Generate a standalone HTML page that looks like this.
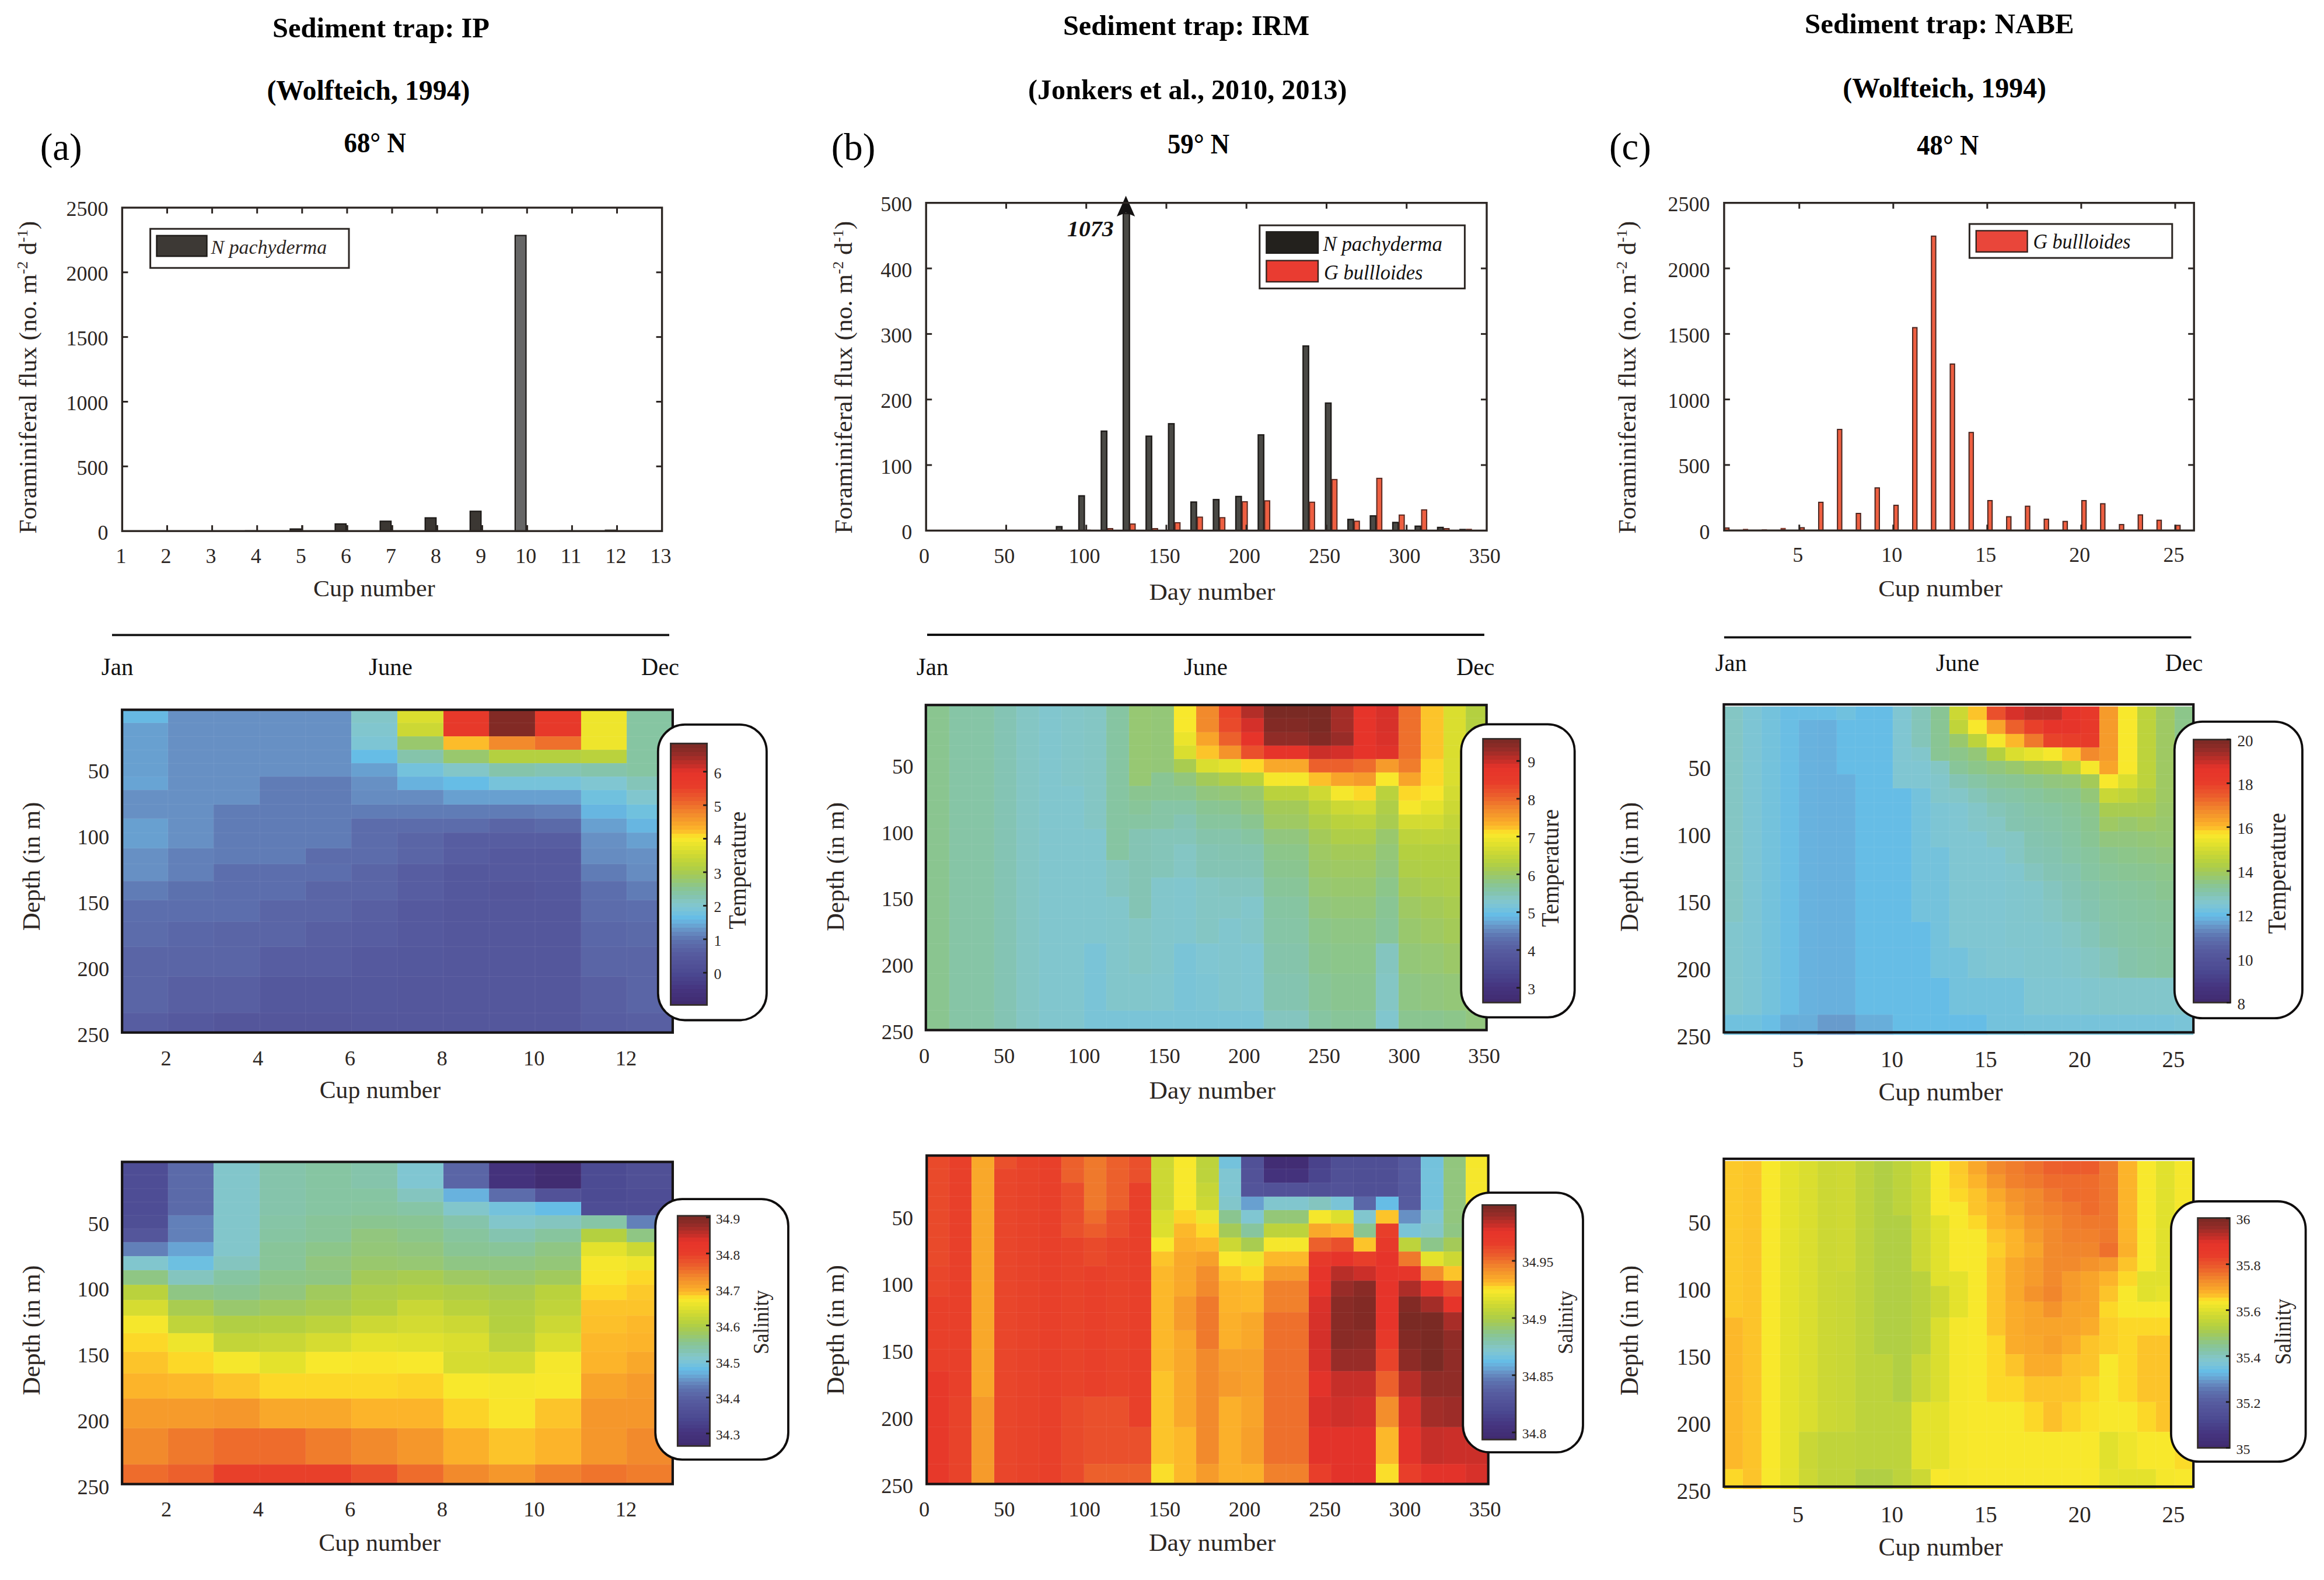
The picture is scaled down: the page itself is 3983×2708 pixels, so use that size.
<!DOCTYPE html>
<html lang="en"><head><meta charset="utf-8"><title>Sediment trap foraminiferal fluxes</title>
<style>html,body{margin:0;padding:0;background:#fff}svg{display:block}text{font-family:"Liberation Serif","Times New Roman",Times,serif}</style>
</head><body>
<svg width="3983" height="2708" viewBox="0 0 3983 2708">
<rect x="0" y="0" width="3983" height="2708" fill="#ffffff"/>
<text x="466.9" y="63.7" font-size="48" fill="#000000" font-weight="bold" textLength="372.1" lengthAdjust="spacingAndGlyphs">Sediment trap: IP</text>
<text x="457.4" y="171.3" font-size="48" fill="#000000" font-weight="bold" textLength="348.1" lengthAdjust="spacingAndGlyphs">(Wolfteich, 1994)</text>
<text x="589.5" y="260.8" font-size="48" fill="#000000" font-weight="bold" textLength="106.3" lengthAdjust="spacingAndGlyphs">68° N</text>
<text x="1821.9" y="59.9" font-size="48" fill="#000000" font-weight="bold" textLength="422.3" lengthAdjust="spacingAndGlyphs">Sediment trap: IRM</text>
<text x="1762" y="169.5" font-size="48" fill="#000000" font-weight="bold" textLength="546.6" lengthAdjust="spacingAndGlyphs">(Jonkers et al., 2010, 2013)</text>
<text x="2000.9" y="262.9" font-size="48" fill="#000000" font-weight="bold" textLength="106.3" lengthAdjust="spacingAndGlyphs">59° N</text>
<text x="3093.1" y="57.4" font-size="48" fill="#000000" font-weight="bold" textLength="461.5" lengthAdjust="spacingAndGlyphs">Sediment trap: NABE</text>
<text x="3158.2" y="167.3" font-size="48" fill="#000000" font-weight="bold" textLength="348.9" lengthAdjust="spacingAndGlyphs">(Wolfteich, 1994)</text>
<text x="3285.2" y="265" font-size="48" fill="#000000" font-weight="bold" textLength="106" lengthAdjust="spacingAndGlyphs">48° N</text>
<text x="68.8" y="273.7" font-size="65" fill="#000000" textLength="71.9" lengthAdjust="spacingAndGlyphs">(a)</text>
<text x="1424.7" y="274.1" font-size="65" fill="#000000" textLength="75.6" lengthAdjust="spacingAndGlyphs">(b)</text>
<text x="2758" y="273.3" font-size="65" fill="#000000" textLength="71.7" lengthAdjust="spacingAndGlyphs">(c)</text>
<rect x="265.5" y="908.93" width="19.5" height="1.27" fill="#3b3733"/>
<rect x="419.7" y="908.71" width="19.5" height="1.49" fill="#3b3733"/>
<rect x="497.4" y="906.65" width="18.6" height="3.55" fill="#3b3733" stroke="#1d1a18" stroke-width="2.2"/>
<rect x="516.6" y="900.2" width="3" height="10" fill="#3b3733"/>
<rect x="574.5" y="898.01" width="18.6" height="12.19" fill="#3b3733" stroke="#1d1a18" stroke-width="2.2"/>
<rect x="593.7" y="900.2" width="3" height="10" fill="#3b3733"/>
<rect x="651.6" y="893.35" width="18.6" height="16.85" fill="#3b3733" stroke="#1d1a18" stroke-width="2.2"/>
<rect x="670.8" y="900.2" width="3" height="10" fill="#3b3733"/>
<rect x="728.7" y="887.58" width="18.6" height="22.62" fill="#3b3733" stroke="#1d1a18" stroke-width="2.2"/>
<rect x="747.9" y="900.2" width="3" height="10" fill="#3b3733"/>
<rect x="805.8" y="876.28" width="18.6" height="33.92" fill="#3b3733" stroke="#1d1a18" stroke-width="2.2"/>
<rect x="825" y="900.2" width="3" height="10" fill="#3b3733"/>
<rect x="882.9" y="403.57" width="18.6" height="506.63" fill="#666666" stroke="#1d1a18" stroke-width="2.2"/>
<rect x="902.1" y="900.2" width="3" height="10" fill="#3b3733"/>
<rect x="959.4" y="908.71" width="19.5" height="1.49" fill="#3b3733"/>
<rect x="1036.5" y="907.6" width="19.5" height="2.6" fill="#3b3733"/>
<rect x="209.4" y="355.9" width="925.2" height="554.3" fill="none" stroke="#2c2623" stroke-width="3.4"/>
<line x1="286.5" y1="355.9" x2="286.5" y2="365.9" stroke="#2c2623" stroke-width="3"/>
<line x1="286.5" y1="910.2" x2="286.5" y2="900.2" stroke="#2c2623" stroke-width="3"/>
<line x1="363.6" y1="355.9" x2="363.6" y2="365.9" stroke="#2c2623" stroke-width="3"/>
<line x1="363.6" y1="910.2" x2="363.6" y2="900.2" stroke="#2c2623" stroke-width="3"/>
<line x1="440.7" y1="355.9" x2="440.7" y2="365.9" stroke="#2c2623" stroke-width="3"/>
<line x1="440.7" y1="910.2" x2="440.7" y2="900.2" stroke="#2c2623" stroke-width="3"/>
<line x1="517.8" y1="355.9" x2="517.8" y2="365.9" stroke="#2c2623" stroke-width="3"/>
<line x1="517.8" y1="910.2" x2="517.8" y2="900.2" stroke="#2c2623" stroke-width="3"/>
<line x1="594.9" y1="355.9" x2="594.9" y2="365.9" stroke="#2c2623" stroke-width="3"/>
<line x1="594.9" y1="910.2" x2="594.9" y2="900.2" stroke="#2c2623" stroke-width="3"/>
<line x1="672" y1="355.9" x2="672" y2="365.9" stroke="#2c2623" stroke-width="3"/>
<line x1="672" y1="910.2" x2="672" y2="900.2" stroke="#2c2623" stroke-width="3"/>
<line x1="749.1" y1="355.9" x2="749.1" y2="365.9" stroke="#2c2623" stroke-width="3"/>
<line x1="749.1" y1="910.2" x2="749.1" y2="900.2" stroke="#2c2623" stroke-width="3"/>
<line x1="826.2" y1="355.9" x2="826.2" y2="365.9" stroke="#2c2623" stroke-width="3"/>
<line x1="826.2" y1="910.2" x2="826.2" y2="900.2" stroke="#2c2623" stroke-width="3"/>
<line x1="903.3" y1="355.9" x2="903.3" y2="365.9" stroke="#2c2623" stroke-width="3"/>
<line x1="903.3" y1="910.2" x2="903.3" y2="900.2" stroke="#2c2623" stroke-width="3"/>
<line x1="980.4" y1="355.9" x2="980.4" y2="365.9" stroke="#2c2623" stroke-width="3"/>
<line x1="980.4" y1="910.2" x2="980.4" y2="900.2" stroke="#2c2623" stroke-width="3"/>
<line x1="1057.5" y1="355.9" x2="1057.5" y2="365.9" stroke="#2c2623" stroke-width="3"/>
<line x1="1057.5" y1="910.2" x2="1057.5" y2="900.2" stroke="#2c2623" stroke-width="3"/>
<line x1="209.4" y1="799.34" x2="219.4" y2="799.34" stroke="#2c2623" stroke-width="3"/>
<line x1="1134.6" y1="799.34" x2="1124.6" y2="799.34" stroke="#2c2623" stroke-width="3"/>
<line x1="209.4" y1="688.48" x2="219.4" y2="688.48" stroke="#2c2623" stroke-width="3"/>
<line x1="1134.6" y1="688.48" x2="1124.6" y2="688.48" stroke="#2c2623" stroke-width="3"/>
<line x1="209.4" y1="577.62" x2="219.4" y2="577.62" stroke="#2c2623" stroke-width="3"/>
<line x1="1134.6" y1="577.62" x2="1124.6" y2="577.62" stroke="#2c2623" stroke-width="3"/>
<line x1="209.4" y1="466.76" x2="219.4" y2="466.76" stroke="#2c2623" stroke-width="3"/>
<line x1="1134.6" y1="466.76" x2="1124.6" y2="466.76" stroke="#2c2623" stroke-width="3"/>
<text x="185.5" y="924.7" font-size="36" text-anchor="end" fill="#2c2623" textLength="18" lengthAdjust="spacingAndGlyphs">0</text>
<text x="185.5" y="813.84" font-size="36" text-anchor="end" fill="#2c2623" textLength="54" lengthAdjust="spacingAndGlyphs">500</text>
<text x="185.5" y="702.98" font-size="36" text-anchor="end" fill="#2c2623" textLength="72" lengthAdjust="spacingAndGlyphs">1000</text>
<text x="185.5" y="592.12" font-size="36" text-anchor="end" fill="#2c2623" textLength="72" lengthAdjust="spacingAndGlyphs">1500</text>
<text x="185.5" y="481.26" font-size="36" text-anchor="end" fill="#2c2623" textLength="72" lengthAdjust="spacingAndGlyphs">2000</text>
<text x="185.5" y="370.4" font-size="36" text-anchor="end" fill="#2c2623" textLength="72" lengthAdjust="spacingAndGlyphs">2500</text>
<text x="207.4" y="965" font-size="36" text-anchor="middle" fill="#2c2623" textLength="18" lengthAdjust="spacingAndGlyphs">1</text>
<text x="284.5" y="965" font-size="36" text-anchor="middle" fill="#2c2623" textLength="18" lengthAdjust="spacingAndGlyphs">2</text>
<text x="361.6" y="965" font-size="36" text-anchor="middle" fill="#2c2623" textLength="18" lengthAdjust="spacingAndGlyphs">3</text>
<text x="438.7" y="965" font-size="36" text-anchor="middle" fill="#2c2623" textLength="18" lengthAdjust="spacingAndGlyphs">4</text>
<text x="515.8" y="965" font-size="36" text-anchor="middle" fill="#2c2623" textLength="18" lengthAdjust="spacingAndGlyphs">5</text>
<text x="592.9" y="965" font-size="36" text-anchor="middle" fill="#2c2623" textLength="18" lengthAdjust="spacingAndGlyphs">6</text>
<text x="670" y="965" font-size="36" text-anchor="middle" fill="#2c2623" textLength="18" lengthAdjust="spacingAndGlyphs">7</text>
<text x="747.1" y="965" font-size="36" text-anchor="middle" fill="#2c2623" textLength="18" lengthAdjust="spacingAndGlyphs">8</text>
<text x="824.2" y="965" font-size="36" text-anchor="middle" fill="#2c2623" textLength="18" lengthAdjust="spacingAndGlyphs">9</text>
<text x="901.3" y="965" font-size="36" text-anchor="middle" fill="#2c2623" textLength="36" lengthAdjust="spacingAndGlyphs">10</text>
<text x="978.4" y="965" font-size="36" text-anchor="middle" fill="#2c2623" textLength="36" lengthAdjust="spacingAndGlyphs">11</text>
<text x="1055.5" y="965" font-size="36" text-anchor="middle" fill="#2c2623" textLength="36" lengthAdjust="spacingAndGlyphs">12</text>
<text x="1132.6" y="965" font-size="36" text-anchor="middle" fill="#2c2623" textLength="36" lengthAdjust="spacingAndGlyphs">13</text>
<text x="537" y="1022" font-size="41" fill="#2c2623" textLength="208.7" lengthAdjust="spacingAndGlyphs">Cup number</text>
<text x="62.3" y="914.8" font-size="43" fill="#2c2623" textLength="536" lengthAdjust="spacingAndGlyphs" transform="rotate(-90 62.3 914.8)">Foraminiferal flux (no. m<tspan font-size="26" dy="-15">-2</tspan><tspan dy="15"> d</tspan><tspan font-size="26" dy="-15">-1</tspan><tspan dy="15">)</tspan></text>
<rect x="257.6" y="392.2" width="340.4" height="67" fill="#fff" stroke="#2c2623" stroke-width="3"/>
<rect x="268.5" y="403.8" width="86" height="35.4" fill="#3d3935" stroke="#1d1a18" stroke-width="2.4"/>
<text x="361.6" y="434.6" font-size="33.5" fill="#2c2623" font-style="italic" textLength="198.5" lengthAdjust="spacingAndGlyphs">N pachyderma</text>
<line x1="192" y1="1088.3" x2="1147" y2="1088.3" stroke="#111" stroke-width="3.8"/>
<text x="173.8" y="1157.3" font-size="42" fill="#111" textLength="54.7" lengthAdjust="spacingAndGlyphs">Jan</text>
<text x="632" y="1157.3" font-size="42" fill="#111" textLength="74.8" lengthAdjust="spacingAndGlyphs">June</text>
<text x="1099" y="1157.3" font-size="42" fill="#111" textLength="65" lengthAdjust="spacingAndGlyphs">Dec</text>
<rect x="1810.6" y="902.66" width="9.4" height="6.74" fill="#4a4945" stroke="#1f1c1a" stroke-width="2.4"/>
<rect x="1849.03" y="849.86" width="9.4" height="59.54" fill="#4a4945" stroke="#1f1c1a" stroke-width="2.4"/>
<rect x="1859.43" y="907.73" width="10" height="1.67" fill="#7a3a30"/>
<rect x="1887.46" y="738.98" width="9.4" height="170.42" fill="#4a4945" stroke="#1f1c1a" stroke-width="2.4"/>
<rect x="1898.46" y="906.03" width="8.6" height="3.37" fill="#ee5f41" stroke="#5a2a22" stroke-width="2"/>
<rect x="1925.09" y="366" width="10.6" height="543.4" fill="#4a4945" stroke="#1f1c1a" stroke-width="2.4"/>
<rect x="1936.89" y="898.17" width="8.6" height="11.23" fill="#ee5f41" stroke="#5a2a22" stroke-width="2"/>
<rect x="1964.32" y="747.63" width="9.4" height="161.77" fill="#4a4945" stroke="#1f1c1a" stroke-width="2.4"/>
<rect x="1975.32" y="906.03" width="8.6" height="3.37" fill="#ee5f41" stroke="#5a2a22" stroke-width="2"/>
<rect x="2002.75" y="726.29" width="9.4" height="183.11" fill="#4a4945" stroke="#1f1c1a" stroke-width="2.4"/>
<rect x="2013.75" y="895.92" width="8.6" height="13.48" fill="#ee5f41" stroke="#5a2a22" stroke-width="2"/>
<rect x="2041.18" y="860.53" width="9.4" height="48.87" fill="#4a4945" stroke="#1f1c1a" stroke-width="2.4"/>
<rect x="2052.18" y="886.37" width="8.6" height="23.03" fill="#ee5f41" stroke="#5a2a22" stroke-width="2"/>
<rect x="2079.61" y="856.26" width="9.4" height="53.14" fill="#4a4945" stroke="#1f1c1a" stroke-width="2.4"/>
<rect x="2090.61" y="887.27" width="8.6" height="22.13" fill="#ee5f41" stroke="#5a2a22" stroke-width="2"/>
<rect x="2118.04" y="850.98" width="9.4" height="58.42" fill="#4a4945" stroke="#1f1c1a" stroke-width="2.4"/>
<rect x="2129.04" y="859.97" width="8.6" height="49.43" fill="#ee5f41" stroke="#5a2a22" stroke-width="2"/>
<rect x="2156.47" y="745.38" width="9.4" height="164.02" fill="#4a4945" stroke="#1f1c1a" stroke-width="2.4"/>
<rect x="2167.47" y="858.4" width="8.6" height="51" fill="#ee5f41" stroke="#5a2a22" stroke-width="2"/>
<rect x="2233.33" y="593.05" width="9.4" height="316.35" fill="#4a4945" stroke="#1f1c1a" stroke-width="2.4"/>
<rect x="2244.33" y="860.76" width="8.6" height="48.64" fill="#ee5f41" stroke="#5a2a22" stroke-width="2"/>
<rect x="2271.76" y="690.9" width="9.4" height="218.5" fill="#4a4945" stroke="#1f1c1a" stroke-width="2.4"/>
<rect x="2282.76" y="821.89" width="8.6" height="87.51" fill="#ee5f41" stroke="#5a2a22" stroke-width="2"/>
<rect x="2310.19" y="890.3" width="9.4" height="19.1" fill="#4a4945" stroke="#1f1c1a" stroke-width="2.4"/>
<rect x="2321.19" y="893.34" width="8.6" height="16.06" fill="#ee5f41" stroke="#5a2a22" stroke-width="2"/>
<rect x="2348.62" y="884.24" width="9.4" height="25.16" fill="#4a4945" stroke="#1f1c1a" stroke-width="2.4"/>
<rect x="2359.62" y="819.87" width="8.6" height="89.53" fill="#ee5f41" stroke="#5a2a22" stroke-width="2"/>
<rect x="2387.05" y="895.47" width="9.4" height="13.93" fill="#4a4945" stroke="#1f1c1a" stroke-width="2.4"/>
<rect x="2398.05" y="882.78" width="8.6" height="26.62" fill="#ee5f41" stroke="#5a2a22" stroke-width="2"/>
<rect x="2425.48" y="901.87" width="9.4" height="7.53" fill="#4a4945" stroke="#1f1c1a" stroke-width="2.4"/>
<rect x="2436.48" y="873.9" width="8.6" height="35.5" fill="#ee5f41" stroke="#5a2a22" stroke-width="2"/>
<rect x="2463.91" y="904.01" width="9.4" height="5.39" fill="#4a4945" stroke="#1f1c1a" stroke-width="2.4"/>
<rect x="2474.91" y="906.03" width="8.6" height="3.37" fill="#ee5f41" stroke="#5a2a22" stroke-width="2"/>
<rect x="2501.14" y="906.38" width="11.5" height="3.02" fill="#1f1c1a"/>
<rect x="2512.74" y="906.27" width="10" height="3.13" fill="#7a3a30"/>
<path d="M1929.6 335.5 L1945.2 371 L1929.6 364.5 L1914 371 Z" fill="#141212"/>
<rect x="1587.2" y="347.7" width="960.8" height="561.7" fill="none" stroke="#2c2623" stroke-width="3.4"/>
<line x1="1724.46" y1="347.7" x2="1724.46" y2="357.7" stroke="#2c2623" stroke-width="3"/>
<line x1="1724.46" y1="909.4" x2="1724.46" y2="899.4" stroke="#2c2623" stroke-width="3"/>
<line x1="1861.71" y1="347.7" x2="1861.71" y2="357.7" stroke="#2c2623" stroke-width="3"/>
<line x1="1861.71" y1="909.4" x2="1861.71" y2="899.4" stroke="#2c2623" stroke-width="3"/>
<line x1="1998.97" y1="347.7" x2="1998.97" y2="357.7" stroke="#2c2623" stroke-width="3"/>
<line x1="1998.97" y1="909.4" x2="1998.97" y2="899.4" stroke="#2c2623" stroke-width="3"/>
<line x1="2136.23" y1="347.7" x2="2136.23" y2="357.7" stroke="#2c2623" stroke-width="3"/>
<line x1="2136.23" y1="909.4" x2="2136.23" y2="899.4" stroke="#2c2623" stroke-width="3"/>
<line x1="2273.49" y1="347.7" x2="2273.49" y2="357.7" stroke="#2c2623" stroke-width="3"/>
<line x1="2273.49" y1="909.4" x2="2273.49" y2="899.4" stroke="#2c2623" stroke-width="3"/>
<line x1="2410.74" y1="347.7" x2="2410.74" y2="357.7" stroke="#2c2623" stroke-width="3"/>
<line x1="2410.74" y1="909.4" x2="2410.74" y2="899.4" stroke="#2c2623" stroke-width="3"/>
<line x1="1587.2" y1="797.06" x2="1597.2" y2="797.06" stroke="#2c2623" stroke-width="3"/>
<line x1="2548" y1="797.06" x2="2538" y2="797.06" stroke="#2c2623" stroke-width="3"/>
<line x1="1587.2" y1="684.72" x2="1597.2" y2="684.72" stroke="#2c2623" stroke-width="3"/>
<line x1="2548" y1="684.72" x2="2538" y2="684.72" stroke="#2c2623" stroke-width="3"/>
<line x1="1587.2" y1="572.38" x2="1597.2" y2="572.38" stroke="#2c2623" stroke-width="3"/>
<line x1="2548" y1="572.38" x2="2538" y2="572.38" stroke="#2c2623" stroke-width="3"/>
<line x1="1587.2" y1="460.04" x2="1597.2" y2="460.04" stroke="#2c2623" stroke-width="3"/>
<line x1="2548" y1="460.04" x2="2538" y2="460.04" stroke="#2c2623" stroke-width="3"/>
<text x="1563.3" y="923.9" font-size="36" text-anchor="end" fill="#2c2623" textLength="18" lengthAdjust="spacingAndGlyphs">0</text>
<text x="1563.3" y="811.56" font-size="36" text-anchor="end" fill="#2c2623" textLength="54" lengthAdjust="spacingAndGlyphs">100</text>
<text x="1563.3" y="699.22" font-size="36" text-anchor="end" fill="#2c2623" textLength="54" lengthAdjust="spacingAndGlyphs">200</text>
<text x="1563.3" y="586.88" font-size="36" text-anchor="end" fill="#2c2623" textLength="54" lengthAdjust="spacingAndGlyphs">300</text>
<text x="1563.3" y="474.54" font-size="36" text-anchor="end" fill="#2c2623" textLength="54" lengthAdjust="spacingAndGlyphs">400</text>
<text x="1563.3" y="362.2" font-size="36" text-anchor="end" fill="#2c2623" textLength="54" lengthAdjust="spacingAndGlyphs">500</text>
<text x="1583.9" y="965" font-size="36" text-anchor="middle" fill="#2c2623" textLength="18" lengthAdjust="spacingAndGlyphs">0</text>
<text x="1721.16" y="965" font-size="36" text-anchor="middle" fill="#2c2623" textLength="36" lengthAdjust="spacingAndGlyphs">50</text>
<text x="1858.41" y="965" font-size="36" text-anchor="middle" fill="#2c2623" textLength="54" lengthAdjust="spacingAndGlyphs">100</text>
<text x="1995.67" y="965" font-size="36" text-anchor="middle" fill="#2c2623" textLength="54" lengthAdjust="spacingAndGlyphs">150</text>
<text x="2132.93" y="965" font-size="36" text-anchor="middle" fill="#2c2623" textLength="54" lengthAdjust="spacingAndGlyphs">200</text>
<text x="2270.19" y="965" font-size="36" text-anchor="middle" fill="#2c2623" textLength="54" lengthAdjust="spacingAndGlyphs">250</text>
<text x="2407.44" y="965" font-size="36" text-anchor="middle" fill="#2c2623" textLength="54" lengthAdjust="spacingAndGlyphs">300</text>
<text x="2544.7" y="965" font-size="36" text-anchor="middle" fill="#2c2623" textLength="54" lengthAdjust="spacingAndGlyphs">350</text>
<text x="1969.5" y="1027.6" font-size="41" fill="#2c2623" textLength="215.9" lengthAdjust="spacingAndGlyphs">Day number</text>
<text x="1460.5" y="914.8" font-size="43" fill="#2c2623" textLength="536" lengthAdjust="spacingAndGlyphs" transform="rotate(-90 1460.5 914.8)">Foraminiferal flux (no. m<tspan font-size="26" dy="-15">-2</tspan><tspan dy="15"> d</tspan><tspan font-size="26" dy="-15">-1</tspan><tspan dy="15">)</tspan></text>
<text x="1829.1" y="404.8" font-size="37.5" fill="#141212" font-weight="bold" font-style="italic" textLength="79.6" lengthAdjust="spacingAndGlyphs">1073</text>
<rect x="2158.8" y="386.2" width="351.6" height="108.2" fill="#fff" stroke="#2c2623" stroke-width="3"/>
<rect x="2170" y="397" width="89.4" height="37.2" fill="#23211d" stroke="#1a1816" stroke-width="1.6"/>
<rect x="2170.4" y="446.6" width="88.6" height="36.4" fill="#e93c31" stroke="#3a2420" stroke-width="2.4"/>
<text x="2267.4" y="430" font-size="35" fill="#141212" font-style="italic" textLength="204.5" lengthAdjust="spacingAndGlyphs">N pachyderma</text>
<text x="2268.9" y="478.7" font-size="35" fill="#141212" font-style="italic" textLength="169.6" lengthAdjust="spacingAndGlyphs">G bullloides</text>
<line x1="1589" y1="1088" x2="2543.9" y2="1088" stroke="#111" stroke-width="3.8"/>
<text x="1570.8" y="1156.7" font-size="42" fill="#111" textLength="54.7" lengthAdjust="spacingAndGlyphs">Jan</text>
<text x="2028.9" y="1156.7" font-size="42" fill="#111" textLength="75" lengthAdjust="spacingAndGlyphs">June</text>
<text x="2495.9" y="1156.7" font-size="42" fill="#111" textLength="65.3" lengthAdjust="spacingAndGlyphs">Dec</text>
<rect x="2955.9" y="904.93" width="7.4" height="4.27" fill="#ee5f41" stroke="#4a2620" stroke-width="2"/>
<rect x="2987.11" y="906.4" width="9" height="2.8" fill="#8a4034"/>
<rect x="3019.32" y="907.3" width="9" height="1.9" fill="#8a4034"/>
<rect x="3051.54" y="904.83" width="9" height="4.37" fill="#8a4034"/>
<rect x="3084.75" y="904.48" width="7.4" height="4.72" fill="#ee5f41" stroke="#4a2620" stroke-width="2"/>
<rect x="3116.96" y="860.91" width="7.4" height="48.29" fill="#ee5f41" stroke="#4a2620" stroke-width="2"/>
<rect x="3149.17" y="736.03" width="7.4" height="173.17" fill="#ee5f41" stroke="#4a2620" stroke-width="2"/>
<rect x="3181.38" y="880" width="7.4" height="29.2" fill="#ee5f41" stroke="#4a2620" stroke-width="2"/>
<rect x="3213.6" y="836.21" width="7.4" height="73" fill="#ee5f41" stroke="#4a2620" stroke-width="2"/>
<rect x="3245.81" y="866.08" width="7.4" height="43.12" fill="#ee5f41" stroke="#4a2620" stroke-width="2"/>
<rect x="3278.02" y="561.52" width="7.4" height="347.68" fill="#ee5f41" stroke="#4a2620" stroke-width="2"/>
<rect x="3310.23" y="404.75" width="7.4" height="504.45" fill="#ee5f41" stroke="#4a2620" stroke-width="2"/>
<rect x="3342.44" y="623.96" width="7.4" height="285.24" fill="#ee5f41" stroke="#4a2620" stroke-width="2"/>
<rect x="3374.66" y="741.2" width="7.4" height="168" fill="#ee5f41" stroke="#4a2620" stroke-width="2"/>
<rect x="3406.87" y="857.99" width="7.4" height="51.21" fill="#ee5f41" stroke="#4a2620" stroke-width="2"/>
<rect x="3439.08" y="885.62" width="7.4" height="23.58" fill="#ee5f41" stroke="#4a2620" stroke-width="2"/>
<rect x="3471.29" y="867.65" width="7.4" height="41.55" fill="#ee5f41" stroke="#4a2620" stroke-width="2"/>
<rect x="3503.5" y="889.88" width="7.4" height="19.32" fill="#ee5f41" stroke="#4a2620" stroke-width="2"/>
<rect x="3535.72" y="893.7" width="7.4" height="15.5" fill="#ee5f41" stroke="#4a2620" stroke-width="2"/>
<rect x="3567.93" y="857.99" width="7.4" height="51.21" fill="#ee5f41" stroke="#4a2620" stroke-width="2"/>
<rect x="3600.14" y="863.38" width="7.4" height="45.82" fill="#ee5f41" stroke="#4a2620" stroke-width="2"/>
<rect x="3632.35" y="899.09" width="7.4" height="10.11" fill="#ee5f41" stroke="#4a2620" stroke-width="2"/>
<rect x="3664.56" y="882.47" width="7.4" height="26.73" fill="#ee5f41" stroke="#4a2620" stroke-width="2"/>
<rect x="3696.78" y="891.68" width="7.4" height="17.52" fill="#ee5f41" stroke="#4a2620" stroke-width="2"/>
<rect x="3728.99" y="900.44" width="7.4" height="8.76" fill="#ee5f41" stroke="#4a2620" stroke-width="2"/>
<rect x="2954.9" y="347.7" width="805.3" height="561.5" fill="none" stroke="#2c2623" stroke-width="3.4"/>
<line x1="3083.75" y1="347.7" x2="3083.75" y2="357.7" stroke="#2c2623" stroke-width="3"/>
<line x1="3083.75" y1="909.2" x2="3083.75" y2="899.2" stroke="#2c2623" stroke-width="3"/>
<line x1="3244.81" y1="347.7" x2="3244.81" y2="357.7" stroke="#2c2623" stroke-width="3"/>
<line x1="3244.81" y1="909.2" x2="3244.81" y2="899.2" stroke="#2c2623" stroke-width="3"/>
<line x1="3405.87" y1="347.7" x2="3405.87" y2="357.7" stroke="#2c2623" stroke-width="3"/>
<line x1="3405.87" y1="909.2" x2="3405.87" y2="899.2" stroke="#2c2623" stroke-width="3"/>
<line x1="3566.93" y1="347.7" x2="3566.93" y2="357.7" stroke="#2c2623" stroke-width="3"/>
<line x1="3566.93" y1="909.2" x2="3566.93" y2="899.2" stroke="#2c2623" stroke-width="3"/>
<line x1="3727.99" y1="347.7" x2="3727.99" y2="357.7" stroke="#2c2623" stroke-width="3"/>
<line x1="3727.99" y1="909.2" x2="3727.99" y2="899.2" stroke="#2c2623" stroke-width="3"/>
<line x1="2954.9" y1="796.9" x2="2964.9" y2="796.9" stroke="#2c2623" stroke-width="3"/>
<line x1="3760.2" y1="796.9" x2="3750.2" y2="796.9" stroke="#2c2623" stroke-width="3"/>
<line x1="2954.9" y1="684.6" x2="2964.9" y2="684.6" stroke="#2c2623" stroke-width="3"/>
<line x1="3760.2" y1="684.6" x2="3750.2" y2="684.6" stroke="#2c2623" stroke-width="3"/>
<line x1="2954.9" y1="572.3" x2="2964.9" y2="572.3" stroke="#2c2623" stroke-width="3"/>
<line x1="3760.2" y1="572.3" x2="3750.2" y2="572.3" stroke="#2c2623" stroke-width="3"/>
<line x1="2954.9" y1="460" x2="2964.9" y2="460" stroke="#2c2623" stroke-width="3"/>
<line x1="3760.2" y1="460" x2="3750.2" y2="460" stroke="#2c2623" stroke-width="3"/>
<text x="2930.5" y="923.7" font-size="36" text-anchor="end" fill="#2c2623" textLength="18" lengthAdjust="spacingAndGlyphs">0</text>
<text x="2930.5" y="811.4" font-size="36" text-anchor="end" fill="#2c2623" textLength="54" lengthAdjust="spacingAndGlyphs">500</text>
<text x="2930.5" y="699.1" font-size="36" text-anchor="end" fill="#2c2623" textLength="72" lengthAdjust="spacingAndGlyphs">1000</text>
<text x="2930.5" y="586.8" font-size="36" text-anchor="end" fill="#2c2623" textLength="72" lengthAdjust="spacingAndGlyphs">1500</text>
<text x="2930.5" y="474.5" font-size="36" text-anchor="end" fill="#2c2623" textLength="72" lengthAdjust="spacingAndGlyphs">2000</text>
<text x="2930.5" y="362.2" font-size="36" text-anchor="end" fill="#2c2623" textLength="72" lengthAdjust="spacingAndGlyphs">2500</text>
<text x="3081.15" y="962.8" font-size="36" text-anchor="middle" fill="#2c2623" textLength="18" lengthAdjust="spacingAndGlyphs">5</text>
<text x="3242.21" y="962.8" font-size="36" text-anchor="middle" fill="#2c2623" textLength="36" lengthAdjust="spacingAndGlyphs">10</text>
<text x="3403.27" y="962.8" font-size="36" text-anchor="middle" fill="#2c2623" textLength="36" lengthAdjust="spacingAndGlyphs">15</text>
<text x="3564.33" y="962.8" font-size="36" text-anchor="middle" fill="#2c2623" textLength="36" lengthAdjust="spacingAndGlyphs">20</text>
<text x="3725.39" y="962.8" font-size="36" text-anchor="middle" fill="#2c2623" textLength="36" lengthAdjust="spacingAndGlyphs">25</text>
<text x="3219.2" y="1022.1" font-size="41" fill="#2c2623" textLength="212.7" lengthAdjust="spacingAndGlyphs">Cup number</text>
<text x="2803" y="914.8" font-size="43" fill="#2c2623" textLength="536" lengthAdjust="spacingAndGlyphs" transform="rotate(-90 2803 914.8)">Foraminiferal flux (no. m<tspan font-size="26" dy="-15">-2</tspan><tspan dy="15"> d</tspan><tspan font-size="26" dy="-15">-1</tspan><tspan dy="15">)</tspan></text>
<rect x="3375.4" y="383.9" width="347.4" height="58.2" fill="#fff" stroke="#2c2623" stroke-width="3"/>
<rect x="3386.8" y="395.4" width="87.8" height="36.4" fill="#e9463a" stroke="#3a2420" stroke-width="2.4"/>
<text x="3484.5" y="426.1" font-size="35" fill="#141212" font-style="italic" textLength="167.1" lengthAdjust="spacingAndGlyphs">G bullloides</text>
<line x1="2954.9" y1="1092.4" x2="3755.5" y2="1092.4" stroke="#111" stroke-width="3.8"/>
<text x="2939.7" y="1150.4" font-size="42" fill="#111" textLength="54" lengthAdjust="spacingAndGlyphs">Jan</text>
<text x="3318" y="1150.4" font-size="42" fill="#111" textLength="74.4" lengthAdjust="spacingAndGlyphs">June</text>
<text x="3710.8" y="1150.4" font-size="42" fill="#111" textLength="64.5" lengthAdjust="spacingAndGlyphs">Dec</text>
<clipPath id="hc1"><rect x="209.2" y="1216.5" width="943.7" height="553.2"/></clipPath>
<g clip-path="url(#hc1)">
<g shape-rendering="crispEdges">
<rect x="209.2" y="1216.5" width="79.24" height="23.06" fill="#67b9e3"/>
<rect x="287.84" y="1216.5" width="315.17" height="23.06" fill="#6790c4"/>
<rect x="602.41" y="1216.5" width="79.24" height="23.06" fill="#83c6c8"/>
<rect x="681.05" y="1216.5" width="79.24" height="23.06" fill="#dade2f"/>
<rect x="759.69" y="1216.5" width="79.24" height="23.06" fill="#e7392a"/>
<rect x="838.33" y="1216.5" width="79.24" height="23.06" fill="#822a25"/>
<rect x="916.97" y="1216.5" width="79.24" height="23.06" fill="#e7392a"/>
<rect x="995.62" y="1216.5" width="79.24" height="23.06" fill="#eee52c"/>
<rect x="1074.26" y="1216.5" width="79.24" height="23.06" fill="#86c5a2"/>
<rect x="209.2" y="1238.96" width="79.24" height="24.11" fill="#68a0d0"/>
<rect x="287.84" y="1238.96" width="315.17" height="24.11" fill="#6790c4"/>
<rect x="602.41" y="1238.96" width="79.24" height="24.11" fill="#81c6ce"/>
<rect x="681.05" y="1238.96" width="79.24" height="24.11" fill="#ccd834"/>
<rect x="759.69" y="1238.96" width="79.24" height="24.11" fill="#e7392a"/>
<rect x="838.33" y="1238.96" width="79.24" height="24.11" fill="#822a25"/>
<rect x="916.97" y="1238.96" width="79.24" height="24.11" fill="#e7392a"/>
<rect x="995.62" y="1238.96" width="79.24" height="24.11" fill="#eee52c"/>
<rect x="1074.26" y="1238.96" width="79.24" height="24.11" fill="#86c5a2"/>
<rect x="209.2" y="1262.47" width="79.24" height="23.45" fill="#68a0d0"/>
<rect x="287.84" y="1262.47" width="315.17" height="23.45" fill="#6790c4"/>
<rect x="602.41" y="1262.47" width="79.24" height="23.45" fill="#7dc5d4"/>
<rect x="681.05" y="1262.47" width="79.24" height="23.45" fill="#99c86d"/>
<rect x="759.69" y="1262.47" width="79.24" height="23.45" fill="#fcbc2a"/>
<rect x="838.33" y="1262.47" width="79.24" height="23.45" fill="#f28a2c"/>
<rect x="916.97" y="1262.47" width="79.24" height="23.45" fill="#ee702c"/>
<rect x="995.62" y="1262.47" width="79.24" height="23.45" fill="#eee52c"/>
<rect x="1074.26" y="1262.47" width="79.24" height="23.45" fill="#86c5a2"/>
<rect x="209.2" y="1285.32" width="79.24" height="23.61" fill="#68a0d0"/>
<rect x="287.84" y="1285.32" width="315.17" height="23.61" fill="#6790c4"/>
<rect x="602.41" y="1285.32" width="79.24" height="23.61" fill="#66bde6"/>
<rect x="681.05" y="1285.32" width="79.24" height="23.61" fill="#85c4ab"/>
<rect x="759.69" y="1285.32" width="79.24" height="23.61" fill="#99c86d"/>
<rect x="838.33" y="1285.32" width="157.88" height="23.61" fill="#b4d040"/>
<rect x="995.62" y="1285.32" width="79.24" height="23.61" fill="#bad23d"/>
<rect x="1074.26" y="1285.32" width="79.24" height="23.61" fill="#86c5a2"/>
<rect x="209.2" y="1308.33" width="79.24" height="23.45" fill="#68a0d0"/>
<rect x="287.84" y="1308.33" width="315.17" height="23.45" fill="#6790c4"/>
<rect x="602.41" y="1308.33" width="79.24" height="23.45" fill="#68a0d0"/>
<rect x="681.05" y="1308.33" width="79.24" height="23.45" fill="#74c2dc"/>
<rect x="759.69" y="1308.33" width="79.24" height="23.45" fill="#83c6c8"/>
<rect x="838.33" y="1308.33" width="79.24" height="23.45" fill="#85c4ab"/>
<rect x="916.97" y="1308.33" width="79.24" height="23.45" fill="#84c4b4"/>
<rect x="995.62" y="1308.33" width="79.24" height="23.45" fill="#85c4ab"/>
<rect x="1074.26" y="1308.33" width="79.24" height="23.45" fill="#86c5a2"/>
<rect x="209.2" y="1331.18" width="79.24" height="23.61" fill="#68a4d4"/>
<rect x="287.84" y="1331.18" width="157.88" height="23.61" fill="#6790c4"/>
<rect x="445.12" y="1331.18" width="157.88" height="23.61" fill="#607cb6"/>
<rect x="602.41" y="1331.18" width="79.24" height="23.61" fill="#6790c4"/>
<rect x="681.05" y="1331.18" width="79.24" height="23.61" fill="#68b2de"/>
<rect x="759.69" y="1331.18" width="79.24" height="23.61" fill="#66bde6"/>
<rect x="838.33" y="1331.18" width="157.88" height="23.61" fill="#77c3da"/>
<rect x="995.62" y="1331.18" width="79.24" height="23.61" fill="#80c6d2"/>
<rect x="1074.26" y="1331.18" width="79.24" height="23.61" fill="#84c5b9"/>
<rect x="209.2" y="1354.19" width="236.53" height="24.94" fill="#6790c4"/>
<rect x="445.12" y="1354.19" width="157.88" height="24.94" fill="#607cb6"/>
<rect x="602.41" y="1354.19" width="157.88" height="24.94" fill="#668cc1"/>
<rect x="759.69" y="1354.19" width="236.53" height="24.94" fill="#68a0d0"/>
<rect x="995.62" y="1354.19" width="79.24" height="24.94" fill="#70c1de"/>
<rect x="1074.26" y="1354.19" width="79.24" height="24.94" fill="#81c6ce"/>
<rect x="209.2" y="1378.53" width="157.88" height="24.83" fill="#6790c4"/>
<rect x="366.48" y="1378.53" width="551.09" height="24.83" fill="#607cb6"/>
<rect x="916.97" y="1378.53" width="79.24" height="24.83" fill="#6280b9"/>
<rect x="995.62" y="1378.53" width="79.24" height="24.83" fill="#67b6e1"/>
<rect x="1074.26" y="1378.53" width="79.24" height="24.83" fill="#70c1de"/>
<rect x="209.2" y="1402.76" width="79.24" height="25.22" fill="#68a0d0"/>
<rect x="287.84" y="1402.76" width="79.24" height="25.22" fill="#6790c4"/>
<rect x="366.48" y="1402.76" width="236.53" height="25.22" fill="#607cb6"/>
<rect x="602.41" y="1402.76" width="236.53" height="25.22" fill="#5c6cab"/>
<rect x="838.33" y="1402.76" width="79.24" height="25.22" fill="#5a65a6"/>
<rect x="916.97" y="1402.76" width="79.24" height="25.22" fill="#5b6aa9"/>
<rect x="995.62" y="1402.76" width="79.24" height="25.22" fill="#68a0d0"/>
<rect x="1074.26" y="1402.76" width="79.24" height="25.22" fill="#67b6e1"/>
<rect x="209.2" y="1427.38" width="79.24" height="26.82" fill="#68a0d0"/>
<rect x="287.84" y="1427.38" width="79.24" height="26.82" fill="#6790c4"/>
<rect x="366.48" y="1427.38" width="236.53" height="26.82" fill="#607cb6"/>
<rect x="602.41" y="1427.38" width="79.24" height="26.82" fill="#5c6cab"/>
<rect x="681.05" y="1427.38" width="79.24" height="26.82" fill="#5a65a6"/>
<rect x="759.69" y="1427.38" width="236.53" height="26.82" fill="#575da1"/>
<rect x="995.62" y="1427.38" width="79.24" height="26.82" fill="#6790c4"/>
<rect x="1074.26" y="1427.38" width="79.24" height="26.82" fill="#68a0d0"/>
<rect x="209.2" y="1453.6" width="79.24" height="27.71" fill="#6790c4"/>
<rect x="287.84" y="1453.6" width="79.24" height="27.71" fill="#6280b9"/>
<rect x="366.48" y="1453.6" width="157.88" height="27.71" fill="#607cb6"/>
<rect x="523.77" y="1453.6" width="157.88" height="27.71" fill="#5c6cab"/>
<rect x="681.05" y="1453.6" width="79.24" height="27.71" fill="#5a65a6"/>
<rect x="759.69" y="1453.6" width="79.24" height="27.71" fill="#575da1"/>
<rect x="838.33" y="1453.6" width="157.88" height="27.71" fill="#55599e"/>
<rect x="995.62" y="1453.6" width="79.24" height="27.71" fill="#668cc1"/>
<rect x="1074.26" y="1453.6" width="79.24" height="27.71" fill="#6790c4"/>
<rect x="209.2" y="1480.71" width="79.24" height="30.25" fill="#6790c4"/>
<rect x="287.84" y="1480.71" width="79.24" height="30.25" fill="#6280b9"/>
<rect x="366.48" y="1480.71" width="236.53" height="30.25" fill="#5c6ead"/>
<rect x="602.41" y="1480.71" width="79.24" height="30.25" fill="#5a65a6"/>
<rect x="681.05" y="1480.71" width="79.24" height="30.25" fill="#575da1"/>
<rect x="759.69" y="1480.71" width="79.24" height="30.25" fill="#54589d"/>
<rect x="838.33" y="1480.71" width="157.88" height="30.25" fill="#55599e"/>
<rect x="995.62" y="1480.71" width="79.24" height="30.25" fill="#607cb6"/>
<rect x="1074.26" y="1480.71" width="79.24" height="30.25" fill="#668cc1"/>
<rect x="209.2" y="1510.36" width="79.24" height="32.91" fill="#607cb6"/>
<rect x="287.84" y="1510.36" width="79.24" height="32.91" fill="#5c71ae"/>
<rect x="366.48" y="1510.36" width="157.88" height="32.91" fill="#5c6ead"/>
<rect x="523.77" y="1510.36" width="157.88" height="32.91" fill="#5a65a6"/>
<rect x="681.05" y="1510.36" width="79.24" height="32.91" fill="#575da1"/>
<rect x="759.69" y="1510.36" width="79.24" height="32.91" fill="#54589d"/>
<rect x="838.33" y="1510.36" width="79.24" height="32.91" fill="#54569b"/>
<rect x="916.97" y="1510.36" width="79.24" height="32.91" fill="#54589d"/>
<rect x="995.62" y="1510.36" width="79.24" height="32.91" fill="#5c6ead"/>
<rect x="1074.26" y="1510.36" width="79.24" height="32.91" fill="#607cb6"/>
<rect x="209.2" y="1542.67" width="236.53" height="37.66" fill="#5c6ead"/>
<rect x="445.12" y="1542.67" width="157.88" height="37.66" fill="#5a65a6"/>
<rect x="602.41" y="1542.67" width="79.24" height="37.66" fill="#585fa2"/>
<rect x="681.05" y="1542.67" width="79.24" height="37.66" fill="#55599e"/>
<rect x="759.69" y="1542.67" width="236.53" height="37.66" fill="#54579c"/>
<rect x="995.62" y="1542.67" width="79.24" height="37.66" fill="#5c6cab"/>
<rect x="1074.26" y="1542.67" width="79.24" height="37.66" fill="#5c6ead"/>
<rect x="209.2" y="1579.73" width="79.24" height="43.47" fill="#5c6cab"/>
<rect x="287.84" y="1579.73" width="79.24" height="43.47" fill="#5a67a8"/>
<rect x="366.48" y="1579.73" width="157.88" height="43.47" fill="#5a65a6"/>
<rect x="523.77" y="1579.73" width="79.24" height="43.47" fill="#585fa2"/>
<rect x="602.41" y="1579.73" width="79.24" height="43.47" fill="#575da1"/>
<rect x="681.05" y="1579.73" width="79.24" height="43.47" fill="#55599e"/>
<rect x="759.69" y="1579.73" width="236.53" height="43.47" fill="#54579c"/>
<rect x="995.62" y="1579.73" width="79.24" height="43.47" fill="#5a67a8"/>
<rect x="1074.26" y="1579.73" width="79.24" height="43.47" fill="#5b6aa9"/>
<rect x="209.2" y="1622.6" width="236.53" height="51.55" fill="#5a65a6"/>
<rect x="445.12" y="1622.6" width="157.88" height="51.55" fill="#575da1"/>
<rect x="602.41" y="1622.6" width="79.24" height="51.55" fill="#55599e"/>
<rect x="681.05" y="1622.6" width="79.24" height="51.55" fill="#54589d"/>
<rect x="759.69" y="1622.6" width="236.53" height="51.55" fill="#54579c"/>
<rect x="995.62" y="1622.6" width="157.88" height="51.55" fill="#5a65a6"/>
<rect x="209.2" y="1673.55" width="79.24" height="63.22" fill="#5a65a6"/>
<rect x="287.84" y="1673.55" width="157.88" height="63.22" fill="#585fa2"/>
<rect x="445.12" y="1673.55" width="236.53" height="63.22" fill="#54589d"/>
<rect x="681.05" y="1673.55" width="315.17" height="63.22" fill="#54579c"/>
<rect x="995.62" y="1673.55" width="79.24" height="63.22" fill="#585fa2"/>
<rect x="1074.26" y="1673.55" width="79.24" height="63.22" fill="#5a65a6"/>
<rect x="209.2" y="1736.18" width="79.24" height="34.12" fill="#575da1"/>
<rect x="287.84" y="1736.18" width="79.24" height="34.12" fill="#55599e"/>
<rect x="366.48" y="1736.18" width="236.53" height="34.12" fill="#54569b"/>
<rect x="602.41" y="1736.18" width="393.81" height="34.12" fill="#54579c"/>
<rect x="995.62" y="1736.18" width="79.24" height="34.12" fill="#575da1"/>
<rect x="1074.26" y="1736.18" width="79.24" height="34.12" fill="#585fa2"/>
</g>
<path d="M287.84 1216.5V1769.7M366.48 1216.5V1769.7M445.12 1216.5V1769.7M523.77 1216.5V1769.7M602.41 1216.5V1769.7M681.05 1216.5V1769.7M759.69 1216.5V1769.7M838.33 1216.5V1769.7M916.97 1216.5V1769.7M995.62 1216.5V1769.7M1074.26 1216.5V1769.7M209.2 1238.96H1152.9M209.2 1262.47H1152.9M209.2 1285.32H1152.9M209.2 1308.33H1152.9M209.2 1331.18H1152.9M209.2 1354.19H1152.9M209.2 1378.53H1152.9M209.2 1402.76H1152.9M209.2 1427.38H1152.9M209.2 1453.6H1152.9M209.2 1480.71H1152.9M209.2 1510.36H1152.9M209.2 1542.67H1152.9M209.2 1579.73H1152.9M209.2 1622.6H1152.9M209.2 1673.55H1152.9M209.2 1736.18H1152.9" stroke="#ffffff" stroke-opacity="0.075" stroke-width="1" fill="none"/>
</g>
<rect x="209.2" y="1216.5" width="943.7" height="553.2" fill="none" stroke="#161314" stroke-width="4.2"/>
<text x="187.2" y="1333.63" font-size="36.5" text-anchor="end" fill="#2c2623">50</text>
<text x="187.2" y="1446.63" font-size="36.5" text-anchor="end" fill="#2c2623">100</text>
<text x="187.2" y="1559.63" font-size="36.5" text-anchor="end" fill="#2c2623">150</text>
<text x="187.2" y="1672.63" font-size="36.5" text-anchor="end" fill="#2c2623">200</text>
<text x="187.2" y="1785.63" font-size="36.5" text-anchor="end" fill="#2c2623">250</text>
<text x="284.5" y="1826" font-size="36.5" text-anchor="middle" fill="#2c2623">2</text>
<text x="442.2" y="1826" font-size="36.5" text-anchor="middle" fill="#2c2623">4</text>
<text x="599.9" y="1826" font-size="36.5" text-anchor="middle" fill="#2c2623">6</text>
<text x="757.6" y="1826" font-size="36.5" text-anchor="middle" fill="#2c2623">8</text>
<text x="915.3" y="1826" font-size="36.5" text-anchor="middle" fill="#2c2623">10</text>
<text x="1073" y="1826" font-size="36.5" text-anchor="middle" fill="#2c2623">12</text>
<text x="547.8" y="1882.3" font-size="42.5" fill="#2c2623" textLength="207.4" lengthAdjust="spacingAndGlyphs">Cup number</text>
<text x="68.5" y="1595.3" font-size="43" fill="#2c2623" textLength="220.7" lengthAdjust="spacingAndGlyphs" transform="rotate(-90 68.5 1595.3)">Depth (in m)</text>
<rect x="1127.8" y="1241.9" width="186.1" height="506.6" fill="#ffffff" stroke="#0f0d0d" stroke-width="3.8" rx="46"/>
<g shape-rendering="crispEdges">
<rect x="1149.5" y="1715.4" width="62.1" height="7.6" fill="#412b70"/>
<rect x="1149.5" y="1708.4" width="62.1" height="7.6" fill="#422e75"/>
<rect x="1149.5" y="1701.4" width="62.1" height="7.6" fill="#433179"/>
<rect x="1149.5" y="1694.39" width="62.1" height="7.6" fill="#45337d"/>
<rect x="1149.5" y="1687.39" width="62.1" height="7.6" fill="#463782"/>
<rect x="1149.5" y="1680.39" width="62.1" height="7.6" fill="#473d87"/>
<rect x="1149.5" y="1673.39" width="62.1" height="7.6" fill="#49428b"/>
<rect x="1149.5" y="1666.39" width="62.1" height="7.6" fill="#4a4790"/>
<rect x="1149.5" y="1659.39" width="62.1" height="7.6" fill="#4d4c93"/>
<rect x="1149.5" y="1652.38" width="62.1" height="7.6" fill="#504f96"/>
<rect x="1149.5" y="1645.38" width="62.1" height="7.6" fill="#525399"/>
<rect x="1149.5" y="1638.38" width="62.1" height="7.6" fill="#54579c"/>
<rect x="1149.5" y="1631.38" width="62.1" height="7.6" fill="#565b9f"/>
<rect x="1149.5" y="1624.38" width="62.1" height="7.6" fill="#5861a3"/>
<rect x="1149.5" y="1617.38" width="62.1" height="7.6" fill="#5b68a8"/>
<rect x="1149.5" y="1610.38" width="62.1" height="7.6" fill="#5c6fad"/>
<rect x="1149.5" y="1603.37" width="62.1" height="7.6" fill="#5f79b4"/>
<rect x="1149.5" y="1596.37" width="62.1" height="7.6" fill="#6486bd"/>
<rect x="1149.5" y="1589.37" width="62.1" height="7.6" fill="#6794c7"/>
<rect x="1149.5" y="1582.37" width="62.1" height="7.6" fill="#68a4d3"/>
<rect x="1149.5" y="1575.37" width="62.1" height="7.6" fill="#68b2de"/>
<rect x="1149.5" y="1568.37" width="62.1" height="7.6" fill="#66bde6"/>
<rect x="1149.5" y="1561.36" width="62.1" height="7.6" fill="#71c1de"/>
<rect x="1149.5" y="1554.36" width="62.1" height="7.6" fill="#7bc4d6"/>
<rect x="1149.5" y="1547.36" width="62.1" height="7.6" fill="#81c6cd"/>
<rect x="1149.5" y="1540.36" width="62.1" height="7.6" fill="#84c6c1"/>
<rect x="1149.5" y="1533.36" width="62.1" height="7.6" fill="#84c4b1"/>
<rect x="1149.5" y="1526.36" width="62.1" height="7.6" fill="#86c5a3"/>
<rect x="1149.5" y="1519.35" width="62.1" height="7.6" fill="#89c595"/>
<rect x="1149.5" y="1512.35" width="62.1" height="7.6" fill="#8fc684"/>
<rect x="1149.5" y="1505.35" width="62.1" height="7.6" fill="#97c872"/>
<rect x="1149.5" y="1498.35" width="62.1" height="7.6" fill="#9fc961"/>
<rect x="1149.5" y="1491.35" width="62.1" height="7.6" fill="#a8cb52"/>
<rect x="1149.5" y="1484.35" width="62.1" height="7.6" fill="#b0cf46"/>
<rect x="1149.5" y="1477.35" width="62.1" height="7.6" fill="#b9d23e"/>
<rect x="1149.5" y="1470.34" width="62.1" height="7.6" fill="#c2d539"/>
<rect x="1149.5" y="1463.34" width="62.1" height="7.6" fill="#ccd834"/>
<rect x="1149.5" y="1456.34" width="62.1" height="7.6" fill="#d6dc31"/>
<rect x="1149.5" y="1449.34" width="62.1" height="7.6" fill="#e1e12d"/>
<rect x="1149.5" y="1442.34" width="62.1" height="7.6" fill="#ebe42c"/>
<rect x="1149.5" y="1435.34" width="62.1" height="7.6" fill="#f6e72c"/>
<rect x="1149.5" y="1428.33" width="62.1" height="7.6" fill="#fbdc29"/>
<rect x="1149.5" y="1421.33" width="62.1" height="7.6" fill="#fcc02a"/>
<rect x="1149.5" y="1414.33" width="62.1" height="7.6" fill="#fbb02a"/>
<rect x="1149.5" y="1407.33" width="62.1" height="7.6" fill="#f8a42a"/>
<rect x="1149.5" y="1400.33" width="62.1" height="7.6" fill="#f5992b"/>
<rect x="1149.5" y="1393.33" width="62.1" height="7.6" fill="#f38e2c"/>
<rect x="1149.5" y="1386.33" width="62.1" height="7.6" fill="#f1822c"/>
<rect x="1149.5" y="1379.32" width="62.1" height="7.6" fill="#ef752c"/>
<rect x="1149.5" y="1372.32" width="62.1" height="7.6" fill="#ed682c"/>
<rect x="1149.5" y="1365.32" width="62.1" height="7.6" fill="#eb5c2c"/>
<rect x="1149.5" y="1358.32" width="62.1" height="7.6" fill="#ea522c"/>
<rect x="1149.5" y="1351.32" width="62.1" height="7.6" fill="#e9482b"/>
<rect x="1149.5" y="1344.32" width="62.1" height="7.6" fill="#e83d2a"/>
<rect x="1149.5" y="1337.31" width="62.1" height="7.6" fill="#e73a2a"/>
<rect x="1149.5" y="1330.31" width="62.1" height="7.6" fill="#e7372a"/>
<rect x="1149.5" y="1323.31" width="62.1" height="7.6" fill="#e6352a"/>
<rect x="1149.5" y="1316.31" width="62.1" height="7.6" fill="#de322a"/>
<rect x="1149.5" y="1309.31" width="62.1" height="7.6" fill="#c92f29"/>
<rect x="1149.5" y="1302.31" width="62.1" height="7.6" fill="#b92e28"/>
<rect x="1149.5" y="1295.3" width="62.1" height="7.6" fill="#a62d28"/>
<rect x="1149.5" y="1288.3" width="62.1" height="7.6" fill="#952c28"/>
<rect x="1149.5" y="1281.3" width="62.1" height="7.6" fill="#892b26"/>
<rect x="1149.5" y="1274.3" width="62.1" height="7.6" fill="#7f2a25"/>
</g>
<rect x="1149.5" y="1274.3" width="62.1" height="448.1" fill="none" stroke="#332c29" stroke-width="2.8"/>
<line x1="1205.1" y1="1667.2" x2="1211.6" y2="1667.2" stroke="#1d1a18" stroke-width="2.8"/>
<text x="1223.6" y="1678.21" font-size="26" fill="#2c2623">0</text>
<line x1="1205.1" y1="1609.77" x2="1211.6" y2="1609.77" stroke="#1d1a18" stroke-width="2.8"/>
<text x="1223.6" y="1620.78" font-size="26" fill="#2c2623">1</text>
<line x1="1205.1" y1="1552.34" x2="1211.6" y2="1552.34" stroke="#1d1a18" stroke-width="2.8"/>
<text x="1223.6" y="1563.35" font-size="26" fill="#2c2623">2</text>
<line x1="1205.1" y1="1494.91" x2="1211.6" y2="1494.91" stroke="#1d1a18" stroke-width="2.8"/>
<text x="1223.6" y="1505.92" font-size="26" fill="#2c2623">3</text>
<line x1="1205.1" y1="1437.48" x2="1211.6" y2="1437.48" stroke="#1d1a18" stroke-width="2.8"/>
<text x="1223.6" y="1448.49" font-size="26" fill="#2c2623">4</text>
<line x1="1205.1" y1="1380.05" x2="1211.6" y2="1380.05" stroke="#1d1a18" stroke-width="2.8"/>
<text x="1223.6" y="1391.06" font-size="26" fill="#2c2623">5</text>
<line x1="1205.1" y1="1322.62" x2="1211.6" y2="1322.62" stroke="#1d1a18" stroke-width="2.8"/>
<text x="1223.6" y="1333.63" font-size="26" fill="#2c2623">6</text>
<text x="1277.8" y="1592.8" font-size="41.5" fill="#2c2623" textLength="202.1" lengthAdjust="spacingAndGlyphs" transform="rotate(-90 1277.8 1592.8)">Temperature</text>
<clipPath id="hc2"><rect x="209.2" y="1991.4" width="943.7" height="552.2"/></clipPath>
<g clip-path="url(#hc2)">
<g shape-rendering="crispEdges">
<rect x="209.2" y="1991.4" width="79.24" height="23.02" fill="#4e4d95"/>
<rect x="287.84" y="1991.4" width="79.24" height="23.02" fill="#5b6aa9"/>
<rect x="366.48" y="1991.4" width="79.24" height="23.02" fill="#82c6cb"/>
<rect x="445.12" y="1991.4" width="79.24" height="23.02" fill="#85c4ab"/>
<rect x="523.77" y="1991.4" width="79.24" height="23.02" fill="#86c5a2"/>
<rect x="602.41" y="1991.4" width="79.24" height="23.02" fill="#85c4ab"/>
<rect x="681.05" y="1991.4" width="79.24" height="23.02" fill="#80c6d2"/>
<rect x="759.69" y="1991.4" width="79.24" height="23.02" fill="#5a65a6"/>
<rect x="838.33" y="1991.4" width="79.24" height="23.02" fill="#44327c"/>
<rect x="916.97" y="1991.4" width="79.24" height="23.02" fill="#412c71"/>
<rect x="995.62" y="1991.4" width="79.24" height="23.02" fill="#4c4b93"/>
<rect x="1074.26" y="1991.4" width="79.24" height="23.02" fill="#505096"/>
<rect x="209.2" y="2013.82" width="79.24" height="24.07" fill="#4e4d95"/>
<rect x="287.84" y="2013.82" width="79.24" height="24.07" fill="#5b6aa9"/>
<rect x="366.48" y="2013.82" width="79.24" height="24.07" fill="#82c6cb"/>
<rect x="445.12" y="2013.82" width="79.24" height="24.07" fill="#85c4ab"/>
<rect x="523.77" y="2013.82" width="79.24" height="24.07" fill="#86c5a2"/>
<rect x="602.41" y="2013.82" width="79.24" height="24.07" fill="#85c4ab"/>
<rect x="681.05" y="2013.82" width="79.24" height="24.07" fill="#80c6d2"/>
<rect x="759.69" y="2013.82" width="79.24" height="24.07" fill="#5a65a6"/>
<rect x="838.33" y="2013.82" width="79.24" height="24.07" fill="#44327c"/>
<rect x="916.97" y="2013.82" width="79.24" height="24.07" fill="#412c71"/>
<rect x="995.62" y="2013.82" width="79.24" height="24.07" fill="#4c4b93"/>
<rect x="1074.26" y="2013.82" width="79.24" height="24.07" fill="#505096"/>
<rect x="209.2" y="2037.29" width="79.24" height="23.41" fill="#4e4d95"/>
<rect x="287.84" y="2037.29" width="79.24" height="23.41" fill="#5b6aa9"/>
<rect x="366.48" y="2037.29" width="79.24" height="23.41" fill="#82c6cb"/>
<rect x="445.12" y="2037.29" width="79.24" height="23.41" fill="#85c4ab"/>
<rect x="523.77" y="2037.29" width="157.88" height="23.41" fill="#86c5a2"/>
<rect x="681.05" y="2037.29" width="79.24" height="23.41" fill="#84c5bf"/>
<rect x="759.69" y="2037.29" width="79.24" height="23.41" fill="#68b2de"/>
<rect x="838.33" y="2037.29" width="79.24" height="23.41" fill="#5c6cab"/>
<rect x="916.97" y="2037.29" width="79.24" height="23.41" fill="#525298"/>
<rect x="995.62" y="2037.29" width="79.24" height="23.41" fill="#4c4b93"/>
<rect x="1074.26" y="2037.29" width="79.24" height="23.41" fill="#4e4d95"/>
<rect x="209.2" y="2060.09" width="79.24" height="23.57" fill="#4e4d95"/>
<rect x="287.84" y="2060.09" width="79.24" height="23.57" fill="#5b6aa9"/>
<rect x="366.48" y="2060.09" width="79.24" height="23.57" fill="#82c6cb"/>
<rect x="445.12" y="2060.09" width="79.24" height="23.57" fill="#85c4ab"/>
<rect x="523.77" y="2060.09" width="79.24" height="23.57" fill="#86c5a2"/>
<rect x="602.41" y="2060.09" width="79.24" height="23.57" fill="#87c59e"/>
<rect x="681.05" y="2060.09" width="79.24" height="23.57" fill="#86c5a6"/>
<rect x="759.69" y="2060.09" width="79.24" height="23.57" fill="#82c6cb"/>
<rect x="838.33" y="2060.09" width="79.24" height="23.57" fill="#74c2dc"/>
<rect x="916.97" y="2060.09" width="79.24" height="23.57" fill="#66bde6"/>
<rect x="995.62" y="2060.09" width="157.88" height="23.57" fill="#4e4d95"/>
<rect x="209.2" y="2083.07" width="79.24" height="23.41" fill="#4f4f95"/>
<rect x="287.84" y="2083.07" width="79.24" height="23.41" fill="#6280b9"/>
<rect x="366.48" y="2083.07" width="79.24" height="23.41" fill="#82c6cb"/>
<rect x="445.12" y="2083.07" width="79.24" height="23.41" fill="#86c5a6"/>
<rect x="523.77" y="2083.07" width="79.24" height="23.41" fill="#88c599"/>
<rect x="602.41" y="2083.07" width="79.24" height="23.41" fill="#8ac590"/>
<rect x="681.05" y="2083.07" width="79.24" height="23.41" fill="#89c594"/>
<rect x="759.69" y="2083.07" width="79.24" height="23.41" fill="#85c4ab"/>
<rect x="838.33" y="2083.07" width="79.24" height="23.41" fill="#82c6cb"/>
<rect x="916.97" y="2083.07" width="79.24" height="23.41" fill="#84c5bf"/>
<rect x="995.62" y="2083.07" width="79.24" height="23.41" fill="#86c5a6"/>
<rect x="1074.26" y="2083.07" width="79.24" height="23.41" fill="#6280b9"/>
<rect x="209.2" y="2105.87" width="79.24" height="23.57" fill="#54569b"/>
<rect x="287.84" y="2105.87" width="79.24" height="23.57" fill="#6280b9"/>
<rect x="366.48" y="2105.87" width="79.24" height="23.57" fill="#82c6cb"/>
<rect x="445.12" y="2105.87" width="79.24" height="23.57" fill="#86c5a2"/>
<rect x="523.77" y="2105.87" width="79.24" height="23.57" fill="#88c599"/>
<rect x="602.41" y="2105.87" width="79.24" height="23.57" fill="#92c67e"/>
<rect x="681.05" y="2105.87" width="79.24" height="23.57" fill="#8cc68a"/>
<rect x="759.69" y="2105.87" width="79.24" height="23.57" fill="#87c59e"/>
<rect x="838.33" y="2105.87" width="79.24" height="23.57" fill="#84c4b0"/>
<rect x="916.97" y="2105.87" width="79.24" height="23.57" fill="#87c59e"/>
<rect x="995.62" y="2105.87" width="79.24" height="23.57" fill="#b4d040"/>
<rect x="1074.26" y="2105.87" width="79.24" height="23.57" fill="#8fc684"/>
<rect x="209.2" y="2128.84" width="79.24" height="24.9" fill="#6280b9"/>
<rect x="287.84" y="2128.84" width="79.24" height="24.9" fill="#68a4d4"/>
<rect x="366.48" y="2128.84" width="79.24" height="24.9" fill="#82c6cb"/>
<rect x="445.12" y="2128.84" width="79.24" height="24.9" fill="#88c599"/>
<rect x="523.77" y="2128.84" width="79.24" height="24.9" fill="#8cc68a"/>
<rect x="602.41" y="2128.84" width="79.24" height="24.9" fill="#94c778"/>
<rect x="681.05" y="2128.84" width="79.24" height="24.9" fill="#92c67e"/>
<rect x="759.69" y="2128.84" width="79.24" height="24.9" fill="#89c594"/>
<rect x="838.33" y="2128.84" width="79.24" height="24.9" fill="#88c599"/>
<rect x="916.97" y="2128.84" width="79.24" height="24.9" fill="#8fc684"/>
<rect x="995.62" y="2128.84" width="79.24" height="24.9" fill="#e4e22c"/>
<rect x="1074.26" y="2128.84" width="79.24" height="24.9" fill="#ccd834"/>
<rect x="209.2" y="2153.14" width="79.24" height="24.79" fill="#81c6ce"/>
<rect x="287.84" y="2153.14" width="79.24" height="24.79" fill="#6dc0e1"/>
<rect x="366.48" y="2153.14" width="79.24" height="24.79" fill="#84c5bf"/>
<rect x="445.12" y="2153.14" width="79.24" height="24.79" fill="#88c599"/>
<rect x="523.77" y="2153.14" width="79.24" height="24.79" fill="#92c67e"/>
<rect x="602.41" y="2153.14" width="79.24" height="24.79" fill="#99c86d"/>
<rect x="681.05" y="2153.14" width="79.24" height="24.79" fill="#97c873"/>
<rect x="759.69" y="2153.14" width="157.88" height="24.79" fill="#8fc684"/>
<rect x="916.97" y="2153.14" width="79.24" height="24.79" fill="#94c778"/>
<rect x="995.62" y="2153.14" width="79.24" height="24.79" fill="#f5e72c"/>
<rect x="1074.26" y="2153.14" width="79.24" height="24.79" fill="#eee52c"/>
<rect x="209.2" y="2177.33" width="79.24" height="25.17" fill="#8fc684"/>
<rect x="287.84" y="2177.33" width="79.24" height="25.17" fill="#84c5bf"/>
<rect x="366.48" y="2177.33" width="79.24" height="25.17" fill="#86c5a2"/>
<rect x="445.12" y="2177.33" width="79.24" height="25.17" fill="#8cc68a"/>
<rect x="523.77" y="2177.33" width="79.24" height="25.17" fill="#8fc684"/>
<rect x="602.41" y="2177.33" width="79.24" height="25.17" fill="#a4ca58"/>
<rect x="681.05" y="2177.33" width="79.24" height="25.17" fill="#a9cc50"/>
<rect x="759.69" y="2177.33" width="79.24" height="25.17" fill="#9fc963"/>
<rect x="838.33" y="2177.33" width="79.24" height="25.17" fill="#99c86d"/>
<rect x="916.97" y="2177.33" width="79.24" height="25.17" fill="#a1ca5d"/>
<rect x="995.62" y="2177.33" width="79.24" height="25.17" fill="#f9e52b"/>
<rect x="1074.26" y="2177.33" width="79.24" height="25.17" fill="#fcd828"/>
<rect x="209.2" y="2201.9" width="79.24" height="26.77" fill="#bad23d"/>
<rect x="287.84" y="2201.9" width="79.24" height="26.77" fill="#8fc684"/>
<rect x="366.48" y="2201.9" width="79.24" height="26.77" fill="#8ac590"/>
<rect x="445.12" y="2201.9" width="79.24" height="26.77" fill="#92c67e"/>
<rect x="523.77" y="2201.9" width="79.24" height="26.77" fill="#a1ca5d"/>
<rect x="602.41" y="2201.9" width="79.24" height="26.77" fill="#afce48"/>
<rect x="681.05" y="2201.9" width="79.24" height="26.77" fill="#b4d040"/>
<rect x="759.69" y="2201.9" width="79.24" height="26.77" fill="#afce48"/>
<rect x="838.33" y="2201.9" width="79.24" height="26.77" fill="#a9cc50"/>
<rect x="916.97" y="2201.9" width="79.24" height="26.77" fill="#bad23d"/>
<rect x="995.62" y="2201.9" width="79.24" height="26.77" fill="#fcd828"/>
<rect x="1074.26" y="2201.9" width="79.24" height="26.77" fill="#fcc92a"/>
<rect x="209.2" y="2228.07" width="79.24" height="27.66" fill="#d6dc31"/>
<rect x="287.84" y="2228.07" width="79.24" height="27.66" fill="#a9cc50"/>
<rect x="366.48" y="2228.07" width="79.24" height="27.66" fill="#99c86d"/>
<rect x="445.12" y="2228.07" width="79.24" height="27.66" fill="#a1ca5d"/>
<rect x="523.77" y="2228.07" width="79.24" height="27.66" fill="#a9cc50"/>
<rect x="602.41" y="2228.07" width="79.24" height="27.66" fill="#b4d040"/>
<rect x="681.05" y="2228.07" width="79.24" height="27.66" fill="#c9d736"/>
<rect x="759.69" y="2228.07" width="79.24" height="27.66" fill="#bad23d"/>
<rect x="838.33" y="2228.07" width="79.24" height="27.66" fill="#b1cf44"/>
<rect x="916.97" y="2228.07" width="79.24" height="27.66" fill="#c0d43a"/>
<rect x="995.62" y="2228.07" width="157.88" height="27.66" fill="#fcc42a"/>
<rect x="209.2" y="2255.13" width="79.24" height="30.2" fill="#f5e72c"/>
<rect x="287.84" y="2255.13" width="79.24" height="30.2" fill="#c0d43a"/>
<rect x="366.48" y="2255.13" width="79.24" height="30.2" fill="#b1cf44"/>
<rect x="445.12" y="2255.13" width="79.24" height="30.2" fill="#b4d040"/>
<rect x="523.77" y="2255.13" width="79.24" height="30.2" fill="#bdd33c"/>
<rect x="602.41" y="2255.13" width="79.24" height="30.2" fill="#ccd834"/>
<rect x="681.05" y="2255.13" width="79.24" height="30.2" fill="#d3db32"/>
<rect x="759.69" y="2255.13" width="79.24" height="30.2" fill="#ccd834"/>
<rect x="838.33" y="2255.13" width="79.24" height="30.2" fill="#b4d040"/>
<rect x="916.97" y="2255.13" width="79.24" height="30.2" fill="#ccd834"/>
<rect x="995.62" y="2255.13" width="79.24" height="30.2" fill="#fcc02a"/>
<rect x="1074.26" y="2255.13" width="79.24" height="30.2" fill="#fcb82a"/>
<rect x="209.2" y="2284.73" width="79.24" height="32.85" fill="#fcd828"/>
<rect x="287.84" y="2284.73" width="79.24" height="32.85" fill="#eee52c"/>
<rect x="366.48" y="2284.73" width="79.24" height="32.85" fill="#c3d538"/>
<rect x="445.12" y="2284.73" width="79.24" height="32.85" fill="#c9d736"/>
<rect x="523.77" y="2284.73" width="79.24" height="32.85" fill="#d6dc31"/>
<rect x="602.41" y="2284.73" width="79.24" height="32.85" fill="#e4e22c"/>
<rect x="681.05" y="2284.73" width="79.24" height="32.85" fill="#e1e12d"/>
<rect x="759.69" y="2284.73" width="79.24" height="32.85" fill="#dade2f"/>
<rect x="838.33" y="2284.73" width="79.24" height="32.85" fill="#bdd33c"/>
<rect x="916.97" y="2284.73" width="79.24" height="32.85" fill="#dade2f"/>
<rect x="995.62" y="2284.73" width="79.24" height="32.85" fill="#fcb82a"/>
<rect x="1074.26" y="2284.73" width="79.24" height="32.85" fill="#fcb42a"/>
<rect x="209.2" y="2316.98" width="79.24" height="37.6" fill="#fcc42a"/>
<rect x="287.84" y="2316.98" width="79.24" height="37.6" fill="#fcd828"/>
<rect x="366.48" y="2316.98" width="79.24" height="37.6" fill="#f5e72c"/>
<rect x="445.12" y="2316.98" width="79.24" height="37.6" fill="#e4e22c"/>
<rect x="523.77" y="2316.98" width="79.24" height="37.6" fill="#f8e82c"/>
<rect x="602.41" y="2316.98" width="79.24" height="37.6" fill="#f9e52b"/>
<rect x="681.05" y="2316.98" width="79.24" height="37.6" fill="#f8e82c"/>
<rect x="759.69" y="2316.98" width="79.24" height="37.6" fill="#d6dc31"/>
<rect x="838.33" y="2316.98" width="79.24" height="37.6" fill="#d3db32"/>
<rect x="916.97" y="2316.98" width="79.24" height="37.6" fill="#f5e72c"/>
<rect x="995.62" y="2316.98" width="79.24" height="37.6" fill="#fcb42a"/>
<rect x="1074.26" y="2316.98" width="79.24" height="37.6" fill="#f9a82a"/>
<rect x="209.2" y="2353.97" width="79.24" height="43.4" fill="#fcb42a"/>
<rect x="287.84" y="2353.97" width="79.24" height="43.4" fill="#fcb82a"/>
<rect x="366.48" y="2353.97" width="79.24" height="43.4" fill="#fcc42a"/>
<rect x="445.12" y="2353.97" width="236.53" height="43.4" fill="#fcd828"/>
<rect x="681.05" y="2353.97" width="79.24" height="43.4" fill="#fcd328"/>
<rect x="759.69" y="2353.97" width="79.24" height="43.4" fill="#f8e82c"/>
<rect x="838.33" y="2353.97" width="79.24" height="43.4" fill="#f5e72c"/>
<rect x="916.97" y="2353.97" width="79.24" height="43.4" fill="#f8e82c"/>
<rect x="995.62" y="2353.97" width="79.24" height="43.4" fill="#f8a42a"/>
<rect x="1074.26" y="2353.97" width="79.24" height="43.4" fill="#f69b2b"/>
<rect x="209.2" y="2396.77" width="157.88" height="51.46" fill="#f69b2b"/>
<rect x="366.48" y="2396.77" width="79.24" height="51.46" fill="#f5972b"/>
<rect x="445.12" y="2396.77" width="157.88" height="51.46" fill="#f9a82a"/>
<rect x="602.41" y="2396.77" width="157.88" height="51.46" fill="#fcb42a"/>
<rect x="759.69" y="2396.77" width="79.24" height="51.46" fill="#fcd328"/>
<rect x="838.33" y="2396.77" width="79.24" height="51.46" fill="#f9e52b"/>
<rect x="916.97" y="2396.77" width="79.24" height="51.46" fill="#fcc42a"/>
<rect x="995.62" y="2396.77" width="157.88" height="51.46" fill="#f5972b"/>
<rect x="209.2" y="2447.63" width="79.24" height="63.11" fill="#f28a2c"/>
<rect x="287.84" y="2447.63" width="79.24" height="63.11" fill="#ef792c"/>
<rect x="366.48" y="2447.63" width="157.88" height="63.11" fill="#ee6c2c"/>
<rect x="523.77" y="2447.63" width="79.24" height="63.11" fill="#f07d2c"/>
<rect x="602.41" y="2447.63" width="79.24" height="63.11" fill="#f28a2c"/>
<rect x="681.05" y="2447.63" width="79.24" height="63.11" fill="#f5972b"/>
<rect x="759.69" y="2447.63" width="79.24" height="63.11" fill="#fbb02a"/>
<rect x="838.33" y="2447.63" width="79.24" height="63.11" fill="#fcc42a"/>
<rect x="916.97" y="2447.63" width="79.24" height="63.11" fill="#fcb42a"/>
<rect x="995.62" y="2447.63" width="79.24" height="63.11" fill="#f5972b"/>
<rect x="1074.26" y="2447.63" width="79.24" height="63.11" fill="#f28a2c"/>
<rect x="209.2" y="2510.14" width="79.24" height="34.06" fill="#ee6c2c"/>
<rect x="287.84" y="2510.14" width="79.24" height="34.06" fill="#ec602c"/>
<rect x="366.48" y="2510.14" width="236.53" height="34.06" fill="#e8402a"/>
<rect x="602.41" y="2510.14" width="79.24" height="34.06" fill="#ea502c"/>
<rect x="681.05" y="2510.14" width="79.24" height="34.06" fill="#ee6c2c"/>
<rect x="759.69" y="2510.14" width="79.24" height="34.06" fill="#f28a2c"/>
<rect x="838.33" y="2510.14" width="79.24" height="34.06" fill="#f5972b"/>
<rect x="916.97" y="2510.14" width="79.24" height="34.06" fill="#f1812c"/>
<rect x="995.62" y="2510.14" width="79.24" height="34.06" fill="#ef742c"/>
<rect x="1074.26" y="2510.14" width="79.24" height="34.06" fill="#f07d2c"/>
</g>
<path d="M287.84 1991.4V2543.6M366.48 1991.4V2543.6M445.12 1991.4V2543.6M523.77 1991.4V2543.6M602.41 1991.4V2543.6M681.05 1991.4V2543.6M759.69 1991.4V2543.6M838.33 1991.4V2543.6M916.97 1991.4V2543.6M995.62 1991.4V2543.6M1074.26 1991.4V2543.6M209.2 2013.82H1152.9M209.2 2037.29H1152.9M209.2 2060.09H1152.9M209.2 2083.07H1152.9M209.2 2105.87H1152.9M209.2 2128.84H1152.9M209.2 2153.14H1152.9M209.2 2177.33H1152.9M209.2 2201.9H1152.9M209.2 2228.07H1152.9M209.2 2255.13H1152.9M209.2 2284.73H1152.9M209.2 2316.98H1152.9M209.2 2353.97H1152.9M209.2 2396.77H1152.9M209.2 2447.63H1152.9M209.2 2510.14H1152.9" stroke="#ffffff" stroke-opacity="0.075" stroke-width="1" fill="none"/>
</g>
<rect x="209.2" y="1991.4" width="943.7" height="552.2" fill="none" stroke="#161314" stroke-width="4.2"/>
<text x="187.2" y="2109.63" font-size="36.5" text-anchor="end" fill="#2c2623">50</text>
<text x="187.2" y="2222.43" font-size="36.5" text-anchor="end" fill="#2c2623">100</text>
<text x="187.2" y="2335.23" font-size="36.5" text-anchor="end" fill="#2c2623">150</text>
<text x="187.2" y="2448.03" font-size="36.5" text-anchor="end" fill="#2c2623">200</text>
<text x="187.2" y="2560.83" font-size="36.5" text-anchor="end" fill="#2c2623">250</text>
<text x="285" y="2599" font-size="36.5" text-anchor="middle" fill="#2c2623">2</text>
<text x="442.6" y="2599" font-size="36.5" text-anchor="middle" fill="#2c2623">4</text>
<text x="600.2" y="2599" font-size="36.5" text-anchor="middle" fill="#2c2623">6</text>
<text x="757.8" y="2599" font-size="36.5" text-anchor="middle" fill="#2c2623">8</text>
<text x="915.4" y="2599" font-size="36.5" text-anchor="middle" fill="#2c2623">10</text>
<text x="1073" y="2599" font-size="36.5" text-anchor="middle" fill="#2c2623">12</text>
<text x="546.3" y="2657.9" font-size="42.5" fill="#2c2623" textLength="209" lengthAdjust="spacingAndGlyphs">Cup number</text>
<text x="68.5" y="2391.3" font-size="43" fill="#2c2623" textLength="222.7" lengthAdjust="spacingAndGlyphs" transform="rotate(-90 68.5 2391.3)">Depth (in m)</text>
<rect x="1123.2" y="2055.2" width="227.8" height="446.4" fill="#ffffff" stroke="#0f0d0d" stroke-width="3.8" rx="46"/>
<g shape-rendering="crispEdges">
<rect x="1161.3" y="2472.14" width="55.3" height="6.76" fill="#412b70"/>
<rect x="1161.3" y="2465.97" width="55.3" height="6.76" fill="#422e75"/>
<rect x="1161.3" y="2459.81" width="55.3" height="6.76" fill="#433179"/>
<rect x="1161.3" y="2453.64" width="55.3" height="6.76" fill="#45337d"/>
<rect x="1161.3" y="2447.48" width="55.3" height="6.76" fill="#463782"/>
<rect x="1161.3" y="2441.32" width="55.3" height="6.76" fill="#473d87"/>
<rect x="1161.3" y="2435.15" width="55.3" height="6.76" fill="#49428b"/>
<rect x="1161.3" y="2428.99" width="55.3" height="6.76" fill="#4a4790"/>
<rect x="1161.3" y="2422.82" width="55.3" height="6.76" fill="#4d4c93"/>
<rect x="1161.3" y="2416.66" width="55.3" height="6.76" fill="#504f96"/>
<rect x="1161.3" y="2410.5" width="55.3" height="6.76" fill="#525399"/>
<rect x="1161.3" y="2404.33" width="55.3" height="6.76" fill="#54579c"/>
<rect x="1161.3" y="2398.17" width="55.3" height="6.76" fill="#565b9f"/>
<rect x="1161.3" y="2392" width="55.3" height="6.76" fill="#5861a3"/>
<rect x="1161.3" y="2385.84" width="55.3" height="6.76" fill="#5b68a8"/>
<rect x="1161.3" y="2379.68" width="55.3" height="6.76" fill="#5c6fad"/>
<rect x="1161.3" y="2373.51" width="55.3" height="6.76" fill="#5f79b4"/>
<rect x="1161.3" y="2367.35" width="55.3" height="6.76" fill="#6486bd"/>
<rect x="1161.3" y="2361.18" width="55.3" height="6.76" fill="#6794c7"/>
<rect x="1161.3" y="2355.02" width="55.3" height="6.76" fill="#68a4d3"/>
<rect x="1161.3" y="2348.85" width="55.3" height="6.76" fill="#68b2de"/>
<rect x="1161.3" y="2342.69" width="55.3" height="6.76" fill="#66bde6"/>
<rect x="1161.3" y="2336.53" width="55.3" height="6.76" fill="#71c1de"/>
<rect x="1161.3" y="2330.36" width="55.3" height="6.76" fill="#7bc4d6"/>
<rect x="1161.3" y="2324.2" width="55.3" height="6.76" fill="#81c6cd"/>
<rect x="1161.3" y="2318.03" width="55.3" height="6.76" fill="#84c6c1"/>
<rect x="1161.3" y="2311.87" width="55.3" height="6.76" fill="#84c4b1"/>
<rect x="1161.3" y="2305.71" width="55.3" height="6.76" fill="#86c5a3"/>
<rect x="1161.3" y="2299.54" width="55.3" height="6.76" fill="#89c595"/>
<rect x="1161.3" y="2293.38" width="55.3" height="6.76" fill="#8fc684"/>
<rect x="1161.3" y="2287.21" width="55.3" height="6.76" fill="#97c872"/>
<rect x="1161.3" y="2281.05" width="55.3" height="6.76" fill="#9fc961"/>
<rect x="1161.3" y="2274.89" width="55.3" height="6.76" fill="#a8cb52"/>
<rect x="1161.3" y="2268.72" width="55.3" height="6.76" fill="#b0cf46"/>
<rect x="1161.3" y="2262.56" width="55.3" height="6.76" fill="#b9d23e"/>
<rect x="1161.3" y="2256.39" width="55.3" height="6.76" fill="#c2d539"/>
<rect x="1161.3" y="2250.23" width="55.3" height="6.76" fill="#ccd834"/>
<rect x="1161.3" y="2244.07" width="55.3" height="6.76" fill="#d6dc31"/>
<rect x="1161.3" y="2237.9" width="55.3" height="6.76" fill="#e1e12d"/>
<rect x="1161.3" y="2231.74" width="55.3" height="6.76" fill="#ebe42c"/>
<rect x="1161.3" y="2225.57" width="55.3" height="6.76" fill="#f6e72c"/>
<rect x="1161.3" y="2219.41" width="55.3" height="6.76" fill="#fbdc29"/>
<rect x="1161.3" y="2213.25" width="55.3" height="6.76" fill="#fcc02a"/>
<rect x="1161.3" y="2207.08" width="55.3" height="6.76" fill="#fbb02a"/>
<rect x="1161.3" y="2200.92" width="55.3" height="6.76" fill="#f8a42a"/>
<rect x="1161.3" y="2194.75" width="55.3" height="6.76" fill="#f5992b"/>
<rect x="1161.3" y="2188.59" width="55.3" height="6.76" fill="#f38e2c"/>
<rect x="1161.3" y="2182.43" width="55.3" height="6.76" fill="#f1822c"/>
<rect x="1161.3" y="2176.26" width="55.3" height="6.76" fill="#ef752c"/>
<rect x="1161.3" y="2170.1" width="55.3" height="6.76" fill="#ed682c"/>
<rect x="1161.3" y="2163.93" width="55.3" height="6.76" fill="#eb5c2c"/>
<rect x="1161.3" y="2157.77" width="55.3" height="6.76" fill="#ea522c"/>
<rect x="1161.3" y="2151.6" width="55.3" height="6.76" fill="#e9482b"/>
<rect x="1161.3" y="2145.44" width="55.3" height="6.76" fill="#e83d2a"/>
<rect x="1161.3" y="2139.28" width="55.3" height="6.76" fill="#e73a2a"/>
<rect x="1161.3" y="2133.11" width="55.3" height="6.76" fill="#e7372a"/>
<rect x="1161.3" y="2126.95" width="55.3" height="6.76" fill="#e6352a"/>
<rect x="1161.3" y="2120.78" width="55.3" height="6.76" fill="#de322a"/>
<rect x="1161.3" y="2114.62" width="55.3" height="6.76" fill="#c92f29"/>
<rect x="1161.3" y="2108.46" width="55.3" height="6.76" fill="#b92e28"/>
<rect x="1161.3" y="2102.29" width="55.3" height="6.76" fill="#a62d28"/>
<rect x="1161.3" y="2096.13" width="55.3" height="6.76" fill="#952c28"/>
<rect x="1161.3" y="2089.96" width="55.3" height="6.76" fill="#892b26"/>
<rect x="1161.3" y="2083.8" width="55.3" height="6.76" fill="#7f2a25"/>
</g>
<rect x="1161.3" y="2083.8" width="55.3" height="394.5" fill="none" stroke="#332c29" stroke-width="2.8"/>
<line x1="1210.1" y1="2456.9" x2="1216.6" y2="2456.9" stroke="#1d1a18" stroke-width="2.8"/>
<text x="1227" y="2467.11" font-size="23.6" fill="#2c2623">34.3</text>
<line x1="1210.1" y1="2395.18" x2="1216.6" y2="2395.18" stroke="#1d1a18" stroke-width="2.8"/>
<text x="1227" y="2405.39" font-size="23.6" fill="#2c2623">34.4</text>
<line x1="1210.1" y1="2333.46" x2="1216.6" y2="2333.46" stroke="#1d1a18" stroke-width="2.8"/>
<text x="1227" y="2343.67" font-size="23.6" fill="#2c2623">34.5</text>
<line x1="1210.1" y1="2271.74" x2="1216.6" y2="2271.74" stroke="#1d1a18" stroke-width="2.8"/>
<text x="1227" y="2281.95" font-size="23.6" fill="#2c2623">34.6</text>
<line x1="1210.1" y1="2210.02" x2="1216.6" y2="2210.02" stroke="#1d1a18" stroke-width="2.8"/>
<text x="1227" y="2220.23" font-size="23.6" fill="#2c2623">34.7</text>
<line x1="1210.1" y1="2148.3" x2="1216.6" y2="2148.3" stroke="#1d1a18" stroke-width="2.8"/>
<text x="1227" y="2158.51" font-size="23.6" fill="#2c2623">34.8</text>
<line x1="1210.1" y1="2086.58" x2="1216.6" y2="2086.58" stroke="#1d1a18" stroke-width="2.8"/>
<text x="1227" y="2096.79" font-size="23.6" fill="#2c2623">34.9</text>
<text x="1316.5" y="2321" font-size="37" fill="#2c2623" textLength="110" lengthAdjust="spacingAndGlyphs" transform="rotate(-90 1316.5 2321)">Salinity</text>
<clipPath id="hc3"><rect x="1586.8" y="1208.3" width="960.9" height="557.2"/></clipPath>
<g clip-path="url(#hc3)">
<g shape-rendering="crispEdges">
<rect x="1588.3" y="1208.3" width="39.1" height="23.22" fill="#8ac590"/>
<rect x="1626.8" y="1208.3" width="77.6" height="23.22" fill="#86c5a6"/>
<rect x="1703.8" y="1208.3" width="39.1" height="23.22" fill="#84c4b4"/>
<rect x="1742.3" y="1208.3" width="39.1" height="23.22" fill="#84c6c4"/>
<rect x="1780.8" y="1208.3" width="39.1" height="23.22" fill="#81c6ce"/>
<rect x="1819.3" y="1208.3" width="39.1" height="23.22" fill="#83c6c8"/>
<rect x="1857.8" y="1208.3" width="39.1" height="23.22" fill="#84c6c4"/>
<rect x="1896.3" y="1208.3" width="39.1" height="23.22" fill="#86c5a2"/>
<rect x="1934.8" y="1208.3" width="39.1" height="23.22" fill="#97c873"/>
<rect x="1973.3" y="1208.3" width="39.1" height="23.22" fill="#94c778"/>
<rect x="2011.8" y="1208.3" width="39.1" height="23.22" fill="#f8e82c"/>
<rect x="2050.3" y="1208.3" width="39.1" height="23.22" fill="#f28a2c"/>
<rect x="2088.8" y="1208.3" width="39.1" height="23.22" fill="#e8432a"/>
<rect x="2127.3" y="1208.3" width="39.1" height="23.22" fill="#b32e28"/>
<rect x="2165.8" y="1208.3" width="116.1" height="23.22" fill="#7a2a24"/>
<rect x="2281.3" y="1208.3" width="39.1" height="23.22" fill="#a32d28"/>
<rect x="2319.8" y="1208.3" width="39.1" height="23.22" fill="#e6342a"/>
<rect x="2358.3" y="1208.3" width="39.1" height="23.22" fill="#d7312a"/>
<rect x="2396.8" y="1208.3" width="39.1" height="23.22" fill="#ee702c"/>
<rect x="2435.3" y="1208.3" width="39.1" height="23.22" fill="#fcc42a"/>
<rect x="2473.8" y="1208.3" width="39.1" height="23.22" fill="#dade2f"/>
<rect x="2512.3" y="1208.3" width="39.1" height="23.22" fill="#b4d040"/>
<rect x="1588.3" y="1230.92" width="39.1" height="24.28" fill="#8ac590"/>
<rect x="1626.8" y="1230.92" width="77.6" height="24.28" fill="#86c5a6"/>
<rect x="1703.8" y="1230.92" width="39.1" height="24.28" fill="#84c4b4"/>
<rect x="1742.3" y="1230.92" width="39.1" height="24.28" fill="#84c6c4"/>
<rect x="1780.8" y="1230.92" width="39.1" height="24.28" fill="#81c6ce"/>
<rect x="1819.3" y="1230.92" width="39.1" height="24.28" fill="#83c6c8"/>
<rect x="1857.8" y="1230.92" width="39.1" height="24.28" fill="#84c6c4"/>
<rect x="1896.3" y="1230.92" width="39.1" height="24.28" fill="#86c5a2"/>
<rect x="1934.8" y="1230.92" width="39.1" height="24.28" fill="#97c873"/>
<rect x="1973.3" y="1230.92" width="39.1" height="24.28" fill="#94c778"/>
<rect x="2011.8" y="1230.92" width="39.1" height="24.28" fill="#f8e82c"/>
<rect x="2050.3" y="1230.92" width="39.1" height="24.28" fill="#f28a2c"/>
<rect x="2088.8" y="1230.92" width="39.1" height="24.28" fill="#e94a2b"/>
<rect x="2127.3" y="1230.92" width="39.1" height="24.28" fill="#d4302a"/>
<rect x="2165.8" y="1230.92" width="77.6" height="24.28" fill="#822a25"/>
<rect x="2242.8" y="1230.92" width="39.1" height="24.28" fill="#7a2a24"/>
<rect x="2281.3" y="1230.92" width="39.1" height="24.28" fill="#a32d28"/>
<rect x="2319.8" y="1230.92" width="39.1" height="24.28" fill="#e6342a"/>
<rect x="2358.3" y="1230.92" width="39.1" height="24.28" fill="#d7312a"/>
<rect x="2396.8" y="1230.92" width="39.1" height="24.28" fill="#ee702c"/>
<rect x="2435.3" y="1230.92" width="39.1" height="24.28" fill="#fcc42a"/>
<rect x="2473.8" y="1230.92" width="39.1" height="24.28" fill="#dade2f"/>
<rect x="2512.3" y="1230.92" width="39.1" height="24.28" fill="#b4d040"/>
<rect x="1588.3" y="1254.6" width="39.1" height="23.61" fill="#8ac590"/>
<rect x="1626.8" y="1254.6" width="77.6" height="23.61" fill="#86c5a6"/>
<rect x="1703.8" y="1254.6" width="39.1" height="23.61" fill="#84c4b4"/>
<rect x="1742.3" y="1254.6" width="39.1" height="23.61" fill="#84c6c4"/>
<rect x="1780.8" y="1254.6" width="39.1" height="23.61" fill="#81c6ce"/>
<rect x="1819.3" y="1254.6" width="39.1" height="23.61" fill="#83c6c8"/>
<rect x="1857.8" y="1254.6" width="39.1" height="23.61" fill="#84c6c4"/>
<rect x="1896.3" y="1254.6" width="39.1" height="23.61" fill="#86c5a2"/>
<rect x="1934.8" y="1254.6" width="39.1" height="23.61" fill="#97c873"/>
<rect x="1973.3" y="1254.6" width="39.1" height="23.61" fill="#94c778"/>
<rect x="2011.8" y="1254.6" width="39.1" height="23.61" fill="#ebe42c"/>
<rect x="2050.3" y="1254.6" width="39.1" height="23.61" fill="#f8a42a"/>
<rect x="2088.8" y="1254.6" width="39.1" height="23.61" fill="#ec602c"/>
<rect x="2127.3" y="1254.6" width="39.1" height="23.61" fill="#e6342a"/>
<rect x="2165.8" y="1254.6" width="77.6" height="23.61" fill="#902c27"/>
<rect x="2242.8" y="1254.6" width="39.1" height="23.61" fill="#822a25"/>
<rect x="2281.3" y="1254.6" width="39.1" height="23.61" fill="#982c28"/>
<rect x="2319.8" y="1254.6" width="39.1" height="23.61" fill="#e6342a"/>
<rect x="2358.3" y="1254.6" width="39.1" height="23.61" fill="#da312a"/>
<rect x="2396.8" y="1254.6" width="39.1" height="23.61" fill="#ee702c"/>
<rect x="2435.3" y="1254.6" width="39.1" height="23.61" fill="#fcc42a"/>
<rect x="2473.8" y="1254.6" width="39.1" height="23.61" fill="#dade2f"/>
<rect x="2512.3" y="1254.6" width="39.1" height="23.61" fill="#b4d040"/>
<rect x="1588.3" y="1277.62" width="39.1" height="23.78" fill="#8ac590"/>
<rect x="1626.8" y="1277.62" width="77.6" height="23.78" fill="#86c5a6"/>
<rect x="1703.8" y="1277.62" width="39.1" height="23.78" fill="#84c4b4"/>
<rect x="1742.3" y="1277.62" width="39.1" height="23.78" fill="#84c6c4"/>
<rect x="1780.8" y="1277.62" width="39.1" height="23.78" fill="#81c6ce"/>
<rect x="1819.3" y="1277.62" width="39.1" height="23.78" fill="#83c6c8"/>
<rect x="1857.8" y="1277.62" width="39.1" height="23.78" fill="#84c6c4"/>
<rect x="1896.3" y="1277.62" width="39.1" height="23.78" fill="#86c5a2"/>
<rect x="1934.8" y="1277.62" width="39.1" height="23.78" fill="#97c873"/>
<rect x="1973.3" y="1277.62" width="39.1" height="23.78" fill="#94c778"/>
<rect x="2011.8" y="1277.62" width="39.1" height="23.78" fill="#dade2f"/>
<rect x="2050.3" y="1277.62" width="39.1" height="23.78" fill="#fcc42a"/>
<rect x="2088.8" y="1277.62" width="39.1" height="23.78" fill="#f4932b"/>
<rect x="2127.3" y="1277.62" width="39.1" height="23.78" fill="#ea502c"/>
<rect x="2165.8" y="1277.62" width="77.6" height="23.78" fill="#e6342a"/>
<rect x="2242.8" y="1277.62" width="39.1" height="23.78" fill="#cb2f29"/>
<rect x="2281.3" y="1277.62" width="39.1" height="23.78" fill="#d4302a"/>
<rect x="2319.8" y="1277.62" width="39.1" height="23.78" fill="#e6342a"/>
<rect x="2358.3" y="1277.62" width="39.1" height="23.78" fill="#e0332a"/>
<rect x="2396.8" y="1277.62" width="39.1" height="23.78" fill="#ee702c"/>
<rect x="2435.3" y="1277.62" width="39.1" height="23.78" fill="#fcc42a"/>
<rect x="2473.8" y="1277.62" width="39.1" height="23.78" fill="#dade2f"/>
<rect x="2512.3" y="1277.62" width="39.1" height="23.78" fill="#b4d040"/>
<rect x="1588.3" y="1300.8" width="39.1" height="23.61" fill="#8ac590"/>
<rect x="1626.8" y="1300.8" width="77.6" height="23.61" fill="#86c5a6"/>
<rect x="1703.8" y="1300.8" width="39.1" height="23.61" fill="#84c4b4"/>
<rect x="1742.3" y="1300.8" width="39.1" height="23.61" fill="#84c6c4"/>
<rect x="1780.8" y="1300.8" width="39.1" height="23.61" fill="#81c6ce"/>
<rect x="1819.3" y="1300.8" width="39.1" height="23.61" fill="#83c6c8"/>
<rect x="1857.8" y="1300.8" width="39.1" height="23.61" fill="#84c6c4"/>
<rect x="1896.3" y="1300.8" width="39.1" height="23.61" fill="#86c5a2"/>
<rect x="1934.8" y="1300.8" width="39.1" height="23.61" fill="#97c873"/>
<rect x="1973.3" y="1300.8" width="39.1" height="23.61" fill="#94c778"/>
<rect x="2011.8" y="1300.8" width="39.1" height="23.61" fill="#a9cc50"/>
<rect x="2050.3" y="1300.8" width="39.1" height="23.61" fill="#dade2f"/>
<rect x="2088.8" y="1300.8" width="39.1" height="23.61" fill="#e4e22c"/>
<rect x="2127.3" y="1300.8" width="39.1" height="23.61" fill="#fcd828"/>
<rect x="2165.8" y="1300.8" width="77.6" height="23.61" fill="#f9a82a"/>
<rect x="2242.8" y="1300.8" width="77.6" height="23.61" fill="#ec602c"/>
<rect x="2319.8" y="1300.8" width="39.1" height="23.61" fill="#ee6c2c"/>
<rect x="2358.3" y="1300.8" width="39.1" height="23.61" fill="#f69b2b"/>
<rect x="2396.8" y="1300.8" width="39.1" height="23.61" fill="#f07d2c"/>
<rect x="2435.3" y="1300.8" width="39.1" height="23.61" fill="#fcd828"/>
<rect x="2473.8" y="1300.8" width="39.1" height="23.61" fill="#dade2f"/>
<rect x="2512.3" y="1300.8" width="39.1" height="23.61" fill="#b4d040"/>
<rect x="1588.3" y="1323.81" width="39.1" height="23.78" fill="#8ac590"/>
<rect x="1626.8" y="1323.81" width="77.6" height="23.78" fill="#86c5a6"/>
<rect x="1703.8" y="1323.81" width="39.1" height="23.78" fill="#84c4b4"/>
<rect x="1742.3" y="1323.81" width="39.1" height="23.78" fill="#84c6c4"/>
<rect x="1780.8" y="1323.81" width="39.1" height="23.78" fill="#81c6ce"/>
<rect x="1819.3" y="1323.81" width="39.1" height="23.78" fill="#83c6c8"/>
<rect x="1857.8" y="1323.81" width="39.1" height="23.78" fill="#84c6c4"/>
<rect x="1896.3" y="1323.81" width="39.1" height="23.78" fill="#86c5a2"/>
<rect x="1934.8" y="1323.81" width="39.1" height="23.78" fill="#97c873"/>
<rect x="1973.3" y="1323.81" width="39.1" height="23.78" fill="#89c594"/>
<rect x="2011.8" y="1323.81" width="39.1" height="23.78" fill="#92c67e"/>
<rect x="2050.3" y="1323.81" width="39.1" height="23.78" fill="#a4ca58"/>
<rect x="2088.8" y="1323.81" width="39.1" height="23.78" fill="#afce48"/>
<rect x="2127.3" y="1323.81" width="39.1" height="23.78" fill="#bad23d"/>
<rect x="2165.8" y="1323.81" width="77.6" height="23.78" fill="#f5e72c"/>
<rect x="2242.8" y="1323.81" width="39.1" height="23.78" fill="#fcc02a"/>
<rect x="2281.3" y="1323.81" width="39.1" height="23.78" fill="#f8a42a"/>
<rect x="2319.8" y="1323.81" width="39.1" height="23.78" fill="#f69b2b"/>
<rect x="2358.3" y="1323.81" width="39.1" height="23.78" fill="#f8e82c"/>
<rect x="2396.8" y="1323.81" width="39.1" height="23.78" fill="#f8a42a"/>
<rect x="2435.3" y="1323.81" width="39.1" height="23.78" fill="#fcd828"/>
<rect x="2473.8" y="1323.81" width="39.1" height="23.78" fill="#dade2f"/>
<rect x="2512.3" y="1323.81" width="39.1" height="23.78" fill="#b4d040"/>
<rect x="1588.3" y="1346.99" width="39.1" height="25.12" fill="#8ac590"/>
<rect x="1626.8" y="1346.99" width="77.6" height="25.12" fill="#86c5a6"/>
<rect x="1703.8" y="1346.99" width="39.1" height="25.12" fill="#84c4b4"/>
<rect x="1742.3" y="1346.99" width="39.1" height="25.12" fill="#84c6c4"/>
<rect x="1780.8" y="1346.99" width="77.6" height="25.12" fill="#81c6ce"/>
<rect x="1857.8" y="1346.99" width="39.1" height="25.12" fill="#84c6c4"/>
<rect x="1896.3" y="1346.99" width="39.1" height="25.12" fill="#86c5a2"/>
<rect x="1934.8" y="1346.99" width="39.1" height="25.12" fill="#8ac590"/>
<rect x="1973.3" y="1346.99" width="77.6" height="25.12" fill="#89c594"/>
<rect x="2050.3" y="1346.99" width="39.1" height="25.12" fill="#92c67e"/>
<rect x="2088.8" y="1346.99" width="39.1" height="25.12" fill="#94c778"/>
<rect x="2127.3" y="1346.99" width="39.1" height="25.12" fill="#99c86d"/>
<rect x="2165.8" y="1346.99" width="77.6" height="25.12" fill="#bad23d"/>
<rect x="2242.8" y="1346.99" width="39.1" height="25.12" fill="#cfd933"/>
<rect x="2281.3" y="1346.99" width="39.1" height="25.12" fill="#f5e72c"/>
<rect x="2319.8" y="1346.99" width="39.1" height="25.12" fill="#fcd828"/>
<rect x="2358.3" y="1346.99" width="39.1" height="25.12" fill="#bad23d"/>
<rect x="2396.8" y="1346.99" width="39.1" height="25.12" fill="#fcd828"/>
<rect x="2435.3" y="1346.99" width="39.1" height="25.12" fill="#f9e52b"/>
<rect x="2473.8" y="1346.99" width="39.1" height="25.12" fill="#d3db32"/>
<rect x="2512.3" y="1346.99" width="39.1" height="25.12" fill="#b4d040"/>
<rect x="1588.3" y="1371.5" width="39.1" height="25.01" fill="#8ac590"/>
<rect x="1626.8" y="1371.5" width="77.6" height="25.01" fill="#86c5a6"/>
<rect x="1703.8" y="1371.5" width="39.1" height="25.01" fill="#84c4b4"/>
<rect x="1742.3" y="1371.5" width="39.1" height="25.01" fill="#84c6c4"/>
<rect x="1780.8" y="1371.5" width="77.6" height="25.01" fill="#81c6ce"/>
<rect x="1857.8" y="1371.5" width="39.1" height="25.01" fill="#84c6c4"/>
<rect x="1896.3" y="1371.5" width="39.1" height="25.01" fill="#86c5a2"/>
<rect x="1934.8" y="1371.5" width="39.1" height="25.01" fill="#88c599"/>
<rect x="1973.3" y="1371.5" width="77.6" height="25.01" fill="#86c5a6"/>
<rect x="2050.3" y="1371.5" width="39.1" height="25.01" fill="#89c594"/>
<rect x="2088.8" y="1371.5" width="39.1" height="25.01" fill="#8ac590"/>
<rect x="2127.3" y="1371.5" width="39.1" height="25.01" fill="#92c67e"/>
<rect x="2165.8" y="1371.5" width="77.6" height="25.01" fill="#a4ca58"/>
<rect x="2242.8" y="1371.5" width="39.1" height="25.01" fill="#bad23d"/>
<rect x="2281.3" y="1371.5" width="39.1" height="25.01" fill="#ccd834"/>
<rect x="2319.8" y="1371.5" width="39.1" height="25.01" fill="#d3db32"/>
<rect x="2358.3" y="1371.5" width="39.1" height="25.01" fill="#afce48"/>
<rect x="2396.8" y="1371.5" width="39.1" height="25.01" fill="#f5e72c"/>
<rect x="2435.3" y="1371.5" width="39.1" height="25.01" fill="#e4e22c"/>
<rect x="2473.8" y="1371.5" width="39.1" height="25.01" fill="#ccd834"/>
<rect x="2512.3" y="1371.5" width="39.1" height="25.01" fill="#b4d040"/>
<rect x="1588.3" y="1395.91" width="39.1" height="25.4" fill="#8ac590"/>
<rect x="1626.8" y="1395.91" width="77.6" height="25.4" fill="#86c5a6"/>
<rect x="1703.8" y="1395.91" width="39.1" height="25.4" fill="#84c4b4"/>
<rect x="1742.3" y="1395.91" width="39.1" height="25.4" fill="#84c6c4"/>
<rect x="1780.8" y="1395.91" width="77.6" height="25.4" fill="#81c6ce"/>
<rect x="1857.8" y="1395.91" width="39.1" height="25.4" fill="#84c6c4"/>
<rect x="1896.3" y="1395.91" width="77.6" height="25.4" fill="#86c5a2"/>
<rect x="1973.3" y="1395.91" width="39.1" height="25.4" fill="#86c5a6"/>
<rect x="2011.8" y="1395.91" width="39.1" height="25.4" fill="#84c4b4"/>
<rect x="2050.3" y="1395.91" width="77.6" height="25.4" fill="#87c59e"/>
<rect x="2127.3" y="1395.91" width="39.1" height="25.4" fill="#8ac590"/>
<rect x="2165.8" y="1395.91" width="77.6" height="25.4" fill="#9fc963"/>
<rect x="2242.8" y="1395.91" width="39.1" height="25.4" fill="#afce48"/>
<rect x="2281.3" y="1395.91" width="39.1" height="25.4" fill="#bad23d"/>
<rect x="2319.8" y="1395.91" width="39.1" height="25.4" fill="#bdd33c"/>
<rect x="2358.3" y="1395.91" width="39.1" height="25.4" fill="#a9cc50"/>
<rect x="2396.8" y="1395.91" width="77.6" height="25.4" fill="#d3db32"/>
<rect x="2473.8" y="1395.91" width="39.1" height="25.4" fill="#c3d538"/>
<rect x="2512.3" y="1395.91" width="39.1" height="25.4" fill="#b4d040"/>
<rect x="1588.3" y="1420.7" width="39.1" height="27.01" fill="#8ac590"/>
<rect x="1626.8" y="1420.7" width="77.6" height="27.01" fill="#86c5a6"/>
<rect x="1703.8" y="1420.7" width="39.1" height="27.01" fill="#84c4b4"/>
<rect x="1742.3" y="1420.7" width="39.1" height="27.01" fill="#84c6c4"/>
<rect x="1780.8" y="1420.7" width="116.1" height="27.01" fill="#81c6ce"/>
<rect x="1896.3" y="1420.7" width="39.1" height="27.01" fill="#86c5a2"/>
<rect x="1934.8" y="1420.7" width="39.1" height="27.01" fill="#84c4b4"/>
<rect x="1973.3" y="1420.7" width="77.6" height="27.01" fill="#84c5b9"/>
<rect x="2050.3" y="1420.7" width="77.6" height="27.01" fill="#85c4ab"/>
<rect x="2127.3" y="1420.7" width="39.1" height="27.01" fill="#86c5a2"/>
<rect x="2165.8" y="1420.7" width="77.6" height="27.01" fill="#92c67e"/>
<rect x="2242.8" y="1420.7" width="39.1" height="27.01" fill="#a4ca58"/>
<rect x="2281.3" y="1420.7" width="77.6" height="27.01" fill="#afce48"/>
<rect x="2358.3" y="1420.7" width="39.1" height="27.01" fill="#99c86d"/>
<rect x="2396.8" y="1420.7" width="39.1" height="27.01" fill="#bdd33c"/>
<rect x="2435.3" y="1420.7" width="39.1" height="27.01" fill="#c0d43a"/>
<rect x="2473.8" y="1420.7" width="39.1" height="27.01" fill="#bdd33c"/>
<rect x="2512.3" y="1420.7" width="39.1" height="27.01" fill="#b1cf44"/>
<rect x="1588.3" y="1447.12" width="39.1" height="27.9" fill="#8ac590"/>
<rect x="1626.8" y="1447.12" width="77.6" height="27.9" fill="#86c5a6"/>
<rect x="1703.8" y="1447.12" width="39.1" height="27.9" fill="#84c4b4"/>
<rect x="1742.3" y="1447.12" width="39.1" height="27.9" fill="#84c6c4"/>
<rect x="1780.8" y="1447.12" width="116.1" height="27.9" fill="#81c6ce"/>
<rect x="1896.3" y="1447.12" width="39.1" height="27.9" fill="#86c5a2"/>
<rect x="1934.8" y="1447.12" width="39.1" height="27.9" fill="#84c4b4"/>
<rect x="1973.3" y="1447.12" width="39.1" height="27.9" fill="#84c5b9"/>
<rect x="2011.8" y="1447.12" width="39.1" height="27.9" fill="#84c6c4"/>
<rect x="2050.3" y="1447.12" width="39.1" height="27.9" fill="#84c4b4"/>
<rect x="2088.8" y="1447.12" width="77.6" height="27.9" fill="#84c4b0"/>
<rect x="2165.8" y="1447.12" width="77.6" height="27.9" fill="#8cc68a"/>
<rect x="2242.8" y="1447.12" width="39.1" height="27.9" fill="#9fc963"/>
<rect x="2281.3" y="1447.12" width="77.6" height="27.9" fill="#a4ca58"/>
<rect x="2358.3" y="1447.12" width="39.1" height="27.9" fill="#94c778"/>
<rect x="2396.8" y="1447.12" width="116.1" height="27.9" fill="#b4d040"/>
<rect x="2512.3" y="1447.12" width="39.1" height="27.9" fill="#afce48"/>
<rect x="1588.3" y="1474.42" width="39.1" height="30.47" fill="#8ac590"/>
<rect x="1626.8" y="1474.42" width="77.6" height="30.47" fill="#86c5a6"/>
<rect x="1703.8" y="1474.42" width="39.1" height="30.47" fill="#84c4b4"/>
<rect x="1742.3" y="1474.42" width="39.1" height="30.47" fill="#84c6c4"/>
<rect x="1780.8" y="1474.42" width="116.1" height="30.47" fill="#81c6ce"/>
<rect x="1896.3" y="1474.42" width="39.1" height="30.47" fill="#84c5bf"/>
<rect x="1934.8" y="1474.42" width="39.1" height="30.47" fill="#84c4b4"/>
<rect x="1973.3" y="1474.42" width="39.1" height="30.47" fill="#84c5b9"/>
<rect x="2011.8" y="1474.42" width="39.1" height="30.47" fill="#84c6c4"/>
<rect x="2050.3" y="1474.42" width="116.1" height="30.47" fill="#84c4b4"/>
<rect x="2165.8" y="1474.42" width="77.6" height="30.47" fill="#8ac590"/>
<rect x="2242.8" y="1474.42" width="39.1" height="30.47" fill="#9cc868"/>
<rect x="2281.3" y="1474.42" width="77.6" height="30.47" fill="#9fc963"/>
<rect x="2358.3" y="1474.42" width="39.1" height="30.47" fill="#92c67e"/>
<rect x="2396.8" y="1474.42" width="39.1" height="30.47" fill="#afce48"/>
<rect x="2435.3" y="1474.42" width="77.6" height="30.47" fill="#b1cf44"/>
<rect x="2512.3" y="1474.42" width="39.1" height="30.47" fill="#accd4c"/>
<rect x="1588.3" y="1504.28" width="39.1" height="33.14" fill="#8ac590"/>
<rect x="1626.8" y="1504.28" width="77.6" height="33.14" fill="#86c5a6"/>
<rect x="1703.8" y="1504.28" width="39.1" height="33.14" fill="#84c4b4"/>
<rect x="1742.3" y="1504.28" width="39.1" height="33.14" fill="#84c6c4"/>
<rect x="1780.8" y="1504.28" width="116.1" height="33.14" fill="#81c6ce"/>
<rect x="1896.3" y="1504.28" width="39.1" height="33.14" fill="#84c5bf"/>
<rect x="1934.8" y="1504.28" width="39.1" height="33.14" fill="#84c4b4"/>
<rect x="1973.3" y="1504.28" width="39.1" height="33.14" fill="#82c6cb"/>
<rect x="2011.8" y="1504.28" width="39.1" height="33.14" fill="#81c6ce"/>
<rect x="2050.3" y="1504.28" width="39.1" height="33.14" fill="#84c6c4"/>
<rect x="2088.8" y="1504.28" width="77.6" height="33.14" fill="#84c5bf"/>
<rect x="2165.8" y="1504.28" width="77.6" height="33.14" fill="#88c599"/>
<rect x="2242.8" y="1504.28" width="39.1" height="33.14" fill="#97c873"/>
<rect x="2281.3" y="1504.28" width="77.6" height="33.14" fill="#99c86d"/>
<rect x="2358.3" y="1504.28" width="39.1" height="33.14" fill="#8cc68a"/>
<rect x="2396.8" y="1504.28" width="39.1" height="33.14" fill="#a7cb54"/>
<rect x="2435.3" y="1504.28" width="39.1" height="33.14" fill="#accd4c"/>
<rect x="2473.8" y="1504.28" width="39.1" height="33.14" fill="#afce48"/>
<rect x="2512.3" y="1504.28" width="39.1" height="33.14" fill="#a9cc50"/>
<rect x="1588.3" y="1536.83" width="39.1" height="37.93" fill="#8ac590"/>
<rect x="1626.8" y="1536.83" width="77.6" height="37.93" fill="#86c5a6"/>
<rect x="1703.8" y="1536.83" width="39.1" height="37.93" fill="#84c4b4"/>
<rect x="1742.3" y="1536.83" width="39.1" height="37.93" fill="#84c6c4"/>
<rect x="1780.8" y="1536.83" width="116.1" height="37.93" fill="#81c6ce"/>
<rect x="1896.3" y="1536.83" width="39.1" height="37.93" fill="#82c6cb"/>
<rect x="1934.8" y="1536.83" width="39.1" height="37.93" fill="#84c4b4"/>
<rect x="1973.3" y="1536.83" width="39.1" height="37.93" fill="#82c6cb"/>
<rect x="2011.8" y="1536.83" width="39.1" height="37.93" fill="#81c6ce"/>
<rect x="2050.3" y="1536.83" width="77.6" height="37.93" fill="#84c6c4"/>
<rect x="2127.3" y="1536.83" width="39.1" height="37.93" fill="#82c6cb"/>
<rect x="2165.8" y="1536.83" width="77.6" height="37.93" fill="#86c5a2"/>
<rect x="2242.8" y="1536.83" width="39.1" height="37.93" fill="#92c67e"/>
<rect x="2281.3" y="1536.83" width="77.6" height="37.93" fill="#94c778"/>
<rect x="2358.3" y="1536.83" width="39.1" height="37.93" fill="#89c594"/>
<rect x="2396.8" y="1536.83" width="39.1" height="37.93" fill="#9fc963"/>
<rect x="2435.3" y="1536.83" width="39.1" height="37.93" fill="#a4ca58"/>
<rect x="2473.8" y="1536.83" width="39.1" height="37.93" fill="#a9cc50"/>
<rect x="2512.3" y="1536.83" width="39.1" height="37.93" fill="#a4ca58"/>
<rect x="1588.3" y="1574.16" width="39.1" height="43.78" fill="#8ac590"/>
<rect x="1626.8" y="1574.16" width="77.6" height="43.78" fill="#86c5a6"/>
<rect x="1703.8" y="1574.16" width="39.1" height="43.78" fill="#84c4b4"/>
<rect x="1742.3" y="1574.16" width="39.1" height="43.78" fill="#84c6c4"/>
<rect x="1780.8" y="1574.16" width="116.1" height="43.78" fill="#81c6ce"/>
<rect x="1896.3" y="1574.16" width="39.1" height="43.78" fill="#82c6cb"/>
<rect x="1934.8" y="1574.16" width="39.1" height="43.78" fill="#84c6c4"/>
<rect x="1973.3" y="1574.16" width="39.1" height="43.78" fill="#82c6cb"/>
<rect x="2011.8" y="1574.16" width="39.1" height="43.78" fill="#81c6ce"/>
<rect x="2050.3" y="1574.16" width="39.1" height="43.78" fill="#84c6c4"/>
<rect x="2088.8" y="1574.16" width="39.1" height="43.78" fill="#81c6ce"/>
<rect x="2127.3" y="1574.16" width="39.1" height="43.78" fill="#83c6c8"/>
<rect x="2165.8" y="1574.16" width="77.6" height="43.78" fill="#86c5a6"/>
<rect x="2242.8" y="1574.16" width="39.1" height="43.78" fill="#8cc68a"/>
<rect x="2281.3" y="1574.16" width="77.6" height="43.78" fill="#8fc684"/>
<rect x="2358.3" y="1574.16" width="39.1" height="43.78" fill="#88c599"/>
<rect x="2396.8" y="1574.16" width="39.1" height="43.78" fill="#99c86d"/>
<rect x="2435.3" y="1574.16" width="39.1" height="43.78" fill="#9fc963"/>
<rect x="2473.8" y="1574.16" width="39.1" height="43.78" fill="#a4ca58"/>
<rect x="2512.3" y="1574.16" width="39.1" height="43.78" fill="#a1ca5d"/>
<rect x="1588.3" y="1617.34" width="39.1" height="51.92" fill="#8ac590"/>
<rect x="1626.8" y="1617.34" width="77.6" height="51.92" fill="#86c5a6"/>
<rect x="1703.8" y="1617.34" width="39.1" height="51.92" fill="#84c4b4"/>
<rect x="1742.3" y="1617.34" width="39.1" height="51.92" fill="#84c6c4"/>
<rect x="1780.8" y="1617.34" width="77.6" height="51.92" fill="#81c6ce"/>
<rect x="1857.8" y="1617.34" width="39.1" height="51.92" fill="#7ac4d7"/>
<rect x="1896.3" y="1617.34" width="39.1" height="51.92" fill="#82c6cb"/>
<rect x="1934.8" y="1617.34" width="39.1" height="51.92" fill="#84c6c4"/>
<rect x="1973.3" y="1617.34" width="39.1" height="51.92" fill="#82c6cb"/>
<rect x="2011.8" y="1617.34" width="39.1" height="51.92" fill="#7ac4d7"/>
<rect x="2050.3" y="1617.34" width="39.1" height="51.92" fill="#80c6d2"/>
<rect x="2088.8" y="1617.34" width="39.1" height="51.92" fill="#81c6ce"/>
<rect x="2127.3" y="1617.34" width="39.1" height="51.92" fill="#80c6d2"/>
<rect x="2165.8" y="1617.34" width="77.6" height="51.92" fill="#85c4ab"/>
<rect x="2242.8" y="1617.34" width="39.1" height="51.92" fill="#8ac590"/>
<rect x="2281.3" y="1617.34" width="77.6" height="51.92" fill="#8cc68a"/>
<rect x="2358.3" y="1617.34" width="39.1" height="51.92" fill="#84c5bf"/>
<rect x="2396.8" y="1617.34" width="39.1" height="51.92" fill="#94c778"/>
<rect x="2435.3" y="1617.34" width="39.1" height="51.92" fill="#97c873"/>
<rect x="2473.8" y="1617.34" width="77.6" height="51.92" fill="#9cc868"/>
<rect x="1588.3" y="1668.66" width="39.1" height="63.68" fill="#8ac590"/>
<rect x="1626.8" y="1668.66" width="77.6" height="63.68" fill="#86c5a6"/>
<rect x="1703.8" y="1668.66" width="39.1" height="63.68" fill="#84c4b4"/>
<rect x="1742.3" y="1668.66" width="39.1" height="63.68" fill="#84c6c4"/>
<rect x="1780.8" y="1668.66" width="77.6" height="63.68" fill="#81c6ce"/>
<rect x="1857.8" y="1668.66" width="39.1" height="63.68" fill="#7ac4d7"/>
<rect x="1896.3" y="1668.66" width="77.6" height="63.68" fill="#82c6cb"/>
<rect x="1973.3" y="1668.66" width="39.1" height="63.68" fill="#81c6ce"/>
<rect x="2011.8" y="1668.66" width="39.1" height="63.68" fill="#7ac4d7"/>
<rect x="2050.3" y="1668.66" width="39.1" height="63.68" fill="#7dc5d4"/>
<rect x="2088.8" y="1668.66" width="39.1" height="63.68" fill="#81c6ce"/>
<rect x="2127.3" y="1668.66" width="39.1" height="63.68" fill="#80c6d2"/>
<rect x="2165.8" y="1668.66" width="77.6" height="63.68" fill="#84c4b0"/>
<rect x="2242.8" y="1668.66" width="39.1" height="63.68" fill="#88c599"/>
<rect x="2281.3" y="1668.66" width="77.6" height="63.68" fill="#8ac590"/>
<rect x="2358.3" y="1668.66" width="39.1" height="63.68" fill="#84c6c4"/>
<rect x="2396.8" y="1668.66" width="39.1" height="63.68" fill="#8fc684"/>
<rect x="2435.3" y="1668.66" width="39.1" height="63.68" fill="#92c67e"/>
<rect x="2473.8" y="1668.66" width="39.1" height="63.68" fill="#94c778"/>
<rect x="2512.3" y="1668.66" width="39.1" height="63.68" fill="#97c873"/>
<rect x="1588.3" y="1731.73" width="39.1" height="34.37" fill="#8ac590"/>
<rect x="1626.8" y="1731.73" width="77.6" height="34.37" fill="#86c5a6"/>
<rect x="1703.8" y="1731.73" width="39.1" height="34.37" fill="#84c4b4"/>
<rect x="1742.3" y="1731.73" width="39.1" height="34.37" fill="#84c6c4"/>
<rect x="1780.8" y="1731.73" width="77.6" height="34.37" fill="#81c6ce"/>
<rect x="1857.8" y="1731.73" width="308.6" height="34.37" fill="#7ac4d7"/>
<rect x="2165.8" y="1731.73" width="77.6" height="34.37" fill="#84c5bf"/>
<rect x="2242.8" y="1731.73" width="39.1" height="34.37" fill="#86c5a2"/>
<rect x="2281.3" y="1731.73" width="77.6" height="34.37" fill="#88c599"/>
<rect x="2358.3" y="1731.73" width="39.1" height="34.37" fill="#81c6ce"/>
<rect x="2396.8" y="1731.73" width="77.6" height="34.37" fill="#8ac590"/>
<rect x="2473.8" y="1731.73" width="39.1" height="34.37" fill="#8cc68a"/>
<rect x="2512.3" y="1731.73" width="39.1" height="34.37" fill="#92c67e"/>
</g>
<path d="M1626.8 1208.3V1765.5M1665.3 1208.3V1765.5M1703.8 1208.3V1765.5M1742.3 1208.3V1765.5M1780.8 1208.3V1765.5M1819.3 1208.3V1765.5M1857.8 1208.3V1765.5M1896.3 1208.3V1765.5M1934.8 1208.3V1765.5M1973.3 1208.3V1765.5M2011.8 1208.3V1765.5M2050.3 1208.3V1765.5M2088.8 1208.3V1765.5M2127.3 1208.3V1765.5M2165.8 1208.3V1765.5M2204.3 1208.3V1765.5M2242.8 1208.3V1765.5M2281.3 1208.3V1765.5M2319.8 1208.3V1765.5M2358.3 1208.3V1765.5M2396.8 1208.3V1765.5M2435.3 1208.3V1765.5M2473.8 1208.3V1765.5M2512.3 1208.3V1765.5M1588.3 1230.92H2550.8M1588.3 1254.6H2550.8M1588.3 1277.62H2550.8M1588.3 1300.8H2550.8M1588.3 1323.81H2550.8M1588.3 1346.99H2550.8M1588.3 1371.5H2550.8M1588.3 1395.91H2550.8M1588.3 1420.7H2550.8M1588.3 1447.12H2550.8M1588.3 1474.42H2550.8M1588.3 1504.28H2550.8M1588.3 1536.83H2550.8M1588.3 1574.16H2550.8M1588.3 1617.34H2550.8M1588.3 1668.66H2550.8M1588.3 1731.73H2550.8" stroke="#ffffff" stroke-opacity="0.075" stroke-width="1" fill="none"/>
</g>
<rect x="1586.8" y="1208.3" width="960.9" height="557.2" fill="none" stroke="#161314" stroke-width="4.2"/>
<text x="1565.5" y="1325.63" font-size="36.5" text-anchor="end" fill="#2c2623">50</text>
<text x="1565.5" y="1439.53" font-size="36.5" text-anchor="end" fill="#2c2623">100</text>
<text x="1565.5" y="1553.43" font-size="36.5" text-anchor="end" fill="#2c2623">150</text>
<text x="1565.5" y="1667.33" font-size="36.5" text-anchor="end" fill="#2c2623">200</text>
<text x="1565.5" y="1781.23" font-size="36.5" text-anchor="end" fill="#2c2623">250</text>
<text x="1584" y="1822" font-size="36.5" text-anchor="middle" fill="#2c2623">0</text>
<text x="1721.1" y="1822" font-size="36.5" text-anchor="middle" fill="#2c2623">50</text>
<text x="1858.2" y="1822" font-size="36.5" text-anchor="middle" fill="#2c2623">100</text>
<text x="1995.3" y="1822" font-size="36.5" text-anchor="middle" fill="#2c2623">150</text>
<text x="2132.4" y="1822" font-size="36.5" text-anchor="middle" fill="#2c2623">200</text>
<text x="2269.5" y="1822" font-size="36.5" text-anchor="middle" fill="#2c2623">250</text>
<text x="2406.6" y="1822" font-size="36.5" text-anchor="middle" fill="#2c2623">300</text>
<text x="2543.7" y="1822" font-size="36.5" text-anchor="middle" fill="#2c2623">350</text>
<text x="1969.5" y="1882.8" font-size="42.5" fill="#2c2623" textLength="216.5" lengthAdjust="spacingAndGlyphs">Day number</text>
<text x="1446" y="1596" font-size="43" fill="#2c2623" textLength="221" lengthAdjust="spacingAndGlyphs" transform="rotate(-90 1446 1596)">Depth (in m)</text>
<rect x="2504.2" y="1241.3" width="194.5" height="502.3" fill="#ffffff" stroke="#0f0d0d" stroke-width="3.8" rx="46"/>
<g shape-rendering="crispEdges">
<rect x="2541.6" y="1711.24" width="63.9" height="7.66" fill="#412b70"/>
<rect x="2541.6" y="1704.17" width="63.9" height="7.66" fill="#422e75"/>
<rect x="2541.6" y="1697.11" width="63.9" height="7.66" fill="#433179"/>
<rect x="2541.6" y="1690.05" width="63.9" height="7.66" fill="#45337d"/>
<rect x="2541.6" y="1682.99" width="63.9" height="7.66" fill="#463782"/>
<rect x="2541.6" y="1675.92" width="63.9" height="7.66" fill="#473d87"/>
<rect x="2541.6" y="1668.86" width="63.9" height="7.66" fill="#49428b"/>
<rect x="2541.6" y="1661.8" width="63.9" height="7.66" fill="#4a4790"/>
<rect x="2541.6" y="1654.74" width="63.9" height="7.66" fill="#4d4c93"/>
<rect x="2541.6" y="1647.67" width="63.9" height="7.66" fill="#504f96"/>
<rect x="2541.6" y="1640.61" width="63.9" height="7.66" fill="#525399"/>
<rect x="2541.6" y="1633.55" width="63.9" height="7.66" fill="#54579c"/>
<rect x="2541.6" y="1626.49" width="63.9" height="7.66" fill="#565b9f"/>
<rect x="2541.6" y="1619.42" width="63.9" height="7.66" fill="#5861a3"/>
<rect x="2541.6" y="1612.36" width="63.9" height="7.66" fill="#5b68a8"/>
<rect x="2541.6" y="1605.3" width="63.9" height="7.66" fill="#5c6fad"/>
<rect x="2541.6" y="1598.24" width="63.9" height="7.66" fill="#5f79b4"/>
<rect x="2541.6" y="1591.17" width="63.9" height="7.66" fill="#6486bd"/>
<rect x="2541.6" y="1584.11" width="63.9" height="7.66" fill="#6794c7"/>
<rect x="2541.6" y="1577.05" width="63.9" height="7.66" fill="#68a4d3"/>
<rect x="2541.6" y="1569.99" width="63.9" height="7.66" fill="#68b2de"/>
<rect x="2541.6" y="1562.92" width="63.9" height="7.66" fill="#66bde6"/>
<rect x="2541.6" y="1555.86" width="63.9" height="7.66" fill="#71c1de"/>
<rect x="2541.6" y="1548.8" width="63.9" height="7.66" fill="#7bc4d6"/>
<rect x="2541.6" y="1541.74" width="63.9" height="7.66" fill="#81c6cd"/>
<rect x="2541.6" y="1534.67" width="63.9" height="7.66" fill="#84c6c1"/>
<rect x="2541.6" y="1527.61" width="63.9" height="7.66" fill="#84c4b1"/>
<rect x="2541.6" y="1520.55" width="63.9" height="7.66" fill="#86c5a3"/>
<rect x="2541.6" y="1513.49" width="63.9" height="7.66" fill="#89c595"/>
<rect x="2541.6" y="1506.42" width="63.9" height="7.66" fill="#8fc684"/>
<rect x="2541.6" y="1499.36" width="63.9" height="7.66" fill="#97c872"/>
<rect x="2541.6" y="1492.3" width="63.9" height="7.66" fill="#9fc961"/>
<rect x="2541.6" y="1485.24" width="63.9" height="7.66" fill="#a8cb52"/>
<rect x="2541.6" y="1478.17" width="63.9" height="7.66" fill="#b0cf46"/>
<rect x="2541.6" y="1471.11" width="63.9" height="7.66" fill="#b9d23e"/>
<rect x="2541.6" y="1464.05" width="63.9" height="7.66" fill="#c2d539"/>
<rect x="2541.6" y="1456.99" width="63.9" height="7.66" fill="#ccd834"/>
<rect x="2541.6" y="1449.92" width="63.9" height="7.66" fill="#d6dc31"/>
<rect x="2541.6" y="1442.86" width="63.9" height="7.66" fill="#e1e12d"/>
<rect x="2541.6" y="1435.8" width="63.9" height="7.66" fill="#ebe42c"/>
<rect x="2541.6" y="1428.74" width="63.9" height="7.66" fill="#f6e72c"/>
<rect x="2541.6" y="1421.67" width="63.9" height="7.66" fill="#fbdc29"/>
<rect x="2541.6" y="1414.61" width="63.9" height="7.66" fill="#fcc02a"/>
<rect x="2541.6" y="1407.55" width="63.9" height="7.66" fill="#fbb02a"/>
<rect x="2541.6" y="1400.49" width="63.9" height="7.66" fill="#f8a42a"/>
<rect x="2541.6" y="1393.42" width="63.9" height="7.66" fill="#f5992b"/>
<rect x="2541.6" y="1386.36" width="63.9" height="7.66" fill="#f38e2c"/>
<rect x="2541.6" y="1379.3" width="63.9" height="7.66" fill="#f1822c"/>
<rect x="2541.6" y="1372.24" width="63.9" height="7.66" fill="#ef752c"/>
<rect x="2541.6" y="1365.17" width="63.9" height="7.66" fill="#ed682c"/>
<rect x="2541.6" y="1358.11" width="63.9" height="7.66" fill="#eb5c2c"/>
<rect x="2541.6" y="1351.05" width="63.9" height="7.66" fill="#ea522c"/>
<rect x="2541.6" y="1343.99" width="63.9" height="7.66" fill="#e9482b"/>
<rect x="2541.6" y="1336.92" width="63.9" height="7.66" fill="#e83d2a"/>
<rect x="2541.6" y="1329.86" width="63.9" height="7.66" fill="#e73a2a"/>
<rect x="2541.6" y="1322.8" width="63.9" height="7.66" fill="#e7372a"/>
<rect x="2541.6" y="1315.74" width="63.9" height="7.66" fill="#e6352a"/>
<rect x="2541.6" y="1308.67" width="63.9" height="7.66" fill="#de322a"/>
<rect x="2541.6" y="1301.61" width="63.9" height="7.66" fill="#c92f29"/>
<rect x="2541.6" y="1294.55" width="63.9" height="7.66" fill="#b92e28"/>
<rect x="2541.6" y="1287.49" width="63.9" height="7.66" fill="#a62d28"/>
<rect x="2541.6" y="1280.42" width="63.9" height="7.66" fill="#952c28"/>
<rect x="2541.6" y="1273.36" width="63.9" height="7.66" fill="#892b26"/>
<rect x="2541.6" y="1266.3" width="63.9" height="7.66" fill="#7f2a25"/>
</g>
<rect x="2541.6" y="1266.3" width="63.9" height="452" fill="none" stroke="#332c29" stroke-width="2.8"/>
<line x1="2599" y1="1693" x2="2605.5" y2="1693" stroke="#1d1a18" stroke-width="2.8"/>
<text x="2618.3" y="1704.01" font-size="26" fill="#2c2623">3</text>
<line x1="2599" y1="1628.2" x2="2605.5" y2="1628.2" stroke="#1d1a18" stroke-width="2.8"/>
<text x="2618.3" y="1639.21" font-size="26" fill="#2c2623">4</text>
<line x1="2599" y1="1563.4" x2="2605.5" y2="1563.4" stroke="#1d1a18" stroke-width="2.8"/>
<text x="2618.3" y="1574.41" font-size="26" fill="#2c2623">5</text>
<line x1="2599" y1="1498.6" x2="2605.5" y2="1498.6" stroke="#1d1a18" stroke-width="2.8"/>
<text x="2618.3" y="1509.61" font-size="26" fill="#2c2623">6</text>
<line x1="2599" y1="1433.8" x2="2605.5" y2="1433.8" stroke="#1d1a18" stroke-width="2.8"/>
<text x="2618.3" y="1444.81" font-size="26" fill="#2c2623">7</text>
<line x1="2599" y1="1369" x2="2605.5" y2="1369" stroke="#1d1a18" stroke-width="2.8"/>
<text x="2618.3" y="1380.01" font-size="26" fill="#2c2623">8</text>
<line x1="2599" y1="1304.2" x2="2605.5" y2="1304.2" stroke="#1d1a18" stroke-width="2.8"/>
<text x="2618.3" y="1315.21" font-size="26" fill="#2c2623">9</text>
<text x="2671" y="1588.7" font-size="41.5" fill="#2c2623" textLength="201.7" lengthAdjust="spacingAndGlyphs" transform="rotate(-90 2671 1588.7)">Temperature</text>
<clipPath id="hc4"><rect x="1588.2" y="1980.5" width="962.5" height="563"/></clipPath>
<g clip-path="url(#hc4)">
<g shape-rendering="crispEdges">
<rect x="1588.2" y="1980.5" width="39.1" height="23.46" fill="#e94a2b"/>
<rect x="1626.7" y="1980.5" width="39.1" height="23.46" fill="#e8402a"/>
<rect x="1665.2" y="1980.5" width="39.1" height="23.46" fill="#f9a82a"/>
<rect x="1703.7" y="1980.5" width="39.1" height="23.46" fill="#ea502c"/>
<rect x="1742.2" y="1980.5" width="39.1" height="23.46" fill="#e8432a"/>
<rect x="1780.7" y="1980.5" width="39.1" height="23.46" fill="#e8402a"/>
<rect x="1819.2" y="1980.5" width="39.1" height="23.46" fill="#ec602c"/>
<rect x="1857.7" y="1980.5" width="39.1" height="23.46" fill="#ef792c"/>
<rect x="1896.2" y="1980.5" width="39.1" height="23.46" fill="#ec602c"/>
<rect x="1934.7" y="1980.5" width="39.1" height="23.46" fill="#ea502c"/>
<rect x="1973.2" y="1980.5" width="39.1" height="23.46" fill="#ccd834"/>
<rect x="2011.7" y="1980.5" width="39.1" height="23.46" fill="#f8e82c"/>
<rect x="2050.2" y="1980.5" width="39.1" height="23.46" fill="#bdd33c"/>
<rect x="2088.7" y="1980.5" width="39.1" height="23.46" fill="#74c2dc"/>
<rect x="2127.2" y="1980.5" width="39.1" height="23.46" fill="#515197"/>
<rect x="2165.7" y="1980.5" width="77.6" height="23.46" fill="#422d74"/>
<rect x="2242.7" y="1980.5" width="39.1" height="23.46" fill="#49428b"/>
<rect x="2281.2" y="1980.5" width="116.1" height="23.46" fill="#4f4f95"/>
<rect x="2396.7" y="1980.5" width="39.1" height="23.46" fill="#55599e"/>
<rect x="2435.2" y="1980.5" width="39.1" height="23.46" fill="#74c2dc"/>
<rect x="2473.7" y="1980.5" width="39.1" height="23.46" fill="#92c67e"/>
<rect x="2512.2" y="1980.5" width="39.1" height="23.46" fill="#f5e72c"/>
<rect x="1588.2" y="2003.36" width="39.1" height="24.53" fill="#e94a2b"/>
<rect x="1626.7" y="2003.36" width="39.1" height="24.53" fill="#e8402a"/>
<rect x="1665.2" y="2003.36" width="39.1" height="24.53" fill="#f9a82a"/>
<rect x="1703.7" y="2003.36" width="39.1" height="24.53" fill="#e9462b"/>
<rect x="1742.2" y="2003.36" width="39.1" height="24.53" fill="#e8432a"/>
<rect x="1780.7" y="2003.36" width="39.1" height="24.53" fill="#e8402a"/>
<rect x="1819.2" y="2003.36" width="39.1" height="24.53" fill="#ec602c"/>
<rect x="1857.7" y="2003.36" width="39.1" height="24.53" fill="#ef792c"/>
<rect x="1896.2" y="2003.36" width="39.1" height="24.53" fill="#ec602c"/>
<rect x="1934.7" y="2003.36" width="39.1" height="24.53" fill="#ea502c"/>
<rect x="1973.2" y="2003.36" width="39.1" height="24.53" fill="#ccd834"/>
<rect x="2011.7" y="2003.36" width="39.1" height="24.53" fill="#f8e82c"/>
<rect x="2050.2" y="2003.36" width="39.1" height="24.53" fill="#bdd33c"/>
<rect x="2088.7" y="2003.36" width="39.1" height="24.53" fill="#80c6d2"/>
<rect x="2127.2" y="2003.36" width="39.1" height="24.53" fill="#525298"/>
<rect x="2165.7" y="2003.36" width="77.6" height="24.53" fill="#44327c"/>
<rect x="2242.7" y="2003.36" width="39.1" height="24.53" fill="#4a458e"/>
<rect x="2281.2" y="2003.36" width="39.1" height="24.53" fill="#505096"/>
<rect x="2319.7" y="2003.36" width="77.6" height="24.53" fill="#4f4f95"/>
<rect x="2396.7" y="2003.36" width="39.1" height="24.53" fill="#55599e"/>
<rect x="2435.2" y="2003.36" width="39.1" height="24.53" fill="#74c2dc"/>
<rect x="2473.7" y="2003.36" width="39.1" height="24.53" fill="#92c67e"/>
<rect x="2512.2" y="2003.36" width="39.1" height="24.53" fill="#f5e72c"/>
<rect x="1588.2" y="2027.29" width="39.1" height="23.85" fill="#e94a2b"/>
<rect x="1626.7" y="2027.29" width="39.1" height="23.85" fill="#e8402a"/>
<rect x="1665.2" y="2027.29" width="39.1" height="23.85" fill="#f9a82a"/>
<rect x="1703.7" y="2027.29" width="39.1" height="23.85" fill="#e9462b"/>
<rect x="1742.2" y="2027.29" width="39.1" height="23.85" fill="#e8432a"/>
<rect x="1780.7" y="2027.29" width="39.1" height="23.85" fill="#e8402a"/>
<rect x="1819.2" y="2027.29" width="39.1" height="23.85" fill="#ea4d2c"/>
<rect x="1857.7" y="2027.29" width="39.1" height="23.85" fill="#ef792c"/>
<rect x="1896.2" y="2027.29" width="39.1" height="23.85" fill="#ec602c"/>
<rect x="1934.7" y="2027.29" width="39.1" height="23.85" fill="#e8402a"/>
<rect x="1973.2" y="2027.29" width="39.1" height="23.85" fill="#ccd834"/>
<rect x="2011.7" y="2027.29" width="39.1" height="23.85" fill="#f8e82c"/>
<rect x="2050.2" y="2027.29" width="39.1" height="23.85" fill="#c6d637"/>
<rect x="2088.7" y="2027.29" width="39.1" height="23.85" fill="#80c6d2"/>
<rect x="2127.2" y="2027.29" width="39.1" height="23.85" fill="#53549a"/>
<rect x="2165.7" y="2027.29" width="77.6" height="23.85" fill="#525298"/>
<rect x="2242.7" y="2027.29" width="39.1" height="23.85" fill="#505096"/>
<rect x="2281.2" y="2027.29" width="39.1" height="23.85" fill="#525298"/>
<rect x="2319.7" y="2027.29" width="77.6" height="23.85" fill="#505096"/>
<rect x="2396.7" y="2027.29" width="39.1" height="23.85" fill="#55599e"/>
<rect x="2435.2" y="2027.29" width="39.1" height="23.85" fill="#74c2dc"/>
<rect x="2473.7" y="2027.29" width="39.1" height="23.85" fill="#92c67e"/>
<rect x="2512.2" y="2027.29" width="39.1" height="23.85" fill="#f5e72c"/>
<rect x="1588.2" y="2050.54" width="39.1" height="24.02" fill="#e94a2b"/>
<rect x="1626.7" y="2050.54" width="39.1" height="24.02" fill="#e8402a"/>
<rect x="1665.2" y="2050.54" width="39.1" height="24.02" fill="#f9a82a"/>
<rect x="1703.7" y="2050.54" width="39.1" height="24.02" fill="#e9462b"/>
<rect x="1742.2" y="2050.54" width="39.1" height="24.02" fill="#e8432a"/>
<rect x="1780.7" y="2050.54" width="39.1" height="24.02" fill="#e8402a"/>
<rect x="1819.2" y="2050.54" width="39.1" height="24.02" fill="#ea4d2c"/>
<rect x="1857.7" y="2050.54" width="39.1" height="24.02" fill="#ef792c"/>
<rect x="1896.2" y="2050.54" width="39.1" height="24.02" fill="#ec602c"/>
<rect x="1934.7" y="2050.54" width="39.1" height="24.02" fill="#e8402a"/>
<rect x="1973.2" y="2050.54" width="39.1" height="24.02" fill="#ccd834"/>
<rect x="2011.7" y="2050.54" width="39.1" height="24.02" fill="#f8e82c"/>
<rect x="2050.2" y="2050.54" width="39.1" height="24.02" fill="#ccd834"/>
<rect x="2088.7" y="2050.54" width="39.1" height="24.02" fill="#82c6cb"/>
<rect x="2127.2" y="2050.54" width="39.1" height="24.02" fill="#68a0d0"/>
<rect x="2165.7" y="2050.54" width="77.6" height="24.02" fill="#81c6ce"/>
<rect x="2242.7" y="2050.54" width="39.1" height="24.02" fill="#84c5bf"/>
<rect x="2281.2" y="2050.54" width="39.1" height="24.02" fill="#7ac4d7"/>
<rect x="2319.7" y="2050.54" width="39.1" height="24.02" fill="#5a67a8"/>
<rect x="2358.2" y="2050.54" width="39.1" height="24.02" fill="#66bde6"/>
<rect x="2396.7" y="2050.54" width="39.1" height="24.02" fill="#565b9f"/>
<rect x="2435.2" y="2050.54" width="39.1" height="24.02" fill="#74c2dc"/>
<rect x="2473.7" y="2050.54" width="39.1" height="24.02" fill="#92c67e"/>
<rect x="2512.2" y="2050.54" width="39.1" height="24.02" fill="#f5e72c"/>
<rect x="1588.2" y="2073.96" width="39.1" height="23.85" fill="#e94a2b"/>
<rect x="1626.7" y="2073.96" width="39.1" height="23.85" fill="#e8402a"/>
<rect x="1665.2" y="2073.96" width="39.1" height="23.85" fill="#f9a82a"/>
<rect x="1703.7" y="2073.96" width="39.1" height="23.85" fill="#e9462b"/>
<rect x="1742.2" y="2073.96" width="39.1" height="23.85" fill="#e8432a"/>
<rect x="1780.7" y="2073.96" width="39.1" height="23.85" fill="#e8402a"/>
<rect x="1819.2" y="2073.96" width="39.1" height="23.85" fill="#ea4d2c"/>
<rect x="1857.7" y="2073.96" width="39.1" height="23.85" fill="#ee6c2c"/>
<rect x="1896.2" y="2073.96" width="39.1" height="23.85" fill="#ea4d2c"/>
<rect x="1934.7" y="2073.96" width="39.1" height="23.85" fill="#e8402a"/>
<rect x="1973.2" y="2073.96" width="39.1" height="23.85" fill="#dade2f"/>
<rect x="2011.7" y="2073.96" width="39.1" height="23.85" fill="#fcd328"/>
<rect x="2050.2" y="2073.96" width="39.1" height="23.85" fill="#eee52c"/>
<rect x="2088.7" y="2073.96" width="39.1" height="23.85" fill="#8ac590"/>
<rect x="2127.2" y="2073.96" width="39.1" height="23.85" fill="#80c6d2"/>
<rect x="2165.7" y="2073.96" width="77.6" height="23.85" fill="#94c778"/>
<rect x="2242.7" y="2073.96" width="39.1" height="23.85" fill="#f5e72c"/>
<rect x="2281.2" y="2073.96" width="39.1" height="23.85" fill="#dddf2e"/>
<rect x="2319.7" y="2073.96" width="39.1" height="23.85" fill="#81c6ce"/>
<rect x="2358.2" y="2073.96" width="39.1" height="23.85" fill="#fcc42a"/>
<rect x="2396.7" y="2073.96" width="39.1" height="23.85" fill="#6790c4"/>
<rect x="2435.2" y="2073.96" width="39.1" height="23.85" fill="#80c6d2"/>
<rect x="2473.7" y="2073.96" width="39.1" height="23.85" fill="#92c67e"/>
<rect x="2512.2" y="2073.96" width="39.1" height="23.85" fill="#a4ca58"/>
<rect x="1588.2" y="2097.21" width="39.1" height="24.02" fill="#e94a2b"/>
<rect x="1626.7" y="2097.21" width="39.1" height="24.02" fill="#e8402a"/>
<rect x="1665.2" y="2097.21" width="39.1" height="24.02" fill="#f9a82a"/>
<rect x="1703.7" y="2097.21" width="39.1" height="24.02" fill="#e9462b"/>
<rect x="1742.2" y="2097.21" width="39.1" height="24.02" fill="#e8432a"/>
<rect x="1780.7" y="2097.21" width="39.1" height="24.02" fill="#e8402a"/>
<rect x="1819.2" y="2097.21" width="39.1" height="24.02" fill="#ea502c"/>
<rect x="1857.7" y="2097.21" width="39.1" height="24.02" fill="#ec5c2c"/>
<rect x="1896.2" y="2097.21" width="39.1" height="24.02" fill="#ea4d2c"/>
<rect x="1934.7" y="2097.21" width="39.1" height="24.02" fill="#e8402a"/>
<rect x="1973.2" y="2097.21" width="39.1" height="24.02" fill="#dddf2e"/>
<rect x="2011.7" y="2097.21" width="39.1" height="24.02" fill="#fcb82a"/>
<rect x="2050.2" y="2097.21" width="39.1" height="24.02" fill="#fcd828"/>
<rect x="2088.7" y="2097.21" width="39.1" height="24.02" fill="#a4ca58"/>
<rect x="2127.2" y="2097.21" width="39.1" height="24.02" fill="#87c59e"/>
<rect x="2165.7" y="2097.21" width="77.6" height="24.02" fill="#bdd33c"/>
<rect x="2242.7" y="2097.21" width="39.1" height="24.02" fill="#f9a82a"/>
<rect x="2281.2" y="2097.21" width="39.1" height="24.02" fill="#fcb42a"/>
<rect x="2319.7" y="2097.21" width="39.1" height="24.02" fill="#8ac590"/>
<rect x="2358.2" y="2097.21" width="39.1" height="24.02" fill="#e83e2a"/>
<rect x="2396.7" y="2097.21" width="39.1" height="24.02" fill="#7ac4d7"/>
<rect x="2435.2" y="2097.21" width="39.1" height="24.02" fill="#83c6c8"/>
<rect x="2473.7" y="2097.21" width="77.6" height="24.02" fill="#8fc684"/>
<rect x="1588.2" y="2120.63" width="39.1" height="25.37" fill="#e94a2b"/>
<rect x="1626.7" y="2120.63" width="39.1" height="25.37" fill="#e8402a"/>
<rect x="1665.2" y="2120.63" width="39.1" height="25.37" fill="#f9a82a"/>
<rect x="1703.7" y="2120.63" width="39.1" height="25.37" fill="#e9462b"/>
<rect x="1742.2" y="2120.63" width="39.1" height="25.37" fill="#e8432a"/>
<rect x="1780.7" y="2120.63" width="39.1" height="25.37" fill="#e8402a"/>
<rect x="1819.2" y="2120.63" width="39.1" height="25.37" fill="#e8432a"/>
<rect x="1857.7" y="2120.63" width="39.1" height="25.37" fill="#e94a2b"/>
<rect x="1896.2" y="2120.63" width="39.1" height="25.37" fill="#e8432a"/>
<rect x="1934.7" y="2120.63" width="39.1" height="25.37" fill="#e8402a"/>
<rect x="1973.2" y="2120.63" width="39.1" height="25.37" fill="#f8e82c"/>
<rect x="2011.7" y="2120.63" width="39.1" height="25.37" fill="#fbb02a"/>
<rect x="2050.2" y="2120.63" width="39.1" height="25.37" fill="#fcb82a"/>
<rect x="2088.7" y="2120.63" width="39.1" height="25.37" fill="#ccd834"/>
<rect x="2127.2" y="2120.63" width="39.1" height="25.37" fill="#a9cc50"/>
<rect x="2165.7" y="2120.63" width="77.6" height="25.37" fill="#f5e72c"/>
<rect x="2242.7" y="2120.63" width="39.1" height="25.37" fill="#ec602c"/>
<rect x="2281.2" y="2120.63" width="39.1" height="25.37" fill="#ea502c"/>
<rect x="2319.7" y="2120.63" width="39.1" height="25.37" fill="#fcc42a"/>
<rect x="2358.2" y="2120.63" width="39.1" height="25.37" fill="#e7392a"/>
<rect x="2396.7" y="2120.63" width="39.1" height="25.37" fill="#bdd33c"/>
<rect x="2435.2" y="2120.63" width="39.1" height="25.37" fill="#8cc68a"/>
<rect x="2473.7" y="2120.63" width="77.6" height="25.37" fill="#a4ca58"/>
<rect x="1588.2" y="2145.4" width="39.1" height="25.26" fill="#e94a2b"/>
<rect x="1626.7" y="2145.4" width="39.1" height="25.26" fill="#e8402a"/>
<rect x="1665.2" y="2145.4" width="39.1" height="25.26" fill="#f9a82a"/>
<rect x="1703.7" y="2145.4" width="39.1" height="25.26" fill="#e9462b"/>
<rect x="1742.2" y="2145.4" width="39.1" height="25.26" fill="#e8432a"/>
<rect x="1780.7" y="2145.4" width="39.1" height="25.26" fill="#e8402a"/>
<rect x="1819.2" y="2145.4" width="39.1" height="25.26" fill="#e8432a"/>
<rect x="1857.7" y="2145.4" width="39.1" height="25.26" fill="#e94a2b"/>
<rect x="1896.2" y="2145.4" width="39.1" height="25.26" fill="#e8432a"/>
<rect x="1934.7" y="2145.4" width="39.1" height="25.26" fill="#e8402a"/>
<rect x="1973.2" y="2145.4" width="39.1" height="25.26" fill="#fcc42a"/>
<rect x="2011.7" y="2145.4" width="39.1" height="25.26" fill="#f9a82a"/>
<rect x="2050.2" y="2145.4" width="39.1" height="25.26" fill="#f7a02a"/>
<rect x="2088.7" y="2145.4" width="39.1" height="25.26" fill="#f8e82c"/>
<rect x="2127.2" y="2145.4" width="39.1" height="25.26" fill="#eee52c"/>
<rect x="2165.7" y="2145.4" width="77.6" height="25.26" fill="#fcb82a"/>
<rect x="2242.7" y="2145.4" width="39.1" height="25.26" fill="#e7392a"/>
<rect x="2281.2" y="2145.4" width="39.1" height="25.26" fill="#e6342a"/>
<rect x="2319.7" y="2145.4" width="39.1" height="25.26" fill="#e83e2a"/>
<rect x="2358.2" y="2145.4" width="39.1" height="25.26" fill="#e6342a"/>
<rect x="2396.7" y="2145.4" width="39.1" height="25.26" fill="#ef792c"/>
<rect x="2435.2" y="2145.4" width="39.1" height="25.26" fill="#e4e22c"/>
<rect x="2473.7" y="2145.4" width="77.6" height="25.26" fill="#ccd834"/>
<rect x="1588.2" y="2170.06" width="39.1" height="25.65" fill="#e9462b"/>
<rect x="1626.7" y="2170.06" width="39.1" height="25.65" fill="#e8402a"/>
<rect x="1665.2" y="2170.06" width="39.1" height="25.65" fill="#f9a82a"/>
<rect x="1703.7" y="2170.06" width="39.1" height="25.65" fill="#e9462b"/>
<rect x="1742.2" y="2170.06" width="39.1" height="25.65" fill="#e8432a"/>
<rect x="1780.7" y="2170.06" width="39.1" height="25.65" fill="#e8402a"/>
<rect x="1819.2" y="2170.06" width="39.1" height="25.65" fill="#e8432a"/>
<rect x="1857.7" y="2170.06" width="39.1" height="25.65" fill="#e8402a"/>
<rect x="1896.2" y="2170.06" width="39.1" height="25.65" fill="#e8432a"/>
<rect x="1934.7" y="2170.06" width="39.1" height="25.65" fill="#e8402a"/>
<rect x="1973.2" y="2170.06" width="39.1" height="25.65" fill="#fcb82a"/>
<rect x="2011.7" y="2170.06" width="39.1" height="25.65" fill="#f9a82a"/>
<rect x="2050.2" y="2170.06" width="39.1" height="25.65" fill="#f38e2c"/>
<rect x="2088.7" y="2170.06" width="39.1" height="25.65" fill="#fcc42a"/>
<rect x="2127.2" y="2170.06" width="39.1" height="25.65" fill="#fcd828"/>
<rect x="2165.7" y="2170.06" width="77.6" height="25.65" fill="#f69b2b"/>
<rect x="2242.7" y="2170.06" width="39.1" height="25.65" fill="#e6342a"/>
<rect x="2281.2" y="2170.06" width="39.1" height="25.65" fill="#b82e28"/>
<rect x="2319.7" y="2170.06" width="39.1" height="25.65" fill="#cb2f29"/>
<rect x="2358.2" y="2170.06" width="39.1" height="25.65" fill="#e6342a"/>
<rect x="2396.7" y="2170.06" width="39.1" height="25.65" fill="#e6362a"/>
<rect x="2435.2" y="2170.06" width="39.1" height="25.65" fill="#f38e2c"/>
<rect x="2473.7" y="2170.06" width="77.6" height="25.65" fill="#fcc42a"/>
<rect x="1588.2" y="2195.12" width="39.1" height="27.29" fill="#e9462b"/>
<rect x="1626.7" y="2195.12" width="39.1" height="27.29" fill="#e8402a"/>
<rect x="1665.2" y="2195.12" width="39.1" height="27.29" fill="#f9a82a"/>
<rect x="1703.7" y="2195.12" width="39.1" height="27.29" fill="#e9462b"/>
<rect x="1742.2" y="2195.12" width="39.1" height="27.29" fill="#e8432a"/>
<rect x="1780.7" y="2195.12" width="39.1" height="27.29" fill="#e8402a"/>
<rect x="1819.2" y="2195.12" width="39.1" height="27.29" fill="#e8432a"/>
<rect x="1857.7" y="2195.12" width="39.1" height="27.29" fill="#e8402a"/>
<rect x="1896.2" y="2195.12" width="39.1" height="27.29" fill="#e8432a"/>
<rect x="1934.7" y="2195.12" width="39.1" height="27.29" fill="#e8402a"/>
<rect x="1973.2" y="2195.12" width="39.1" height="27.29" fill="#fcb82a"/>
<rect x="2011.7" y="2195.12" width="39.1" height="27.29" fill="#f9a82a"/>
<rect x="2050.2" y="2195.12" width="39.1" height="27.29" fill="#f28a2c"/>
<rect x="2088.7" y="2195.12" width="39.1" height="27.29" fill="#fcb42a"/>
<rect x="2127.2" y="2195.12" width="39.1" height="27.29" fill="#fcb82a"/>
<rect x="2165.7" y="2195.12" width="77.6" height="27.29" fill="#f1812c"/>
<rect x="2242.7" y="2195.12" width="39.1" height="27.29" fill="#e6342a"/>
<rect x="2281.2" y="2195.12" width="39.1" height="27.29" fill="#982c28"/>
<rect x="2319.7" y="2195.12" width="39.1" height="27.29" fill="#892b26"/>
<rect x="2358.2" y="2195.12" width="39.1" height="27.29" fill="#e6342a"/>
<rect x="2396.7" y="2195.12" width="39.1" height="27.29" fill="#ad2d28"/>
<rect x="2435.2" y="2195.12" width="39.1" height="27.29" fill="#e6342a"/>
<rect x="2473.7" y="2195.12" width="77.6" height="27.29" fill="#ea502c"/>
<rect x="1588.2" y="2221.8" width="77.6" height="28.19" fill="#e8402a"/>
<rect x="1665.2" y="2221.8" width="39.1" height="28.19" fill="#f9a82a"/>
<rect x="1703.7" y="2221.8" width="39.1" height="28.19" fill="#e9462b"/>
<rect x="1742.2" y="2221.8" width="39.1" height="28.19" fill="#e8432a"/>
<rect x="1780.7" y="2221.8" width="39.1" height="28.19" fill="#e8402a"/>
<rect x="1819.2" y="2221.8" width="39.1" height="28.19" fill="#e8432a"/>
<rect x="1857.7" y="2221.8" width="39.1" height="28.19" fill="#e8402a"/>
<rect x="1896.2" y="2221.8" width="39.1" height="28.19" fill="#e8432a"/>
<rect x="1934.7" y="2221.8" width="39.1" height="28.19" fill="#e8402a"/>
<rect x="1973.2" y="2221.8" width="39.1" height="28.19" fill="#fcb82a"/>
<rect x="2011.7" y="2221.8" width="39.1" height="28.19" fill="#f69b2b"/>
<rect x="2050.2" y="2221.8" width="39.1" height="28.19" fill="#ef792c"/>
<rect x="2088.7" y="2221.8" width="39.1" height="28.19" fill="#fcb42a"/>
<rect x="2127.2" y="2221.8" width="39.1" height="28.19" fill="#fcb82a"/>
<rect x="2165.7" y="2221.8" width="77.6" height="28.19" fill="#f1812c"/>
<rect x="2242.7" y="2221.8" width="39.1" height="28.19" fill="#da312a"/>
<rect x="2281.2" y="2221.8" width="39.1" height="28.19" fill="#892b26"/>
<rect x="2319.7" y="2221.8" width="39.1" height="28.19" fill="#822a25"/>
<rect x="2358.2" y="2221.8" width="39.1" height="28.19" fill="#e6342a"/>
<rect x="2396.7" y="2221.8" width="39.1" height="28.19" fill="#822a25"/>
<rect x="2435.2" y="2221.8" width="39.1" height="28.19" fill="#a32d28"/>
<rect x="2473.7" y="2221.8" width="77.6" height="28.19" fill="#e6342a"/>
<rect x="1588.2" y="2249.39" width="77.6" height="30.78" fill="#e8402a"/>
<rect x="1665.2" y="2249.39" width="39.1" height="30.78" fill="#f9a82a"/>
<rect x="1703.7" y="2249.39" width="39.1" height="30.78" fill="#e9462b"/>
<rect x="1742.2" y="2249.39" width="39.1" height="30.78" fill="#e8432a"/>
<rect x="1780.7" y="2249.39" width="39.1" height="30.78" fill="#e8402a"/>
<rect x="1819.2" y="2249.39" width="39.1" height="30.78" fill="#e8432a"/>
<rect x="1857.7" y="2249.39" width="39.1" height="30.78" fill="#e8402a"/>
<rect x="1896.2" y="2249.39" width="39.1" height="30.78" fill="#e8432a"/>
<rect x="1934.7" y="2249.39" width="39.1" height="30.78" fill="#e8402a"/>
<rect x="1973.2" y="2249.39" width="39.1" height="30.78" fill="#fcb82a"/>
<rect x="2011.7" y="2249.39" width="39.1" height="30.78" fill="#f69b2b"/>
<rect x="2050.2" y="2249.39" width="39.1" height="30.78" fill="#ef792c"/>
<rect x="2088.7" y="2249.39" width="39.1" height="30.78" fill="#fbb02a"/>
<rect x="2127.2" y="2249.39" width="39.1" height="30.78" fill="#f9a82a"/>
<rect x="2165.7" y="2249.39" width="77.6" height="30.78" fill="#ee702c"/>
<rect x="2242.7" y="2249.39" width="39.1" height="30.78" fill="#d7312a"/>
<rect x="2281.2" y="2249.39" width="39.1" height="30.78" fill="#892b26"/>
<rect x="2319.7" y="2249.39" width="39.1" height="30.78" fill="#822a25"/>
<rect x="2358.2" y="2249.39" width="39.1" height="30.78" fill="#e6342a"/>
<rect x="2396.7" y="2249.39" width="77.6" height="30.78" fill="#7a2a24"/>
<rect x="2473.7" y="2249.39" width="77.6" height="30.78" fill="#a82d28"/>
<rect x="1588.2" y="2279.57" width="77.6" height="33.48" fill="#e8402a"/>
<rect x="1665.2" y="2279.57" width="39.1" height="33.48" fill="#f9a82a"/>
<rect x="1703.7" y="2279.57" width="39.1" height="33.48" fill="#e9462b"/>
<rect x="1742.2" y="2279.57" width="39.1" height="33.48" fill="#e8432a"/>
<rect x="1780.7" y="2279.57" width="39.1" height="33.48" fill="#e8402a"/>
<rect x="1819.2" y="2279.57" width="39.1" height="33.48" fill="#e8432a"/>
<rect x="1857.7" y="2279.57" width="39.1" height="33.48" fill="#e8402a"/>
<rect x="1896.2" y="2279.57" width="39.1" height="33.48" fill="#e8432a"/>
<rect x="1934.7" y="2279.57" width="39.1" height="33.48" fill="#e8402a"/>
<rect x="1973.2" y="2279.57" width="39.1" height="33.48" fill="#fcb82a"/>
<rect x="2011.7" y="2279.57" width="39.1" height="33.48" fill="#f9a82a"/>
<rect x="2050.2" y="2279.57" width="39.1" height="33.48" fill="#ef792c"/>
<rect x="2088.7" y="2279.57" width="39.1" height="33.48" fill="#fbb02a"/>
<rect x="2127.2" y="2279.57" width="39.1" height="33.48" fill="#f9a82a"/>
<rect x="2165.7" y="2279.57" width="77.6" height="33.48" fill="#ee702c"/>
<rect x="2242.7" y="2279.57" width="39.1" height="33.48" fill="#d4302a"/>
<rect x="2281.2" y="2279.57" width="39.1" height="33.48" fill="#892b26"/>
<rect x="2319.7" y="2279.57" width="39.1" height="33.48" fill="#8d2b26"/>
<rect x="2358.2" y="2279.57" width="39.1" height="33.48" fill="#e7392a"/>
<rect x="2396.7" y="2279.57" width="39.1" height="33.48" fill="#822a25"/>
<rect x="2435.2" y="2279.57" width="39.1" height="33.48" fill="#7a2a24"/>
<rect x="2473.7" y="2279.57" width="77.6" height="33.48" fill="#902c27"/>
<rect x="1588.2" y="2312.44" width="77.6" height="38.32" fill="#e8402a"/>
<rect x="1665.2" y="2312.44" width="39.1" height="38.32" fill="#f9a82a"/>
<rect x="1703.7" y="2312.44" width="39.1" height="38.32" fill="#e9462b"/>
<rect x="1742.2" y="2312.44" width="39.1" height="38.32" fill="#e8432a"/>
<rect x="1780.7" y="2312.44" width="39.1" height="38.32" fill="#e8402a"/>
<rect x="1819.2" y="2312.44" width="39.1" height="38.32" fill="#e8432a"/>
<rect x="1857.7" y="2312.44" width="39.1" height="38.32" fill="#e8402a"/>
<rect x="1896.2" y="2312.44" width="39.1" height="38.32" fill="#e8432a"/>
<rect x="1934.7" y="2312.44" width="39.1" height="38.32" fill="#e8402a"/>
<rect x="1973.2" y="2312.44" width="39.1" height="38.32" fill="#fcb82a"/>
<rect x="2011.7" y="2312.44" width="39.1" height="38.32" fill="#f9a82a"/>
<rect x="2050.2" y="2312.44" width="39.1" height="38.32" fill="#f28a2c"/>
<rect x="2088.7" y="2312.44" width="77.6" height="38.32" fill="#f7a02a"/>
<rect x="2165.7" y="2312.44" width="77.6" height="38.32" fill="#ee702c"/>
<rect x="2242.7" y="2312.44" width="39.1" height="38.32" fill="#d7312a"/>
<rect x="2281.2" y="2312.44" width="77.6" height="38.32" fill="#982c28"/>
<rect x="2358.2" y="2312.44" width="39.1" height="38.32" fill="#e8432a"/>
<rect x="2396.7" y="2312.44" width="39.1" height="38.32" fill="#8d2b26"/>
<rect x="2435.2" y="2312.44" width="39.1" height="38.32" fill="#7a2a24"/>
<rect x="2473.7" y="2312.44" width="77.6" height="38.32" fill="#902c27"/>
<rect x="1588.2" y="2350.17" width="39.1" height="44.23" fill="#e7392a"/>
<rect x="1626.7" y="2350.17" width="39.1" height="44.23" fill="#e8402a"/>
<rect x="1665.2" y="2350.17" width="39.1" height="44.23" fill="#f9a82a"/>
<rect x="1703.7" y="2350.17" width="39.1" height="44.23" fill="#e9462b"/>
<rect x="1742.2" y="2350.17" width="39.1" height="44.23" fill="#e8432a"/>
<rect x="1780.7" y="2350.17" width="39.1" height="44.23" fill="#e8402a"/>
<rect x="1819.2" y="2350.17" width="39.1" height="44.23" fill="#e8432a"/>
<rect x="1857.7" y="2350.17" width="39.1" height="44.23" fill="#e8402a"/>
<rect x="1896.2" y="2350.17" width="39.1" height="44.23" fill="#e8432a"/>
<rect x="1934.7" y="2350.17" width="39.1" height="44.23" fill="#e8402a"/>
<rect x="1973.2" y="2350.17" width="39.1" height="44.23" fill="#fcc42a"/>
<rect x="2011.7" y="2350.17" width="39.1" height="44.23" fill="#f9a82a"/>
<rect x="2050.2" y="2350.17" width="39.1" height="44.23" fill="#f28a2c"/>
<rect x="2088.7" y="2350.17" width="39.1" height="44.23" fill="#f69b2b"/>
<rect x="2127.2" y="2350.17" width="39.1" height="44.23" fill="#f7a02a"/>
<rect x="2165.7" y="2350.17" width="77.6" height="44.23" fill="#ee702c"/>
<rect x="2242.7" y="2350.17" width="39.1" height="44.23" fill="#e3332a"/>
<rect x="2281.2" y="2350.17" width="77.6" height="44.23" fill="#c62f29"/>
<rect x="2358.2" y="2350.17" width="39.1" height="44.23" fill="#ec602c"/>
<rect x="2396.7" y="2350.17" width="39.1" height="44.23" fill="#b82e28"/>
<rect x="2435.2" y="2350.17" width="116.1" height="44.23" fill="#902c27"/>
<rect x="1588.2" y="2393.8" width="39.1" height="52.45" fill="#e7392a"/>
<rect x="1626.7" y="2393.8" width="39.1" height="52.45" fill="#e8432a"/>
<rect x="1665.2" y="2393.8" width="39.1" height="52.45" fill="#f69b2b"/>
<rect x="1703.7" y="2393.8" width="39.1" height="52.45" fill="#e9462b"/>
<rect x="1742.2" y="2393.8" width="39.1" height="52.45" fill="#e8432a"/>
<rect x="1780.7" y="2393.8" width="39.1" height="52.45" fill="#e8402a"/>
<rect x="1819.2" y="2393.8" width="39.1" height="52.45" fill="#e94a2b"/>
<rect x="1857.7" y="2393.8" width="77.6" height="52.45" fill="#ea502c"/>
<rect x="1934.7" y="2393.8" width="39.1" height="52.45" fill="#e8402a"/>
<rect x="1973.2" y="2393.8" width="39.1" height="52.45" fill="#fcc42a"/>
<rect x="2011.7" y="2393.8" width="39.1" height="52.45" fill="#f9a82a"/>
<rect x="2050.2" y="2393.8" width="39.1" height="52.45" fill="#f28a2c"/>
<rect x="2088.7" y="2393.8" width="39.1" height="52.45" fill="#fbb02a"/>
<rect x="2127.2" y="2393.8" width="39.1" height="52.45" fill="#f8a42a"/>
<rect x="2165.7" y="2393.8" width="77.6" height="52.45" fill="#ee702c"/>
<rect x="2242.7" y="2393.8" width="39.1" height="52.45" fill="#da312a"/>
<rect x="2281.2" y="2393.8" width="39.1" height="52.45" fill="#cf302a"/>
<rect x="2319.7" y="2393.8" width="39.1" height="52.45" fill="#d4302a"/>
<rect x="2358.2" y="2393.8" width="39.1" height="52.45" fill="#f38e2c"/>
<rect x="2396.7" y="2393.8" width="39.1" height="52.45" fill="#d7312a"/>
<rect x="2435.2" y="2393.8" width="39.1" height="52.45" fill="#a32d28"/>
<rect x="2473.7" y="2393.8" width="77.6" height="52.45" fill="#9d2c28"/>
<rect x="1588.2" y="2445.65" width="39.1" height="64.33" fill="#e7392a"/>
<rect x="1626.7" y="2445.65" width="39.1" height="64.33" fill="#e8432a"/>
<rect x="1665.2" y="2445.65" width="39.1" height="64.33" fill="#f69b2b"/>
<rect x="1703.7" y="2445.65" width="39.1" height="64.33" fill="#e9462b"/>
<rect x="1742.2" y="2445.65" width="39.1" height="64.33" fill="#e8432a"/>
<rect x="1780.7" y="2445.65" width="39.1" height="64.33" fill="#e8402a"/>
<rect x="1819.2" y="2445.65" width="39.1" height="64.33" fill="#e94a2b"/>
<rect x="1857.7" y="2445.65" width="116.1" height="64.33" fill="#ea502c"/>
<rect x="1973.2" y="2445.65" width="39.1" height="64.33" fill="#fcc42a"/>
<rect x="2011.7" y="2445.65" width="39.1" height="64.33" fill="#fcb82a"/>
<rect x="2050.2" y="2445.65" width="39.1" height="64.33" fill="#f28a2c"/>
<rect x="2088.7" y="2445.65" width="39.1" height="64.33" fill="#fbb02a"/>
<rect x="2127.2" y="2445.65" width="39.1" height="64.33" fill="#f7a02a"/>
<rect x="2165.7" y="2445.65" width="77.6" height="64.33" fill="#ee702c"/>
<rect x="2242.7" y="2445.65" width="116.1" height="64.33" fill="#e3332a"/>
<rect x="2358.2" y="2445.65" width="39.1" height="64.33" fill="#fcb82a"/>
<rect x="2396.7" y="2445.65" width="39.1" height="64.33" fill="#e3332a"/>
<rect x="2435.2" y="2445.65" width="39.1" height="64.33" fill="#c62f29"/>
<rect x="2473.7" y="2445.65" width="77.6" height="64.33" fill="#cb2f29"/>
<rect x="1588.2" y="2509.38" width="39.1" height="34.72" fill="#e7392a"/>
<rect x="1626.7" y="2509.38" width="39.1" height="34.72" fill="#e8432a"/>
<rect x="1665.2" y="2509.38" width="39.1" height="34.72" fill="#f69b2b"/>
<rect x="1703.7" y="2509.38" width="39.1" height="34.72" fill="#e9462b"/>
<rect x="1742.2" y="2509.38" width="39.1" height="34.72" fill="#e8432a"/>
<rect x="1780.7" y="2509.38" width="39.1" height="34.72" fill="#e8402a"/>
<rect x="1819.2" y="2509.38" width="39.1" height="34.72" fill="#e94a2b"/>
<rect x="1857.7" y="2509.38" width="116.1" height="34.72" fill="#ec602c"/>
<rect x="1973.2" y="2509.38" width="39.1" height="34.72" fill="#fade2a"/>
<rect x="2011.7" y="2509.38" width="39.1" height="34.72" fill="#fcb82a"/>
<rect x="2050.2" y="2509.38" width="39.1" height="34.72" fill="#f69b2b"/>
<rect x="2088.7" y="2509.38" width="77.6" height="34.72" fill="#fbb02a"/>
<rect x="2165.7" y="2509.38" width="77.6" height="34.72" fill="#f1812c"/>
<rect x="2242.7" y="2509.38" width="39.1" height="34.72" fill="#e83e2a"/>
<rect x="2281.2" y="2509.38" width="77.6" height="34.72" fill="#e3332a"/>
<rect x="2358.2" y="2509.38" width="39.1" height="34.72" fill="#fade2a"/>
<rect x="2396.7" y="2509.38" width="39.1" height="34.72" fill="#e83e2a"/>
<rect x="2435.2" y="2509.38" width="77.6" height="34.72" fill="#e3332a"/>
<rect x="2512.2" y="2509.38" width="39.1" height="34.72" fill="#d7312a"/>
</g>
<path d="M1626.7 1980.5V2543.5M1665.2 1980.5V2543.5M1703.7 1980.5V2543.5M1742.2 1980.5V2543.5M1780.7 1980.5V2543.5M1819.2 1980.5V2543.5M1857.7 1980.5V2543.5M1896.2 1980.5V2543.5M1934.7 1980.5V2543.5M1973.2 1980.5V2543.5M2011.7 1980.5V2543.5M2050.2 1980.5V2543.5M2088.7 1980.5V2543.5M2127.2 1980.5V2543.5M2165.7 1980.5V2543.5M2204.2 1980.5V2543.5M2242.7 1980.5V2543.5M2281.2 1980.5V2543.5M2319.7 1980.5V2543.5M2358.2 1980.5V2543.5M2396.7 1980.5V2543.5M2435.2 1980.5V2543.5M2473.7 1980.5V2543.5M2512.2 1980.5V2543.5M1588.2 2003.36H2550.7M1588.2 2027.29H2550.7M1588.2 2050.54H2550.7M1588.2 2073.96H2550.7M1588.2 2097.21H2550.7M1588.2 2120.63H2550.7M1588.2 2145.4H2550.7M1588.2 2170.06H2550.7M1588.2 2195.12H2550.7M1588.2 2221.8H2550.7M1588.2 2249.39H2550.7M1588.2 2279.57H2550.7M1588.2 2312.44H2550.7M1588.2 2350.17H2550.7M1588.2 2393.8H2550.7M1588.2 2445.65H2550.7M1588.2 2509.38H2550.7" stroke="#ffffff" stroke-opacity="0.075" stroke-width="1" fill="none"/>
</g>
<rect x="1588.2" y="1980.5" width="962.5" height="563" fill="none" stroke="#161314" stroke-width="4.2"/>
<text x="1565" y="2099.53" font-size="36.5" text-anchor="end" fill="#2c2623">50</text>
<text x="1565" y="2214.43" font-size="36.5" text-anchor="end" fill="#2c2623">100</text>
<text x="1565" y="2329.33" font-size="36.5" text-anchor="end" fill="#2c2623">150</text>
<text x="1565" y="2444.23" font-size="36.5" text-anchor="end" fill="#2c2623">200</text>
<text x="1565" y="2559.13" font-size="36.5" text-anchor="end" fill="#2c2623">250</text>
<text x="1584" y="2599" font-size="36.5" text-anchor="middle" fill="#2c2623">0</text>
<text x="1721.3" y="2599" font-size="36.5" text-anchor="middle" fill="#2c2623">50</text>
<text x="1858.6" y="2599" font-size="36.5" text-anchor="middle" fill="#2c2623">100</text>
<text x="1995.9" y="2599" font-size="36.5" text-anchor="middle" fill="#2c2623">150</text>
<text x="2133.2" y="2599" font-size="36.5" text-anchor="middle" fill="#2c2623">200</text>
<text x="2270.5" y="2599" font-size="36.5" text-anchor="middle" fill="#2c2623">250</text>
<text x="2407.8" y="2599" font-size="36.5" text-anchor="middle" fill="#2c2623">300</text>
<text x="2545.1" y="2599" font-size="36.5" text-anchor="middle" fill="#2c2623">350</text>
<text x="1969" y="2657.9" font-size="42.5" fill="#2c2623" textLength="217.4" lengthAdjust="spacingAndGlyphs">Day number</text>
<text x="1446" y="2391" font-size="43" fill="#2c2623" textLength="223" lengthAdjust="spacingAndGlyphs" transform="rotate(-90 1446 2391)">Depth (in m)</text>
<rect x="2507.3" y="2044.2" width="205.7" height="445" fill="#ffffff" stroke="#0f0d0d" stroke-width="3.8" rx="46"/>
<g shape-rendering="crispEdges">
<rect x="2540.5" y="2461.02" width="57.3" height="6.88" fill="#412b70"/>
<rect x="2540.5" y="2454.74" width="57.3" height="6.88" fill="#422e75"/>
<rect x="2540.5" y="2448.46" width="57.3" height="6.88" fill="#433179"/>
<rect x="2540.5" y="2442.18" width="57.3" height="6.88" fill="#45337d"/>
<rect x="2540.5" y="2435.89" width="57.3" height="6.88" fill="#463782"/>
<rect x="2540.5" y="2429.61" width="57.3" height="6.88" fill="#473d87"/>
<rect x="2540.5" y="2423.33" width="57.3" height="6.88" fill="#49428b"/>
<rect x="2540.5" y="2417.05" width="57.3" height="6.88" fill="#4a4790"/>
<rect x="2540.5" y="2410.77" width="57.3" height="6.88" fill="#4d4c93"/>
<rect x="2540.5" y="2404.49" width="57.3" height="6.88" fill="#504f96"/>
<rect x="2540.5" y="2398.21" width="57.3" height="6.88" fill="#525399"/>
<rect x="2540.5" y="2391.93" width="57.3" height="6.88" fill="#54579c"/>
<rect x="2540.5" y="2385.64" width="57.3" height="6.88" fill="#565b9f"/>
<rect x="2540.5" y="2379.36" width="57.3" height="6.88" fill="#5861a3"/>
<rect x="2540.5" y="2373.08" width="57.3" height="6.88" fill="#5b68a8"/>
<rect x="2540.5" y="2366.8" width="57.3" height="6.88" fill="#5c6fad"/>
<rect x="2540.5" y="2360.52" width="57.3" height="6.88" fill="#5f79b4"/>
<rect x="2540.5" y="2354.24" width="57.3" height="6.88" fill="#6486bd"/>
<rect x="2540.5" y="2347.96" width="57.3" height="6.88" fill="#6794c7"/>
<rect x="2540.5" y="2341.68" width="57.3" height="6.88" fill="#68a4d3"/>
<rect x="2540.5" y="2335.39" width="57.3" height="6.88" fill="#68b2de"/>
<rect x="2540.5" y="2329.11" width="57.3" height="6.88" fill="#66bde6"/>
<rect x="2540.5" y="2322.83" width="57.3" height="6.88" fill="#71c1de"/>
<rect x="2540.5" y="2316.55" width="57.3" height="6.88" fill="#7bc4d6"/>
<rect x="2540.5" y="2310.27" width="57.3" height="6.88" fill="#81c6cd"/>
<rect x="2540.5" y="2303.99" width="57.3" height="6.88" fill="#84c6c1"/>
<rect x="2540.5" y="2297.71" width="57.3" height="6.88" fill="#84c4b1"/>
<rect x="2540.5" y="2291.43" width="57.3" height="6.88" fill="#86c5a3"/>
<rect x="2540.5" y="2285.14" width="57.3" height="6.88" fill="#89c595"/>
<rect x="2540.5" y="2278.86" width="57.3" height="6.88" fill="#8fc684"/>
<rect x="2540.5" y="2272.58" width="57.3" height="6.88" fill="#97c872"/>
<rect x="2540.5" y="2266.3" width="57.3" height="6.88" fill="#9fc961"/>
<rect x="2540.5" y="2260.02" width="57.3" height="6.88" fill="#a8cb52"/>
<rect x="2540.5" y="2253.74" width="57.3" height="6.88" fill="#b0cf46"/>
<rect x="2540.5" y="2247.46" width="57.3" height="6.88" fill="#b9d23e"/>
<rect x="2540.5" y="2241.18" width="57.3" height="6.88" fill="#c2d539"/>
<rect x="2540.5" y="2234.89" width="57.3" height="6.88" fill="#ccd834"/>
<rect x="2540.5" y="2228.61" width="57.3" height="6.88" fill="#d6dc31"/>
<rect x="2540.5" y="2222.33" width="57.3" height="6.88" fill="#e1e12d"/>
<rect x="2540.5" y="2216.05" width="57.3" height="6.88" fill="#ebe42c"/>
<rect x="2540.5" y="2209.77" width="57.3" height="6.88" fill="#f6e72c"/>
<rect x="2540.5" y="2203.49" width="57.3" height="6.88" fill="#fbdc29"/>
<rect x="2540.5" y="2197.21" width="57.3" height="6.88" fill="#fcc02a"/>
<rect x="2540.5" y="2190.93" width="57.3" height="6.88" fill="#fbb02a"/>
<rect x="2540.5" y="2184.64" width="57.3" height="6.88" fill="#f8a42a"/>
<rect x="2540.5" y="2178.36" width="57.3" height="6.88" fill="#f5992b"/>
<rect x="2540.5" y="2172.08" width="57.3" height="6.88" fill="#f38e2c"/>
<rect x="2540.5" y="2165.8" width="57.3" height="6.88" fill="#f1822c"/>
<rect x="2540.5" y="2159.52" width="57.3" height="6.88" fill="#ef752c"/>
<rect x="2540.5" y="2153.24" width="57.3" height="6.88" fill="#ed682c"/>
<rect x="2540.5" y="2146.96" width="57.3" height="6.88" fill="#eb5c2c"/>
<rect x="2540.5" y="2140.68" width="57.3" height="6.88" fill="#ea522c"/>
<rect x="2540.5" y="2134.39" width="57.3" height="6.88" fill="#e9482b"/>
<rect x="2540.5" y="2128.11" width="57.3" height="6.88" fill="#e83d2a"/>
<rect x="2540.5" y="2121.83" width="57.3" height="6.88" fill="#e73a2a"/>
<rect x="2540.5" y="2115.55" width="57.3" height="6.88" fill="#e7372a"/>
<rect x="2540.5" y="2109.27" width="57.3" height="6.88" fill="#e6352a"/>
<rect x="2540.5" y="2102.99" width="57.3" height="6.88" fill="#de322a"/>
<rect x="2540.5" y="2096.71" width="57.3" height="6.88" fill="#c92f29"/>
<rect x="2540.5" y="2090.43" width="57.3" height="6.88" fill="#b92e28"/>
<rect x="2540.5" y="2084.14" width="57.3" height="6.88" fill="#a62d28"/>
<rect x="2540.5" y="2077.86" width="57.3" height="6.88" fill="#952c28"/>
<rect x="2540.5" y="2071.58" width="57.3" height="6.88" fill="#892b26"/>
<rect x="2540.5" y="2065.3" width="57.3" height="6.88" fill="#7f2a25"/>
</g>
<rect x="2540.5" y="2065.3" width="57.3" height="402" fill="none" stroke="#332c29" stroke-width="2.8"/>
<line x1="2591.3" y1="2455" x2="2597.8" y2="2455" stroke="#1d1a18" stroke-width="2.8"/>
<text x="2608.8" y="2465.27" font-size="23.8" fill="#2c2623">34.8</text>
<line x1="2591.3" y1="2357" x2="2597.8" y2="2357" stroke="#1d1a18" stroke-width="2.8"/>
<text x="2608.8" y="2367.27" font-size="23.8" fill="#2c2623">34.85</text>
<line x1="2591.3" y1="2259" x2="2597.8" y2="2259" stroke="#1d1a18" stroke-width="2.8"/>
<text x="2608.8" y="2269.27" font-size="23.8" fill="#2c2623">34.9</text>
<line x1="2591.3" y1="2161" x2="2597.8" y2="2161" stroke="#1d1a18" stroke-width="2.8"/>
<text x="2608.8" y="2171.27" font-size="23.8" fill="#2c2623">34.95</text>
<text x="2695.3" y="2320.9" font-size="36.5" fill="#2c2623" textLength="108.9" lengthAdjust="spacingAndGlyphs" transform="rotate(-90 2695.3 2320.9)">Salinity</text>
<clipPath id="hc5"><rect x="2954.4" y="1207.3" width="804.8" height="566.2"/></clipPath>
<g clip-path="url(#hc5)">
<g shape-rendering="crispEdges">
<rect x="2954.4" y="1210.8" width="32.79" height="23.45" fill="#84c6c4"/>
<rect x="2986.59" y="1210.8" width="32.79" height="23.45" fill="#7dc5d4"/>
<rect x="3018.78" y="1210.8" width="32.79" height="23.45" fill="#74c2dc"/>
<rect x="3050.98" y="1210.8" width="97.18" height="23.45" fill="#6abee4"/>
<rect x="3147.55" y="1210.8" width="32.79" height="23.45" fill="#70c1de"/>
<rect x="3179.74" y="1210.8" width="64.98" height="23.45" fill="#66bde6"/>
<rect x="3244.13" y="1210.8" width="32.79" height="23.45" fill="#80c6d2"/>
<rect x="3276.32" y="1210.8" width="32.79" height="23.45" fill="#84c5b9"/>
<rect x="3308.51" y="1210.8" width="32.79" height="23.45" fill="#89c594"/>
<rect x="3340.7" y="1210.8" width="32.79" height="23.45" fill="#ccd834"/>
<rect x="3372.9" y="1210.8" width="32.79" height="23.45" fill="#fcc42a"/>
<rect x="3405.09" y="1210.8" width="32.79" height="23.45" fill="#ea502c"/>
<rect x="3437.28" y="1210.8" width="32.79" height="23.45" fill="#d7312a"/>
<rect x="3469.47" y="1210.8" width="64.98" height="23.45" fill="#c12f29"/>
<rect x="3533.86" y="1210.8" width="32.79" height="23.45" fill="#e6342a"/>
<rect x="3566.05" y="1210.8" width="32.79" height="23.45" fill="#e7392a"/>
<rect x="3598.24" y="1210.8" width="32.79" height="23.45" fill="#f69b2b"/>
<rect x="3630.43" y="1210.8" width="32.79" height="23.45" fill="#f8e82c"/>
<rect x="3662.62" y="1210.8" width="32.79" height="23.45" fill="#bdd33c"/>
<rect x="3694.82" y="1210.8" width="32.79" height="23.45" fill="#9fc963"/>
<rect x="3727.01" y="1210.8" width="32.79" height="23.45" fill="#8cc68a"/>
<rect x="2954.4" y="1233.65" width="32.79" height="24.51" fill="#84c6c4"/>
<rect x="2986.59" y="1233.65" width="32.79" height="24.51" fill="#7dc5d4"/>
<rect x="3018.78" y="1233.65" width="32.79" height="24.51" fill="#74c2dc"/>
<rect x="3050.98" y="1233.65" width="32.79" height="24.51" fill="#6abee4"/>
<rect x="3083.17" y="1233.65" width="32.79" height="24.51" fill="#68b2de"/>
<rect x="3115.36" y="1233.65" width="32.79" height="24.51" fill="#68b0dd"/>
<rect x="3147.55" y="1233.65" width="97.18" height="24.51" fill="#66bde6"/>
<rect x="3244.13" y="1233.65" width="32.79" height="24.51" fill="#80c6d2"/>
<rect x="3276.32" y="1233.65" width="32.79" height="24.51" fill="#84c5b9"/>
<rect x="3308.51" y="1233.65" width="32.79" height="24.51" fill="#89c594"/>
<rect x="3340.7" y="1233.65" width="32.79" height="24.51" fill="#c0d43a"/>
<rect x="3372.9" y="1233.65" width="32.79" height="24.51" fill="#f8e82c"/>
<rect x="3405.09" y="1233.65" width="32.79" height="24.51" fill="#f8a42a"/>
<rect x="3437.28" y="1233.65" width="32.79" height="24.51" fill="#ec602c"/>
<rect x="3469.47" y="1233.65" width="32.79" height="24.51" fill="#e8402a"/>
<rect x="3501.66" y="1233.65" width="64.98" height="24.51" fill="#e6342a"/>
<rect x="3566.05" y="1233.65" width="32.79" height="24.51" fill="#e7392a"/>
<rect x="3598.24" y="1233.65" width="32.79" height="24.51" fill="#f69b2b"/>
<rect x="3630.43" y="1233.65" width="32.79" height="24.51" fill="#f8e82c"/>
<rect x="3662.62" y="1233.65" width="32.79" height="24.51" fill="#bdd33c"/>
<rect x="3694.82" y="1233.65" width="32.79" height="24.51" fill="#9fc963"/>
<rect x="3727.01" y="1233.65" width="32.79" height="24.51" fill="#8cc68a"/>
<rect x="2954.4" y="1257.56" width="32.79" height="23.84" fill="#84c6c4"/>
<rect x="2986.59" y="1257.56" width="32.79" height="23.84" fill="#7dc5d4"/>
<rect x="3018.78" y="1257.56" width="32.79" height="23.84" fill="#74c2dc"/>
<rect x="3050.98" y="1257.56" width="32.79" height="23.84" fill="#6abee4"/>
<rect x="3083.17" y="1257.56" width="32.79" height="23.84" fill="#68b2de"/>
<rect x="3115.36" y="1257.56" width="32.79" height="23.84" fill="#68b0dd"/>
<rect x="3147.55" y="1257.56" width="97.18" height="23.84" fill="#66bde6"/>
<rect x="3244.13" y="1257.56" width="32.79" height="23.84" fill="#80c6d2"/>
<rect x="3276.32" y="1257.56" width="32.79" height="23.84" fill="#84c5b9"/>
<rect x="3308.51" y="1257.56" width="32.79" height="23.84" fill="#89c594"/>
<rect x="3340.7" y="1257.56" width="32.79" height="23.84" fill="#99c86d"/>
<rect x="3372.9" y="1257.56" width="32.79" height="23.84" fill="#bdd33c"/>
<rect x="3405.09" y="1257.56" width="32.79" height="23.84" fill="#f5e72c"/>
<rect x="3437.28" y="1257.56" width="32.79" height="23.84" fill="#fcb82a"/>
<rect x="3469.47" y="1257.56" width="32.79" height="23.84" fill="#ef792c"/>
<rect x="3501.66" y="1257.56" width="32.79" height="23.84" fill="#e8432a"/>
<rect x="3533.86" y="1257.56" width="32.79" height="23.84" fill="#e83e2a"/>
<rect x="3566.05" y="1257.56" width="32.79" height="23.84" fill="#e73b2a"/>
<rect x="3598.24" y="1257.56" width="32.79" height="23.84" fill="#f69b2b"/>
<rect x="3630.43" y="1257.56" width="32.79" height="23.84" fill="#f8e82c"/>
<rect x="3662.62" y="1257.56" width="32.79" height="23.84" fill="#bdd33c"/>
<rect x="3694.82" y="1257.56" width="32.79" height="23.84" fill="#9fc963"/>
<rect x="3727.01" y="1257.56" width="32.79" height="23.84" fill="#8cc68a"/>
<rect x="2954.4" y="1280.8" width="32.79" height="24.01" fill="#84c6c4"/>
<rect x="2986.59" y="1280.8" width="32.79" height="24.01" fill="#7dc5d4"/>
<rect x="3018.78" y="1280.8" width="32.79" height="24.01" fill="#74c2dc"/>
<rect x="3050.98" y="1280.8" width="32.79" height="24.01" fill="#6abee4"/>
<rect x="3083.17" y="1280.8" width="32.79" height="24.01" fill="#68b2de"/>
<rect x="3115.36" y="1280.8" width="32.79" height="24.01" fill="#68b0dd"/>
<rect x="3147.55" y="1280.8" width="97.18" height="24.01" fill="#66bde6"/>
<rect x="3244.13" y="1280.8" width="32.79" height="24.01" fill="#80c6d2"/>
<rect x="3276.32" y="1280.8" width="32.79" height="24.01" fill="#82c6cb"/>
<rect x="3308.51" y="1280.8" width="32.79" height="24.01" fill="#89c594"/>
<rect x="3340.7" y="1280.8" width="32.79" height="24.01" fill="#8cc68a"/>
<rect x="3372.9" y="1280.8" width="32.79" height="24.01" fill="#94c778"/>
<rect x="3405.09" y="1280.8" width="32.79" height="24.01" fill="#b4d040"/>
<rect x="3437.28" y="1280.8" width="32.79" height="24.01" fill="#dade2f"/>
<rect x="3469.47" y="1280.8" width="32.79" height="24.01" fill="#e7e32c"/>
<rect x="3501.66" y="1280.8" width="32.79" height="24.01" fill="#f5e72c"/>
<rect x="3533.86" y="1280.8" width="32.79" height="24.01" fill="#fcc42a"/>
<rect x="3566.05" y="1280.8" width="32.79" height="24.01" fill="#f28a2c"/>
<rect x="3598.24" y="1280.8" width="32.79" height="24.01" fill="#f69b2b"/>
<rect x="3630.43" y="1280.8" width="32.79" height="24.01" fill="#f8e82c"/>
<rect x="3662.62" y="1280.8" width="32.79" height="24.01" fill="#bdd33c"/>
<rect x="3694.82" y="1280.8" width="32.79" height="24.01" fill="#9fc963"/>
<rect x="3727.01" y="1280.8" width="32.79" height="24.01" fill="#8cc68a"/>
<rect x="2954.4" y="1304.21" width="32.79" height="23.84" fill="#84c6c4"/>
<rect x="2986.59" y="1304.21" width="32.79" height="23.84" fill="#7dc5d4"/>
<rect x="3018.78" y="1304.21" width="32.79" height="23.84" fill="#74c2dc"/>
<rect x="3050.98" y="1304.21" width="32.79" height="23.84" fill="#6abee4"/>
<rect x="3083.17" y="1304.21" width="32.79" height="23.84" fill="#68b2de"/>
<rect x="3115.36" y="1304.21" width="32.79" height="23.84" fill="#68b0dd"/>
<rect x="3147.55" y="1304.21" width="97.18" height="23.84" fill="#66bde6"/>
<rect x="3244.13" y="1304.21" width="64.98" height="23.84" fill="#80c6d2"/>
<rect x="3308.51" y="1304.21" width="32.79" height="23.84" fill="#84c6c4"/>
<rect x="3340.7" y="1304.21" width="32.79" height="23.84" fill="#88c599"/>
<rect x="3372.9" y="1304.21" width="32.79" height="23.84" fill="#8cc68a"/>
<rect x="3405.09" y="1304.21" width="32.79" height="23.84" fill="#92c67e"/>
<rect x="3437.28" y="1304.21" width="32.79" height="23.84" fill="#99c86d"/>
<rect x="3469.47" y="1304.21" width="32.79" height="23.84" fill="#a4ca58"/>
<rect x="3501.66" y="1304.21" width="32.79" height="23.84" fill="#a9cc50"/>
<rect x="3533.86" y="1304.21" width="32.79" height="23.84" fill="#c0d43a"/>
<rect x="3566.05" y="1304.21" width="32.79" height="23.84" fill="#f5e72c"/>
<rect x="3598.24" y="1304.21" width="32.79" height="23.84" fill="#f8a42a"/>
<rect x="3630.43" y="1304.21" width="32.79" height="23.84" fill="#f8e82c"/>
<rect x="3662.62" y="1304.21" width="32.79" height="23.84" fill="#bdd33c"/>
<rect x="3694.82" y="1304.21" width="32.79" height="23.84" fill="#9fc963"/>
<rect x="3727.01" y="1304.21" width="32.79" height="23.84" fill="#8cc68a"/>
<rect x="2954.4" y="1327.45" width="32.79" height="24.01" fill="#84c6c4"/>
<rect x="2986.59" y="1327.45" width="32.79" height="24.01" fill="#7dc5d4"/>
<rect x="3018.78" y="1327.45" width="32.79" height="24.01" fill="#74c2dc"/>
<rect x="3050.98" y="1327.45" width="32.79" height="24.01" fill="#6abee4"/>
<rect x="3083.17" y="1327.45" width="32.79" height="24.01" fill="#68b2de"/>
<rect x="3115.36" y="1327.45" width="64.98" height="24.01" fill="#68b0dd"/>
<rect x="3179.74" y="1327.45" width="64.98" height="24.01" fill="#66bde6"/>
<rect x="3244.13" y="1327.45" width="64.98" height="24.01" fill="#80c6d2"/>
<rect x="3308.51" y="1327.45" width="32.79" height="24.01" fill="#82c6cb"/>
<rect x="3340.7" y="1327.45" width="32.79" height="24.01" fill="#84c4b4"/>
<rect x="3372.9" y="1327.45" width="32.79" height="24.01" fill="#86c5a6"/>
<rect x="3405.09" y="1327.45" width="32.79" height="24.01" fill="#88c599"/>
<rect x="3437.28" y="1327.45" width="32.79" height="24.01" fill="#89c594"/>
<rect x="3469.47" y="1327.45" width="32.79" height="24.01" fill="#8cc68a"/>
<rect x="3501.66" y="1327.45" width="32.79" height="24.01" fill="#92c67e"/>
<rect x="3533.86" y="1327.45" width="32.79" height="24.01" fill="#94c778"/>
<rect x="3566.05" y="1327.45" width="32.79" height="24.01" fill="#a4ca58"/>
<rect x="3598.24" y="1327.45" width="32.79" height="24.01" fill="#f8e82c"/>
<rect x="3630.43" y="1327.45" width="32.79" height="24.01" fill="#dade2f"/>
<rect x="3662.62" y="1327.45" width="32.79" height="24.01" fill="#bdd33c"/>
<rect x="3694.82" y="1327.45" width="32.79" height="24.01" fill="#9fc963"/>
<rect x="3727.01" y="1327.45" width="32.79" height="24.01" fill="#8cc68a"/>
<rect x="2954.4" y="1350.86" width="32.79" height="25.36" fill="#84c6c4"/>
<rect x="2986.59" y="1350.86" width="32.79" height="25.36" fill="#7dc5d4"/>
<rect x="3018.78" y="1350.86" width="32.79" height="25.36" fill="#74c2dc"/>
<rect x="3050.98" y="1350.86" width="32.79" height="25.36" fill="#6abee4"/>
<rect x="3083.17" y="1350.86" width="32.79" height="25.36" fill="#68b2de"/>
<rect x="3115.36" y="1350.86" width="64.98" height="25.36" fill="#68b0dd"/>
<rect x="3179.74" y="1350.86" width="97.18" height="25.36" fill="#66bde6"/>
<rect x="3276.32" y="1350.86" width="32.79" height="25.36" fill="#74c2dc"/>
<rect x="3308.51" y="1350.86" width="32.79" height="25.36" fill="#82c6cb"/>
<rect x="3340.7" y="1350.86" width="32.79" height="25.36" fill="#83c6c8"/>
<rect x="3372.9" y="1350.86" width="32.79" height="25.36" fill="#84c5b9"/>
<rect x="3405.09" y="1350.86" width="32.79" height="25.36" fill="#85c4ab"/>
<rect x="3437.28" y="1350.86" width="32.79" height="25.36" fill="#86c5a6"/>
<rect x="3469.47" y="1350.86" width="32.79" height="25.36" fill="#87c59e"/>
<rect x="3501.66" y="1350.86" width="32.79" height="25.36" fill="#89c594"/>
<rect x="3533.86" y="1350.86" width="32.79" height="25.36" fill="#8ac590"/>
<rect x="3566.05" y="1350.86" width="32.79" height="25.36" fill="#94c778"/>
<rect x="3598.24" y="1350.86" width="32.79" height="25.36" fill="#c9d736"/>
<rect x="3630.43" y="1350.86" width="32.79" height="25.36" fill="#c0d43a"/>
<rect x="3662.62" y="1350.86" width="32.79" height="25.36" fill="#b1cf44"/>
<rect x="3694.82" y="1350.86" width="32.79" height="25.36" fill="#9fc963"/>
<rect x="3727.01" y="1350.86" width="32.79" height="25.36" fill="#8cc68a"/>
<rect x="2954.4" y="1375.61" width="32.79" height="25.25" fill="#84c6c4"/>
<rect x="2986.59" y="1375.61" width="32.79" height="25.25" fill="#7dc5d4"/>
<rect x="3018.78" y="1375.61" width="32.79" height="25.25" fill="#74c2dc"/>
<rect x="3050.98" y="1375.61" width="32.79" height="25.25" fill="#6abee4"/>
<rect x="3083.17" y="1375.61" width="32.79" height="25.25" fill="#68b2de"/>
<rect x="3115.36" y="1375.61" width="64.98" height="25.25" fill="#68b0dd"/>
<rect x="3179.74" y="1375.61" width="97.18" height="25.25" fill="#66bde6"/>
<rect x="3276.32" y="1375.61" width="32.79" height="25.25" fill="#74c2dc"/>
<rect x="3308.51" y="1375.61" width="32.79" height="25.25" fill="#7dc5d4"/>
<rect x="3340.7" y="1375.61" width="32.79" height="25.25" fill="#80c6d2"/>
<rect x="3372.9" y="1375.61" width="32.79" height="25.25" fill="#83c6c8"/>
<rect x="3405.09" y="1375.61" width="32.79" height="25.25" fill="#84c5b9"/>
<rect x="3437.28" y="1375.61" width="32.79" height="25.25" fill="#84c4b0"/>
<rect x="3469.47" y="1375.61" width="32.79" height="25.25" fill="#86c5a6"/>
<rect x="3501.66" y="1375.61" width="32.79" height="25.25" fill="#86c5a2"/>
<rect x="3533.86" y="1375.61" width="32.79" height="25.25" fill="#88c599"/>
<rect x="3566.05" y="1375.61" width="32.79" height="25.25" fill="#8cc68a"/>
<rect x="3598.24" y="1375.61" width="97.18" height="25.25" fill="#a9cc50"/>
<rect x="3694.82" y="1375.61" width="32.79" height="25.25" fill="#9cc868"/>
<rect x="3727.01" y="1375.61" width="32.79" height="25.25" fill="#8cc68a"/>
<rect x="2954.4" y="1400.26" width="32.79" height="25.64" fill="#84c6c4"/>
<rect x="2986.59" y="1400.26" width="32.79" height="25.64" fill="#7dc5d4"/>
<rect x="3018.78" y="1400.26" width="32.79" height="25.64" fill="#74c2dc"/>
<rect x="3050.98" y="1400.26" width="32.79" height="25.64" fill="#6abee4"/>
<rect x="3083.17" y="1400.26" width="32.79" height="25.64" fill="#68b2de"/>
<rect x="3115.36" y="1400.26" width="64.98" height="25.64" fill="#68b0dd"/>
<rect x="3179.74" y="1400.26" width="97.18" height="25.64" fill="#66bde6"/>
<rect x="3276.32" y="1400.26" width="32.79" height="25.64" fill="#74c2dc"/>
<rect x="3308.51" y="1400.26" width="32.79" height="25.64" fill="#7dc5d4"/>
<rect x="3340.7" y="1400.26" width="32.79" height="25.64" fill="#80c6d2"/>
<rect x="3372.9" y="1400.26" width="32.79" height="25.64" fill="#83c6c8"/>
<rect x="3405.09" y="1400.26" width="32.79" height="25.64" fill="#84c6c4"/>
<rect x="3437.28" y="1400.26" width="32.79" height="25.64" fill="#84c4b0"/>
<rect x="3469.47" y="1400.26" width="32.79" height="25.64" fill="#85c4ab"/>
<rect x="3501.66" y="1400.26" width="32.79" height="25.64" fill="#86c5a6"/>
<rect x="3533.86" y="1400.26" width="32.79" height="25.64" fill="#87c59e"/>
<rect x="3566.05" y="1400.26" width="32.79" height="25.64" fill="#8ac590"/>
<rect x="3598.24" y="1400.26" width="32.79" height="25.64" fill="#9fc963"/>
<rect x="3630.43" y="1400.26" width="32.79" height="25.64" fill="#99c86d"/>
<rect x="3662.62" y="1400.26" width="32.79" height="25.64" fill="#9fc963"/>
<rect x="3694.82" y="1400.26" width="32.79" height="25.64" fill="#99c86d"/>
<rect x="3727.01" y="1400.26" width="32.79" height="25.64" fill="#8cc68a"/>
<rect x="2954.4" y="1425.3" width="32.79" height="27.27" fill="#84c6c4"/>
<rect x="2986.59" y="1425.3" width="32.79" height="27.27" fill="#7dc5d4"/>
<rect x="3018.78" y="1425.3" width="32.79" height="27.27" fill="#74c2dc"/>
<rect x="3050.98" y="1425.3" width="32.79" height="27.27" fill="#6abee4"/>
<rect x="3083.17" y="1425.3" width="32.79" height="27.27" fill="#68b2de"/>
<rect x="3115.36" y="1425.3" width="64.98" height="27.27" fill="#68b0dd"/>
<rect x="3179.74" y="1425.3" width="97.18" height="27.27" fill="#66bde6"/>
<rect x="3276.32" y="1425.3" width="32.79" height="27.27" fill="#74c2dc"/>
<rect x="3308.51" y="1425.3" width="32.79" height="27.27" fill="#7dc5d4"/>
<rect x="3340.7" y="1425.3" width="64.98" height="27.27" fill="#80c6d2"/>
<rect x="3405.09" y="1425.3" width="64.98" height="27.27" fill="#84c6c4"/>
<rect x="3469.47" y="1425.3" width="32.79" height="27.27" fill="#84c4b0"/>
<rect x="3501.66" y="1425.3" width="32.79" height="27.27" fill="#85c4ab"/>
<rect x="3533.86" y="1425.3" width="32.79" height="27.27" fill="#86c5a2"/>
<rect x="3566.05" y="1425.3" width="32.79" height="27.27" fill="#89c594"/>
<rect x="3598.24" y="1425.3" width="64.98" height="27.27" fill="#92c67e"/>
<rect x="3662.62" y="1425.3" width="32.79" height="27.27" fill="#94c778"/>
<rect x="3694.82" y="1425.3" width="32.79" height="27.27" fill="#97c873"/>
<rect x="3727.01" y="1425.3" width="32.79" height="27.27" fill="#8cc68a"/>
<rect x="2954.4" y="1451.97" width="32.79" height="28.17" fill="#84c6c4"/>
<rect x="2986.59" y="1451.97" width="32.79" height="28.17" fill="#7dc5d4"/>
<rect x="3018.78" y="1451.97" width="32.79" height="28.17" fill="#74c2dc"/>
<rect x="3050.98" y="1451.97" width="32.79" height="28.17" fill="#6abee4"/>
<rect x="3083.17" y="1451.97" width="32.79" height="28.17" fill="#68b2de"/>
<rect x="3115.36" y="1451.97" width="64.98" height="28.17" fill="#68b0dd"/>
<rect x="3179.74" y="1451.97" width="97.18" height="28.17" fill="#66bde6"/>
<rect x="3276.32" y="1451.97" width="64.98" height="28.17" fill="#74c2dc"/>
<rect x="3340.7" y="1451.97" width="97.18" height="28.17" fill="#80c6d2"/>
<rect x="3437.28" y="1451.97" width="32.79" height="28.17" fill="#84c6c4"/>
<rect x="3469.47" y="1451.97" width="32.79" height="28.17" fill="#84c4b4"/>
<rect x="3501.66" y="1451.97" width="32.79" height="28.17" fill="#84c4b0"/>
<rect x="3533.86" y="1451.97" width="32.79" height="28.17" fill="#86c5a6"/>
<rect x="3566.05" y="1451.97" width="32.79" height="28.17" fill="#87c59e"/>
<rect x="3598.24" y="1451.97" width="32.79" height="28.17" fill="#8ac590"/>
<rect x="3630.43" y="1451.97" width="32.79" height="28.17" fill="#8cc68a"/>
<rect x="3662.62" y="1451.97" width="32.79" height="28.17" fill="#8fc684"/>
<rect x="3694.82" y="1451.97" width="32.79" height="28.17" fill="#92c67e"/>
<rect x="3727.01" y="1451.97" width="32.79" height="28.17" fill="#8ac590"/>
<rect x="2954.4" y="1479.55" width="32.79" height="30.76" fill="#84c6c4"/>
<rect x="2986.59" y="1479.55" width="32.79" height="30.76" fill="#7dc5d4"/>
<rect x="3018.78" y="1479.55" width="32.79" height="30.76" fill="#74c2dc"/>
<rect x="3050.98" y="1479.55" width="32.79" height="30.76" fill="#6abee4"/>
<rect x="3083.17" y="1479.55" width="32.79" height="30.76" fill="#68b2de"/>
<rect x="3115.36" y="1479.55" width="64.98" height="30.76" fill="#68b0dd"/>
<rect x="3179.74" y="1479.55" width="97.18" height="30.76" fill="#66bde6"/>
<rect x="3276.32" y="1479.55" width="64.98" height="30.76" fill="#74c2dc"/>
<rect x="3340.7" y="1479.55" width="97.18" height="30.76" fill="#80c6d2"/>
<rect x="3437.28" y="1479.55" width="32.79" height="30.76" fill="#81c6ce"/>
<rect x="3469.47" y="1479.55" width="32.79" height="30.76" fill="#84c5bf"/>
<rect x="3501.66" y="1479.55" width="32.79" height="30.76" fill="#84c4b4"/>
<rect x="3533.86" y="1479.55" width="32.79" height="30.76" fill="#84c4b0"/>
<rect x="3566.05" y="1479.55" width="32.79" height="30.76" fill="#86c5a2"/>
<rect x="3598.24" y="1479.55" width="32.79" height="30.76" fill="#88c599"/>
<rect x="3630.43" y="1479.55" width="32.79" height="30.76" fill="#89c594"/>
<rect x="3662.62" y="1479.55" width="32.79" height="30.76" fill="#8ac590"/>
<rect x="3694.82" y="1479.55" width="32.79" height="30.76" fill="#8cc68a"/>
<rect x="3727.01" y="1479.55" width="32.79" height="30.76" fill="#89c594"/>
<rect x="2954.4" y="1509.71" width="32.79" height="33.46" fill="#84c6c4"/>
<rect x="2986.59" y="1509.71" width="32.79" height="33.46" fill="#7dc5d4"/>
<rect x="3018.78" y="1509.71" width="32.79" height="33.46" fill="#74c2dc"/>
<rect x="3050.98" y="1509.71" width="32.79" height="33.46" fill="#6abee4"/>
<rect x="3083.17" y="1509.71" width="32.79" height="33.46" fill="#68b2de"/>
<rect x="3115.36" y="1509.71" width="64.98" height="33.46" fill="#68b0dd"/>
<rect x="3179.74" y="1509.71" width="97.18" height="33.46" fill="#66bde6"/>
<rect x="3276.32" y="1509.71" width="64.98" height="33.46" fill="#74c2dc"/>
<rect x="3340.7" y="1509.71" width="97.18" height="33.46" fill="#80c6d2"/>
<rect x="3437.28" y="1509.71" width="32.79" height="33.46" fill="#81c6ce"/>
<rect x="3469.47" y="1509.71" width="32.79" height="33.46" fill="#82c6cb"/>
<rect x="3501.66" y="1509.71" width="32.79" height="33.46" fill="#84c5bf"/>
<rect x="3533.86" y="1509.71" width="32.79" height="33.46" fill="#84c4b4"/>
<rect x="3566.05" y="1509.71" width="32.79" height="33.46" fill="#85c4ab"/>
<rect x="3598.24" y="1509.71" width="32.79" height="33.46" fill="#86c5a2"/>
<rect x="3630.43" y="1509.71" width="32.79" height="33.46" fill="#87c59e"/>
<rect x="3662.62" y="1509.71" width="32.79" height="33.46" fill="#88c599"/>
<rect x="3694.82" y="1509.71" width="32.79" height="33.46" fill="#8ac590"/>
<rect x="3727.01" y="1509.71" width="32.79" height="33.46" fill="#88c599"/>
<rect x="2954.4" y="1542.57" width="32.79" height="38.3" fill="#84c6c4"/>
<rect x="2986.59" y="1542.57" width="32.79" height="38.3" fill="#7dc5d4"/>
<rect x="3018.78" y="1542.57" width="32.79" height="38.3" fill="#74c2dc"/>
<rect x="3050.98" y="1542.57" width="32.79" height="38.3" fill="#6abee4"/>
<rect x="3083.17" y="1542.57" width="32.79" height="38.3" fill="#68b2de"/>
<rect x="3115.36" y="1542.57" width="64.98" height="38.3" fill="#68b0dd"/>
<rect x="3179.74" y="1542.57" width="97.18" height="38.3" fill="#66bde6"/>
<rect x="3276.32" y="1542.57" width="64.98" height="38.3" fill="#74c2dc"/>
<rect x="3340.7" y="1542.57" width="97.18" height="38.3" fill="#80c6d2"/>
<rect x="3437.28" y="1542.57" width="32.79" height="38.3" fill="#81c6ce"/>
<rect x="3469.47" y="1542.57" width="32.79" height="38.3" fill="#82c6cb"/>
<rect x="3501.66" y="1542.57" width="32.79" height="38.3" fill="#84c6c4"/>
<rect x="3533.86" y="1542.57" width="32.79" height="38.3" fill="#84c5b9"/>
<rect x="3566.05" y="1542.57" width="32.79" height="38.3" fill="#84c4b0"/>
<rect x="3598.24" y="1542.57" width="32.79" height="38.3" fill="#86c5a6"/>
<rect x="3630.43" y="1542.57" width="32.79" height="38.3" fill="#86c5a2"/>
<rect x="3662.62" y="1542.57" width="32.79" height="38.3" fill="#87c59e"/>
<rect x="3694.82" y="1542.57" width="32.79" height="38.3" fill="#88c599"/>
<rect x="3727.01" y="1542.57" width="32.79" height="38.3" fill="#87c59e"/>
<rect x="2954.4" y="1580.27" width="32.79" height="44.21" fill="#81c6ce"/>
<rect x="2986.59" y="1580.27" width="32.79" height="44.21" fill="#7dc5d4"/>
<rect x="3018.78" y="1580.27" width="32.79" height="44.21" fill="#74c2dc"/>
<rect x="3050.98" y="1580.27" width="32.79" height="44.21" fill="#6abee4"/>
<rect x="3083.17" y="1580.27" width="32.79" height="44.21" fill="#68b2de"/>
<rect x="3115.36" y="1580.27" width="64.98" height="44.21" fill="#68b0dd"/>
<rect x="3179.74" y="1580.27" width="129.37" height="44.21" fill="#66bde6"/>
<rect x="3308.51" y="1580.27" width="32.79" height="44.21" fill="#74c2dc"/>
<rect x="3340.7" y="1580.27" width="97.18" height="44.21" fill="#80c6d2"/>
<rect x="3437.28" y="1580.27" width="64.98" height="44.21" fill="#81c6ce"/>
<rect x="3501.66" y="1580.27" width="32.79" height="44.21" fill="#82c6cb"/>
<rect x="3533.86" y="1580.27" width="32.79" height="44.21" fill="#84c6c4"/>
<rect x="3566.05" y="1580.27" width="32.79" height="44.21" fill="#84c5b9"/>
<rect x="3598.24" y="1580.27" width="32.79" height="44.21" fill="#85c4ab"/>
<rect x="3630.43" y="1580.27" width="32.79" height="44.21" fill="#86c5a6"/>
<rect x="3662.62" y="1580.27" width="32.79" height="44.21" fill="#86c5a2"/>
<rect x="3694.82" y="1580.27" width="32.79" height="44.21" fill="#87c59e"/>
<rect x="3727.01" y="1580.27" width="32.79" height="44.21" fill="#86c5a2"/>
<rect x="2954.4" y="1623.88" width="32.79" height="52.42" fill="#81c6ce"/>
<rect x="2986.59" y="1623.88" width="32.79" height="52.42" fill="#7dc5d4"/>
<rect x="3018.78" y="1623.88" width="32.79" height="52.42" fill="#74c2dc"/>
<rect x="3050.98" y="1623.88" width="32.79" height="52.42" fill="#6abee4"/>
<rect x="3083.17" y="1623.88" width="32.79" height="52.42" fill="#68b2de"/>
<rect x="3115.36" y="1623.88" width="64.98" height="52.42" fill="#68b0dd"/>
<rect x="3179.74" y="1623.88" width="129.37" height="52.42" fill="#66bde6"/>
<rect x="3308.51" y="1623.88" width="64.98" height="52.42" fill="#74c2dc"/>
<rect x="3372.9" y="1623.88" width="32.79" height="52.42" fill="#7dc5d4"/>
<rect x="3405.09" y="1623.88" width="64.98" height="52.42" fill="#80c6d2"/>
<rect x="3469.47" y="1623.88" width="64.98" height="52.42" fill="#81c6ce"/>
<rect x="3533.86" y="1623.88" width="32.79" height="52.42" fill="#82c6cb"/>
<rect x="3566.05" y="1623.88" width="32.79" height="52.42" fill="#84c6c4"/>
<rect x="3598.24" y="1623.88" width="32.79" height="52.42" fill="#84c5b9"/>
<rect x="3630.43" y="1623.88" width="32.79" height="52.42" fill="#85c4ab"/>
<rect x="3662.62" y="1623.88" width="32.79" height="52.42" fill="#86c5a6"/>
<rect x="3694.82" y="1623.88" width="32.79" height="52.42" fill="#86c5a2"/>
<rect x="3727.01" y="1623.88" width="32.79" height="52.42" fill="#86c5a6"/>
<rect x="2954.4" y="1675.7" width="32.79" height="64.3" fill="#81c6ce"/>
<rect x="2986.59" y="1675.7" width="32.79" height="64.3" fill="#7dc5d4"/>
<rect x="3018.78" y="1675.7" width="32.79" height="64.3" fill="#74c2dc"/>
<rect x="3050.98" y="1675.7" width="32.79" height="64.3" fill="#6abee4"/>
<rect x="3083.17" y="1675.7" width="32.79" height="64.3" fill="#68b2de"/>
<rect x="3115.36" y="1675.7" width="64.98" height="64.3" fill="#68b0dd"/>
<rect x="3179.74" y="1675.7" width="161.56" height="64.3" fill="#66bde6"/>
<rect x="3340.7" y="1675.7" width="129.37" height="64.3" fill="#74c2dc"/>
<rect x="3469.47" y="1675.7" width="97.18" height="64.3" fill="#80c6d2"/>
<rect x="3566.05" y="1675.7" width="32.79" height="64.3" fill="#81c6ce"/>
<rect x="3598.24" y="1675.7" width="161.56" height="64.3" fill="#82c6cb"/>
<rect x="2954.4" y="1739.4" width="64.98" height="34.7" fill="#70c1de"/>
<rect x="3018.78" y="1739.4" width="32.79" height="34.7" fill="#6abee4"/>
<rect x="3050.98" y="1739.4" width="64.98" height="34.7" fill="#68aeda"/>
<rect x="3115.36" y="1739.4" width="64.98" height="34.7" fill="#689bcc"/>
<rect x="3179.74" y="1739.4" width="64.98" height="34.7" fill="#68aeda"/>
<rect x="3244.13" y="1739.4" width="161.56" height="34.7" fill="#66bde6"/>
<rect x="3405.09" y="1739.4" width="64.98" height="34.7" fill="#74c2dc"/>
<rect x="3469.47" y="1739.4" width="258.14" height="34.7" fill="#77c3da"/>
<rect x="3727.01" y="1739.4" width="32.79" height="34.7" fill="#7ac4d7"/>
</g>
<path d="M2986.59 1210.8V1773.5M3018.78 1210.8V1773.5M3050.98 1210.8V1773.5M3083.17 1210.8V1773.5M3115.36 1210.8V1773.5M3147.55 1210.8V1773.5M3179.74 1210.8V1773.5M3211.94 1210.8V1773.5M3244.13 1210.8V1773.5M3276.32 1210.8V1773.5M3308.51 1210.8V1773.5M3340.7 1210.8V1773.5M3372.9 1210.8V1773.5M3405.09 1210.8V1773.5M3437.28 1210.8V1773.5M3469.47 1210.8V1773.5M3501.66 1210.8V1773.5M3533.86 1210.8V1773.5M3566.05 1210.8V1773.5M3598.24 1210.8V1773.5M3630.43 1210.8V1773.5M3662.62 1210.8V1773.5M3694.82 1210.8V1773.5M3727.01 1210.8V1773.5M2954.4 1233.65H3759.2M2954.4 1257.56H3759.2M2954.4 1280.8H3759.2M2954.4 1304.21H3759.2M2954.4 1327.45H3759.2M2954.4 1350.86H3759.2M2954.4 1375.61H3759.2M2954.4 1400.26H3759.2M2954.4 1425.3H3759.2M2954.4 1451.97H3759.2M2954.4 1479.55H3759.2M2954.4 1509.71H3759.2M2954.4 1542.57H3759.2M2954.4 1580.27H3759.2M2954.4 1623.88H3759.2M2954.4 1675.7H3759.2M2954.4 1739.4H3759.2" stroke="#ffffff" stroke-opacity="0.075" stroke-width="1" fill="none"/>
</g>
<rect x="2954.4" y="1207.3" width="804.8" height="562.1" fill="none" stroke="#161314" stroke-width="4.2"/>
<text x="2932.3" y="1329.57" font-size="39" text-anchor="end" fill="#2c2623">50</text>
<text x="2932.3" y="1444.77" font-size="39" text-anchor="end" fill="#2c2623">100</text>
<text x="2932.3" y="1559.97" font-size="39" text-anchor="end" fill="#2c2623">150</text>
<text x="2932.3" y="1675.16" font-size="39" text-anchor="end" fill="#2c2623">200</text>
<text x="2932.3" y="1790.37" font-size="39" text-anchor="end" fill="#2c2623">250</text>
<text x="3081.5" y="1829.3" font-size="39" text-anchor="middle" fill="#2c2623">5</text>
<text x="3242.4" y="1829.3" font-size="39" text-anchor="middle" fill="#2c2623">10</text>
<text x="3403.3" y="1829.3" font-size="39" text-anchor="middle" fill="#2c2623">15</text>
<text x="3564.2" y="1829.3" font-size="39" text-anchor="middle" fill="#2c2623">20</text>
<text x="3725.1" y="1829.3" font-size="39" text-anchor="middle" fill="#2c2623">25</text>
<text x="3219.6" y="1886.2" font-size="44" fill="#2c2623" textLength="212.9" lengthAdjust="spacingAndGlyphs">Cup number</text>
<text x="2807" y="1597" font-size="44.5" fill="#2c2623" textLength="222" lengthAdjust="spacingAndGlyphs" transform="rotate(-90 2807 1597)">Depth (in m)</text>
<rect x="3726.8" y="1236.8" width="219.1" height="508.4" fill="#ffffff" stroke="#0f0d0d" stroke-width="3.8" rx="48"/>
<g shape-rendering="crispEdges">
<rect x="3759.4" y="1711.26" width="63.2" height="7.64" fill="#412b70"/>
<rect x="3759.4" y="1704.22" width="63.2" height="7.64" fill="#422e75"/>
<rect x="3759.4" y="1697.17" width="63.2" height="7.64" fill="#433179"/>
<rect x="3759.4" y="1690.13" width="63.2" height="7.64" fill="#45337d"/>
<rect x="3759.4" y="1683.09" width="63.2" height="7.64" fill="#463782"/>
<rect x="3759.4" y="1676.05" width="63.2" height="7.64" fill="#473d87"/>
<rect x="3759.4" y="1669" width="63.2" height="7.64" fill="#49428b"/>
<rect x="3759.4" y="1661.96" width="63.2" height="7.64" fill="#4a4790"/>
<rect x="3759.4" y="1654.92" width="63.2" height="7.64" fill="#4d4c93"/>
<rect x="3759.4" y="1647.88" width="63.2" height="7.64" fill="#504f96"/>
<rect x="3759.4" y="1640.84" width="63.2" height="7.64" fill="#525399"/>
<rect x="3759.4" y="1633.79" width="63.2" height="7.64" fill="#54579c"/>
<rect x="3759.4" y="1626.75" width="63.2" height="7.64" fill="#565b9f"/>
<rect x="3759.4" y="1619.71" width="63.2" height="7.64" fill="#5861a3"/>
<rect x="3759.4" y="1612.67" width="63.2" height="7.64" fill="#5b68a8"/>
<rect x="3759.4" y="1605.62" width="63.2" height="7.64" fill="#5c6fad"/>
<rect x="3759.4" y="1598.58" width="63.2" height="7.64" fill="#5f79b4"/>
<rect x="3759.4" y="1591.54" width="63.2" height="7.64" fill="#6486bd"/>
<rect x="3759.4" y="1584.5" width="63.2" height="7.64" fill="#6794c7"/>
<rect x="3759.4" y="1577.46" width="63.2" height="7.64" fill="#68a4d3"/>
<rect x="3759.4" y="1570.41" width="63.2" height="7.64" fill="#68b2de"/>
<rect x="3759.4" y="1563.37" width="63.2" height="7.64" fill="#66bde6"/>
<rect x="3759.4" y="1556.33" width="63.2" height="7.64" fill="#71c1de"/>
<rect x="3759.4" y="1549.29" width="63.2" height="7.64" fill="#7bc4d6"/>
<rect x="3759.4" y="1542.25" width="63.2" height="7.64" fill="#81c6cd"/>
<rect x="3759.4" y="1535.2" width="63.2" height="7.64" fill="#84c6c1"/>
<rect x="3759.4" y="1528.16" width="63.2" height="7.64" fill="#84c4b1"/>
<rect x="3759.4" y="1521.12" width="63.2" height="7.64" fill="#86c5a3"/>
<rect x="3759.4" y="1514.08" width="63.2" height="7.64" fill="#89c595"/>
<rect x="3759.4" y="1507.03" width="63.2" height="7.64" fill="#8fc684"/>
<rect x="3759.4" y="1499.99" width="63.2" height="7.64" fill="#97c872"/>
<rect x="3759.4" y="1492.95" width="63.2" height="7.64" fill="#9fc961"/>
<rect x="3759.4" y="1485.91" width="63.2" height="7.64" fill="#a8cb52"/>
<rect x="3759.4" y="1478.87" width="63.2" height="7.64" fill="#b0cf46"/>
<rect x="3759.4" y="1471.82" width="63.2" height="7.64" fill="#b9d23e"/>
<rect x="3759.4" y="1464.78" width="63.2" height="7.64" fill="#c2d539"/>
<rect x="3759.4" y="1457.74" width="63.2" height="7.64" fill="#ccd834"/>
<rect x="3759.4" y="1450.7" width="63.2" height="7.64" fill="#d6dc31"/>
<rect x="3759.4" y="1443.65" width="63.2" height="7.64" fill="#e1e12d"/>
<rect x="3759.4" y="1436.61" width="63.2" height="7.64" fill="#ebe42c"/>
<rect x="3759.4" y="1429.57" width="63.2" height="7.64" fill="#f6e72c"/>
<rect x="3759.4" y="1422.53" width="63.2" height="7.64" fill="#fbdc29"/>
<rect x="3759.4" y="1415.49" width="63.2" height="7.64" fill="#fcc02a"/>
<rect x="3759.4" y="1408.44" width="63.2" height="7.64" fill="#fbb02a"/>
<rect x="3759.4" y="1401.4" width="63.2" height="7.64" fill="#f8a42a"/>
<rect x="3759.4" y="1394.36" width="63.2" height="7.64" fill="#f5992b"/>
<rect x="3759.4" y="1387.32" width="63.2" height="7.64" fill="#f38e2c"/>
<rect x="3759.4" y="1380.28" width="63.2" height="7.64" fill="#f1822c"/>
<rect x="3759.4" y="1373.23" width="63.2" height="7.64" fill="#ef752c"/>
<rect x="3759.4" y="1366.19" width="63.2" height="7.64" fill="#ed682c"/>
<rect x="3759.4" y="1359.15" width="63.2" height="7.64" fill="#eb5c2c"/>
<rect x="3759.4" y="1352.11" width="63.2" height="7.64" fill="#ea522c"/>
<rect x="3759.4" y="1345.06" width="63.2" height="7.64" fill="#e9482b"/>
<rect x="3759.4" y="1338.02" width="63.2" height="7.64" fill="#e83d2a"/>
<rect x="3759.4" y="1330.98" width="63.2" height="7.64" fill="#e73a2a"/>
<rect x="3759.4" y="1323.94" width="63.2" height="7.64" fill="#e7372a"/>
<rect x="3759.4" y="1316.9" width="63.2" height="7.64" fill="#e6352a"/>
<rect x="3759.4" y="1309.85" width="63.2" height="7.64" fill="#de322a"/>
<rect x="3759.4" y="1302.81" width="63.2" height="7.64" fill="#c92f29"/>
<rect x="3759.4" y="1295.77" width="63.2" height="7.64" fill="#b92e28"/>
<rect x="3759.4" y="1288.73" width="63.2" height="7.64" fill="#a62d28"/>
<rect x="3759.4" y="1281.68" width="63.2" height="7.64" fill="#952c28"/>
<rect x="3759.4" y="1274.64" width="63.2" height="7.64" fill="#892b26"/>
<rect x="3759.4" y="1267.6" width="63.2" height="7.64" fill="#7f2a25"/>
</g>
<rect x="3759.4" y="1267.6" width="63.2" height="450.7" fill="none" stroke="#332c29" stroke-width="2.8"/>
<line x1="3816.1" y1="1718.4" x2="3822.6" y2="1718.4" stroke="#1d1a18" stroke-width="2.8"/>
<text x="3834.4" y="1729.75" font-size="27" fill="#2c2623">8</text>
<line x1="3816.1" y1="1643.2" x2="3822.6" y2="1643.2" stroke="#1d1a18" stroke-width="2.8"/>
<text x="3834.4" y="1654.55" font-size="27" fill="#2c2623">10</text>
<line x1="3816.1" y1="1568" x2="3822.6" y2="1568" stroke="#1d1a18" stroke-width="2.8"/>
<text x="3834.4" y="1579.35" font-size="27" fill="#2c2623">12</text>
<line x1="3816.1" y1="1492.8" x2="3822.6" y2="1492.8" stroke="#1d1a18" stroke-width="2.8"/>
<text x="3834.4" y="1504.15" font-size="27" fill="#2c2623">14</text>
<line x1="3816.1" y1="1417.6" x2="3822.6" y2="1417.6" stroke="#1d1a18" stroke-width="2.8"/>
<text x="3834.4" y="1428.95" font-size="27" fill="#2c2623">16</text>
<line x1="3816.1" y1="1342.4" x2="3822.6" y2="1342.4" stroke="#1d1a18" stroke-width="2.8"/>
<text x="3834.4" y="1353.75" font-size="27" fill="#2c2623">18</text>
<line x1="3816.1" y1="1267.2" x2="3822.6" y2="1267.2" stroke="#1d1a18" stroke-width="2.8"/>
<text x="3834.4" y="1278.55" font-size="27" fill="#2c2623">20</text>
<text x="3917.4" y="1600.6" font-size="43.5" fill="#2c2623" textLength="207.6" lengthAdjust="spacingAndGlyphs" transform="rotate(-90 3917.4 1600.6)">Temperature</text>
<clipPath id="hc6"><rect x="2954.4" y="1986.1" width="804.8" height="565.9"/></clipPath>
<g clip-path="url(#hc6)">
<g shape-rendering="crispEdges">
<rect x="2954.4" y="1990" width="32.79" height="23.42" fill="#fcc92a"/>
<rect x="2986.59" y="1990" width="32.79" height="23.42" fill="#fcc42a"/>
<rect x="3018.78" y="1990" width="32.79" height="23.42" fill="#f8e82c"/>
<rect x="3050.98" y="1990" width="32.79" height="23.42" fill="#e4e22c"/>
<rect x="3083.17" y="1990" width="32.79" height="23.42" fill="#dade2f"/>
<rect x="3115.36" y="1990" width="32.79" height="23.42" fill="#ccd834"/>
<rect x="3147.55" y="1990" width="32.79" height="23.42" fill="#cfd933"/>
<rect x="3179.74" y="1990" width="32.79" height="23.42" fill="#bdd33c"/>
<rect x="3211.94" y="1990" width="32.79" height="23.42" fill="#b1cf44"/>
<rect x="3244.13" y="1990" width="32.79" height="23.42" fill="#bdd33c"/>
<rect x="3276.32" y="1990" width="32.79" height="23.42" fill="#ccd834"/>
<rect x="3308.51" y="1990" width="32.79" height="23.42" fill="#f8e82c"/>
<rect x="3340.7" y="1990" width="32.79" height="23.42" fill="#fcc92a"/>
<rect x="3372.9" y="1990" width="32.79" height="23.42" fill="#f9a82a"/>
<rect x="3405.09" y="1990" width="32.79" height="23.42" fill="#f28a2c"/>
<rect x="3437.28" y="1990" width="32.79" height="23.42" fill="#f07d2c"/>
<rect x="3469.47" y="1990" width="32.79" height="23.42" fill="#ee702c"/>
<rect x="3501.66" y="1990" width="32.79" height="23.42" fill="#ec602c"/>
<rect x="3533.86" y="1990" width="64.98" height="23.42" fill="#ec5c2c"/>
<rect x="3598.24" y="1990" width="32.79" height="23.42" fill="#ef792c"/>
<rect x="3630.43" y="1990" width="32.79" height="23.42" fill="#fcb42a"/>
<rect x="3662.62" y="1990" width="32.79" height="23.42" fill="#f8e82c"/>
<rect x="3694.82" y="1990" width="32.79" height="23.42" fill="#e1e12d"/>
<rect x="3727.01" y="1990" width="32.79" height="23.42" fill="#f5e72c"/>
<rect x="2954.4" y="2012.82" width="32.79" height="24.48" fill="#fcc92a"/>
<rect x="2986.59" y="2012.82" width="32.79" height="24.48" fill="#fcc42a"/>
<rect x="3018.78" y="2012.82" width="32.79" height="24.48" fill="#f8e82c"/>
<rect x="3050.98" y="2012.82" width="32.79" height="24.48" fill="#e4e22c"/>
<rect x="3083.17" y="2012.82" width="32.79" height="24.48" fill="#dade2f"/>
<rect x="3115.36" y="2012.82" width="32.79" height="24.48" fill="#ccd834"/>
<rect x="3147.55" y="2012.82" width="32.79" height="24.48" fill="#cfd933"/>
<rect x="3179.74" y="2012.82" width="32.79" height="24.48" fill="#bdd33c"/>
<rect x="3211.94" y="2012.82" width="32.79" height="24.48" fill="#b1cf44"/>
<rect x="3244.13" y="2012.82" width="32.79" height="24.48" fill="#bdd33c"/>
<rect x="3276.32" y="2012.82" width="32.79" height="24.48" fill="#ccd834"/>
<rect x="3308.51" y="2012.82" width="32.79" height="24.48" fill="#f8e82c"/>
<rect x="3340.7" y="2012.82" width="32.79" height="24.48" fill="#fcce29"/>
<rect x="3372.9" y="2012.82" width="32.79" height="24.48" fill="#fcb42a"/>
<rect x="3405.09" y="2012.82" width="32.79" height="24.48" fill="#f5972b"/>
<rect x="3437.28" y="2012.82" width="32.79" height="24.48" fill="#f1812c"/>
<rect x="3469.47" y="2012.82" width="32.79" height="24.48" fill="#ef792c"/>
<rect x="3501.66" y="2012.82" width="97.18" height="24.48" fill="#ee6c2c"/>
<rect x="3598.24" y="2012.82" width="32.79" height="24.48" fill="#ef792c"/>
<rect x="3630.43" y="2012.82" width="32.79" height="24.48" fill="#fcb42a"/>
<rect x="3662.62" y="2012.82" width="32.79" height="24.48" fill="#f8e82c"/>
<rect x="3694.82" y="2012.82" width="32.79" height="24.48" fill="#e1e12d"/>
<rect x="3727.01" y="2012.82" width="32.79" height="24.48" fill="#f5e72c"/>
<rect x="2954.4" y="2036.7" width="32.79" height="23.81" fill="#fcc92a"/>
<rect x="2986.59" y="2036.7" width="32.79" height="23.81" fill="#fcc42a"/>
<rect x="3018.78" y="2036.7" width="32.79" height="23.81" fill="#f8e82c"/>
<rect x="3050.98" y="2036.7" width="32.79" height="23.81" fill="#e4e22c"/>
<rect x="3083.17" y="2036.7" width="32.79" height="23.81" fill="#dade2f"/>
<rect x="3115.36" y="2036.7" width="32.79" height="23.81" fill="#ccd834"/>
<rect x="3147.55" y="2036.7" width="32.79" height="23.81" fill="#cfd933"/>
<rect x="3179.74" y="2036.7" width="32.79" height="23.81" fill="#bdd33c"/>
<rect x="3211.94" y="2036.7" width="32.79" height="23.81" fill="#b1cf44"/>
<rect x="3244.13" y="2036.7" width="32.79" height="23.81" fill="#bdd33c"/>
<rect x="3276.32" y="2036.7" width="32.79" height="23.81" fill="#ccd834"/>
<rect x="3308.51" y="2036.7" width="32.79" height="23.81" fill="#f8e82c"/>
<rect x="3340.7" y="2036.7" width="32.79" height="23.81" fill="#fcd828"/>
<rect x="3372.9" y="2036.7" width="32.79" height="23.81" fill="#fcc42a"/>
<rect x="3405.09" y="2036.7" width="32.79" height="23.81" fill="#f9a82a"/>
<rect x="3437.28" y="2036.7" width="32.79" height="23.81" fill="#f4932b"/>
<rect x="3469.47" y="2036.7" width="32.79" height="23.81" fill="#f28a2c"/>
<rect x="3501.66" y="2036.7" width="32.79" height="23.81" fill="#ef792c"/>
<rect x="3533.86" y="2036.7" width="64.98" height="23.81" fill="#ee6c2c"/>
<rect x="3598.24" y="2036.7" width="32.79" height="23.81" fill="#ef792c"/>
<rect x="3630.43" y="2036.7" width="32.79" height="23.81" fill="#fcb42a"/>
<rect x="3662.62" y="2036.7" width="32.79" height="23.81" fill="#f8e82c"/>
<rect x="3694.82" y="2036.7" width="32.79" height="23.81" fill="#e1e12d"/>
<rect x="3727.01" y="2036.7" width="32.79" height="23.81" fill="#f5e72c"/>
<rect x="2954.4" y="2059.91" width="32.79" height="23.98" fill="#fcc92a"/>
<rect x="2986.59" y="2059.91" width="32.79" height="23.98" fill="#fcc42a"/>
<rect x="3018.78" y="2059.91" width="32.79" height="23.98" fill="#f8e82c"/>
<rect x="3050.98" y="2059.91" width="32.79" height="23.98" fill="#e4e22c"/>
<rect x="3083.17" y="2059.91" width="32.79" height="23.98" fill="#dade2f"/>
<rect x="3115.36" y="2059.91" width="32.79" height="23.98" fill="#ccd834"/>
<rect x="3147.55" y="2059.91" width="32.79" height="23.98" fill="#cfd933"/>
<rect x="3179.74" y="2059.91" width="32.79" height="23.98" fill="#bdd33c"/>
<rect x="3211.94" y="2059.91" width="32.79" height="23.98" fill="#b1cf44"/>
<rect x="3244.13" y="2059.91" width="32.79" height="23.98" fill="#bdd33c"/>
<rect x="3276.32" y="2059.91" width="32.79" height="23.98" fill="#ccd834"/>
<rect x="3308.51" y="2059.91" width="64.98" height="23.98" fill="#f8e82c"/>
<rect x="3372.9" y="2059.91" width="32.79" height="23.98" fill="#fcc42a"/>
<rect x="3405.09" y="2059.91" width="32.79" height="23.98" fill="#fcb42a"/>
<rect x="3437.28" y="2059.91" width="32.79" height="23.98" fill="#f69b2b"/>
<rect x="3469.47" y="2059.91" width="32.79" height="23.98" fill="#f28a2c"/>
<rect x="3501.66" y="2059.91" width="32.79" height="23.98" fill="#f1812c"/>
<rect x="3533.86" y="2059.91" width="32.79" height="23.98" fill="#ef792c"/>
<rect x="3566.05" y="2059.91" width="32.79" height="23.98" fill="#ee6c2c"/>
<rect x="3598.24" y="2059.91" width="32.79" height="23.98" fill="#ef792c"/>
<rect x="3630.43" y="2059.91" width="32.79" height="23.98" fill="#fcb42a"/>
<rect x="3662.62" y="2059.91" width="32.79" height="23.98" fill="#f8e82c"/>
<rect x="3694.82" y="2059.91" width="32.79" height="23.98" fill="#e1e12d"/>
<rect x="3727.01" y="2059.91" width="32.79" height="23.98" fill="#f5e72c"/>
<rect x="2954.4" y="2083.29" width="32.79" height="23.81" fill="#fcc92a"/>
<rect x="2986.59" y="2083.29" width="32.79" height="23.81" fill="#fcc42a"/>
<rect x="3018.78" y="2083.29" width="32.79" height="23.81" fill="#f8e82c"/>
<rect x="3050.98" y="2083.29" width="32.79" height="23.81" fill="#e4e22c"/>
<rect x="3083.17" y="2083.29" width="32.79" height="23.81" fill="#dade2f"/>
<rect x="3115.36" y="2083.29" width="32.79" height="23.81" fill="#ccd834"/>
<rect x="3147.55" y="2083.29" width="32.79" height="23.81" fill="#cfd933"/>
<rect x="3179.74" y="2083.29" width="32.79" height="23.81" fill="#bdd33c"/>
<rect x="3211.94" y="2083.29" width="64.98" height="23.81" fill="#b1cf44"/>
<rect x="3276.32" y="2083.29" width="32.79" height="23.81" fill="#ccd834"/>
<rect x="3308.51" y="2083.29" width="32.79" height="23.81" fill="#e1e12d"/>
<rect x="3340.7" y="2083.29" width="32.79" height="23.81" fill="#f8e82c"/>
<rect x="3372.9" y="2083.29" width="32.79" height="23.81" fill="#fcd828"/>
<rect x="3405.09" y="2083.29" width="32.79" height="23.81" fill="#fcb42a"/>
<rect x="3437.28" y="2083.29" width="32.79" height="23.81" fill="#f9a82a"/>
<rect x="3469.47" y="2083.29" width="32.79" height="23.81" fill="#f4932b"/>
<rect x="3501.66" y="2083.29" width="32.79" height="23.81" fill="#f28a2c"/>
<rect x="3533.86" y="2083.29" width="32.79" height="23.81" fill="#f07d2c"/>
<rect x="3566.05" y="2083.29" width="64.98" height="23.81" fill="#ef792c"/>
<rect x="3630.43" y="2083.29" width="32.79" height="23.81" fill="#fcb42a"/>
<rect x="3662.62" y="2083.29" width="32.79" height="23.81" fill="#f8e82c"/>
<rect x="3694.82" y="2083.29" width="32.79" height="23.81" fill="#e1e12d"/>
<rect x="3727.01" y="2083.29" width="32.79" height="23.81" fill="#f5e72c"/>
<rect x="2954.4" y="2106.5" width="32.79" height="23.98" fill="#fcc92a"/>
<rect x="2986.59" y="2106.5" width="32.79" height="23.98" fill="#fcc42a"/>
<rect x="3018.78" y="2106.5" width="32.79" height="23.98" fill="#f8e82c"/>
<rect x="3050.98" y="2106.5" width="32.79" height="23.98" fill="#e4e22c"/>
<rect x="3083.17" y="2106.5" width="32.79" height="23.98" fill="#dade2f"/>
<rect x="3115.36" y="2106.5" width="32.79" height="23.98" fill="#ccd834"/>
<rect x="3147.55" y="2106.5" width="32.79" height="23.98" fill="#cfd933"/>
<rect x="3179.74" y="2106.5" width="32.79" height="23.98" fill="#bdd33c"/>
<rect x="3211.94" y="2106.5" width="64.98" height="23.98" fill="#b1cf44"/>
<rect x="3276.32" y="2106.5" width="32.79" height="23.98" fill="#ccd834"/>
<rect x="3308.51" y="2106.5" width="32.79" height="23.98" fill="#e1e12d"/>
<rect x="3340.7" y="2106.5" width="64.98" height="23.98" fill="#f8e82c"/>
<rect x="3405.09" y="2106.5" width="32.79" height="23.98" fill="#fcc42a"/>
<rect x="3437.28" y="2106.5" width="32.79" height="23.98" fill="#fcb42a"/>
<rect x="3469.47" y="2106.5" width="32.79" height="23.98" fill="#f69b2b"/>
<rect x="3501.66" y="2106.5" width="32.79" height="23.98" fill="#f28a2c"/>
<rect x="3533.86" y="2106.5" width="64.98" height="23.98" fill="#f1812c"/>
<rect x="3598.24" y="2106.5" width="32.79" height="23.98" fill="#ef792c"/>
<rect x="3630.43" y="2106.5" width="32.79" height="23.98" fill="#fcb42a"/>
<rect x="3662.62" y="2106.5" width="32.79" height="23.98" fill="#f8e82c"/>
<rect x="3694.82" y="2106.5" width="32.79" height="23.98" fill="#e1e12d"/>
<rect x="3727.01" y="2106.5" width="32.79" height="23.98" fill="#f5e72c"/>
<rect x="2954.4" y="2129.88" width="32.79" height="25.33" fill="#fcc92a"/>
<rect x="2986.59" y="2129.88" width="32.79" height="25.33" fill="#fcc42a"/>
<rect x="3018.78" y="2129.88" width="32.79" height="25.33" fill="#f8e82c"/>
<rect x="3050.98" y="2129.88" width="32.79" height="25.33" fill="#e4e22c"/>
<rect x="3083.17" y="2129.88" width="32.79" height="25.33" fill="#dade2f"/>
<rect x="3115.36" y="2129.88" width="32.79" height="25.33" fill="#ccd834"/>
<rect x="3147.55" y="2129.88" width="32.79" height="25.33" fill="#cfd933"/>
<rect x="3179.74" y="2129.88" width="32.79" height="25.33" fill="#bdd33c"/>
<rect x="3211.94" y="2129.88" width="64.98" height="25.33" fill="#b1cf44"/>
<rect x="3276.32" y="2129.88" width="32.79" height="25.33" fill="#ccd834"/>
<rect x="3308.51" y="2129.88" width="32.79" height="25.33" fill="#e1e12d"/>
<rect x="3340.7" y="2129.88" width="64.98" height="25.33" fill="#f8e82c"/>
<rect x="3405.09" y="2129.88" width="32.79" height="25.33" fill="#fcce29"/>
<rect x="3437.28" y="2129.88" width="32.79" height="25.33" fill="#fcb42a"/>
<rect x="3469.47" y="2129.88" width="32.79" height="25.33" fill="#f8a42a"/>
<rect x="3501.66" y="2129.88" width="32.79" height="25.33" fill="#f28a2c"/>
<rect x="3533.86" y="2129.88" width="64.98" height="25.33" fill="#f1862c"/>
<rect x="3598.24" y="2129.88" width="32.79" height="25.33" fill="#ee702c"/>
<rect x="3630.43" y="2129.88" width="32.79" height="25.33" fill="#fbb02a"/>
<rect x="3662.62" y="2129.88" width="32.79" height="25.33" fill="#f8e82c"/>
<rect x="3694.82" y="2129.88" width="32.79" height="25.33" fill="#e1e12d"/>
<rect x="3727.01" y="2129.88" width="32.79" height="25.33" fill="#f5e72c"/>
<rect x="2954.4" y="2154.61" width="32.79" height="25.22" fill="#fcc92a"/>
<rect x="2986.59" y="2154.61" width="32.79" height="25.22" fill="#fcc42a"/>
<rect x="3018.78" y="2154.61" width="32.79" height="25.22" fill="#f8e82c"/>
<rect x="3050.98" y="2154.61" width="32.79" height="25.22" fill="#e4e22c"/>
<rect x="3083.17" y="2154.61" width="32.79" height="25.22" fill="#dade2f"/>
<rect x="3115.36" y="2154.61" width="32.79" height="25.22" fill="#ccd834"/>
<rect x="3147.55" y="2154.61" width="32.79" height="25.22" fill="#cfd933"/>
<rect x="3179.74" y="2154.61" width="32.79" height="25.22" fill="#bdd33c"/>
<rect x="3211.94" y="2154.61" width="64.98" height="25.22" fill="#b1cf44"/>
<rect x="3276.32" y="2154.61" width="32.79" height="25.22" fill="#ccd834"/>
<rect x="3308.51" y="2154.61" width="32.79" height="25.22" fill="#e1e12d"/>
<rect x="3340.7" y="2154.61" width="64.98" height="25.22" fill="#f8e82c"/>
<rect x="3405.09" y="2154.61" width="32.79" height="25.22" fill="#fcc42a"/>
<rect x="3437.28" y="2154.61" width="32.79" height="25.22" fill="#f9a82a"/>
<rect x="3469.47" y="2154.61" width="32.79" height="25.22" fill="#f69b2b"/>
<rect x="3501.66" y="2154.61" width="64.98" height="25.22" fill="#f28a2c"/>
<rect x="3566.05" y="2154.61" width="32.79" height="25.22" fill="#f4932b"/>
<rect x="3598.24" y="2154.61" width="32.79" height="25.22" fill="#f69b2b"/>
<rect x="3630.43" y="2154.61" width="32.79" height="25.22" fill="#fcc42a"/>
<rect x="3662.62" y="2154.61" width="32.79" height="25.22" fill="#f8e82c"/>
<rect x="3694.82" y="2154.61" width="32.79" height="25.22" fill="#e1e12d"/>
<rect x="3727.01" y="2154.61" width="32.79" height="25.22" fill="#f5e72c"/>
<rect x="2954.4" y="2179.23" width="32.79" height="25.61" fill="#fcc92a"/>
<rect x="2986.59" y="2179.23" width="32.79" height="25.61" fill="#fcc42a"/>
<rect x="3018.78" y="2179.23" width="32.79" height="25.61" fill="#f8e82c"/>
<rect x="3050.98" y="2179.23" width="32.79" height="25.61" fill="#e4e22c"/>
<rect x="3083.17" y="2179.23" width="32.79" height="25.61" fill="#dade2f"/>
<rect x="3115.36" y="2179.23" width="32.79" height="25.61" fill="#ccd834"/>
<rect x="3147.55" y="2179.23" width="32.79" height="25.61" fill="#c9d736"/>
<rect x="3179.74" y="2179.23" width="32.79" height="25.61" fill="#bdd33c"/>
<rect x="3211.94" y="2179.23" width="64.98" height="25.61" fill="#b1cf44"/>
<rect x="3276.32" y="2179.23" width="32.79" height="25.61" fill="#bad23d"/>
<rect x="3308.51" y="2179.23" width="32.79" height="25.61" fill="#e1e12d"/>
<rect x="3340.7" y="2179.23" width="32.79" height="25.61" fill="#e4e22c"/>
<rect x="3372.9" y="2179.23" width="32.79" height="25.61" fill="#f8e82c"/>
<rect x="3405.09" y="2179.23" width="32.79" height="25.61" fill="#fcc42a"/>
<rect x="3437.28" y="2179.23" width="32.79" height="25.61" fill="#f9a82a"/>
<rect x="3469.47" y="2179.23" width="32.79" height="25.61" fill="#f69b2b"/>
<rect x="3501.66" y="2179.23" width="32.79" height="25.61" fill="#f28a2c"/>
<rect x="3533.86" y="2179.23" width="32.79" height="25.61" fill="#f69b2b"/>
<rect x="3566.05" y="2179.23" width="32.79" height="25.61" fill="#f8a42a"/>
<rect x="3598.24" y="2179.23" width="32.79" height="25.61" fill="#fcb42a"/>
<rect x="3630.43" y="2179.23" width="32.79" height="25.61" fill="#fcd828"/>
<rect x="3662.62" y="2179.23" width="64.98" height="25.61" fill="#e1e12d"/>
<rect x="3727.01" y="2179.23" width="32.79" height="25.61" fill="#eee52c"/>
<rect x="2954.4" y="2204.23" width="32.79" height="27.24" fill="#fcc92a"/>
<rect x="2986.59" y="2204.23" width="32.79" height="27.24" fill="#fcc42a"/>
<rect x="3018.78" y="2204.23" width="32.79" height="27.24" fill="#f8e82c"/>
<rect x="3050.98" y="2204.23" width="32.79" height="27.24" fill="#e4e22c"/>
<rect x="3083.17" y="2204.23" width="32.79" height="27.24" fill="#dade2f"/>
<rect x="3115.36" y="2204.23" width="32.79" height="27.24" fill="#ccd834"/>
<rect x="3147.55" y="2204.23" width="32.79" height="27.24" fill="#c9d736"/>
<rect x="3179.74" y="2204.23" width="32.79" height="27.24" fill="#bdd33c"/>
<rect x="3211.94" y="2204.23" width="64.98" height="27.24" fill="#b1cf44"/>
<rect x="3276.32" y="2204.23" width="32.79" height="27.24" fill="#bad23d"/>
<rect x="3308.51" y="2204.23" width="32.79" height="27.24" fill="#ccd834"/>
<rect x="3340.7" y="2204.23" width="32.79" height="27.24" fill="#e4e22c"/>
<rect x="3372.9" y="2204.23" width="32.79" height="27.24" fill="#f8e82c"/>
<rect x="3405.09" y="2204.23" width="32.79" height="27.24" fill="#fcc42a"/>
<rect x="3437.28" y="2204.23" width="32.79" height="27.24" fill="#f9a82a"/>
<rect x="3469.47" y="2204.23" width="32.79" height="27.24" fill="#f4932b"/>
<rect x="3501.66" y="2204.23" width="32.79" height="27.24" fill="#f1862c"/>
<rect x="3533.86" y="2204.23" width="32.79" height="27.24" fill="#f69b2b"/>
<rect x="3566.05" y="2204.23" width="32.79" height="27.24" fill="#f8a42a"/>
<rect x="3598.24" y="2204.23" width="32.79" height="27.24" fill="#fcc42a"/>
<rect x="3630.43" y="2204.23" width="32.79" height="27.24" fill="#f8e82c"/>
<rect x="3662.62" y="2204.23" width="32.79" height="27.24" fill="#e1e12d"/>
<rect x="3694.82" y="2204.23" width="32.79" height="27.24" fill="#e7e32c"/>
<rect x="3727.01" y="2204.23" width="32.79" height="27.24" fill="#eee52c"/>
<rect x="2954.4" y="2230.87" width="32.79" height="28.14" fill="#fcc92a"/>
<rect x="2986.59" y="2230.87" width="32.79" height="28.14" fill="#fcc42a"/>
<rect x="3018.78" y="2230.87" width="32.79" height="28.14" fill="#f8e82c"/>
<rect x="3050.98" y="2230.87" width="32.79" height="28.14" fill="#e4e22c"/>
<rect x="3083.17" y="2230.87" width="32.79" height="28.14" fill="#dade2f"/>
<rect x="3115.36" y="2230.87" width="32.79" height="28.14" fill="#ccd834"/>
<rect x="3147.55" y="2230.87" width="32.79" height="28.14" fill="#c9d736"/>
<rect x="3179.74" y="2230.87" width="32.79" height="28.14" fill="#bdd33c"/>
<rect x="3211.94" y="2230.87" width="64.98" height="28.14" fill="#b1cf44"/>
<rect x="3276.32" y="2230.87" width="32.79" height="28.14" fill="#bad23d"/>
<rect x="3308.51" y="2230.87" width="32.79" height="28.14" fill="#ccd834"/>
<rect x="3340.7" y="2230.87" width="32.79" height="28.14" fill="#e4e22c"/>
<rect x="3372.9" y="2230.87" width="32.79" height="28.14" fill="#f8e82c"/>
<rect x="3405.09" y="2230.87" width="32.79" height="28.14" fill="#fcc42a"/>
<rect x="3437.28" y="2230.87" width="32.79" height="28.14" fill="#faac2a"/>
<rect x="3469.47" y="2230.87" width="32.79" height="28.14" fill="#f8a42a"/>
<rect x="3501.66" y="2230.87" width="32.79" height="28.14" fill="#f4932b"/>
<rect x="3533.86" y="2230.87" width="64.98" height="28.14" fill="#f8a42a"/>
<rect x="3598.24" y="2230.87" width="32.79" height="28.14" fill="#fcd828"/>
<rect x="3630.43" y="2230.87" width="97.18" height="28.14" fill="#f8e82c"/>
<rect x="3727.01" y="2230.87" width="32.79" height="28.14" fill="#f9e52b"/>
<rect x="2954.4" y="2258.41" width="32.79" height="30.72" fill="#fcb82a"/>
<rect x="2986.59" y="2258.41" width="32.79" height="30.72" fill="#fcc42a"/>
<rect x="3018.78" y="2258.41" width="32.79" height="30.72" fill="#f8e82c"/>
<rect x="3050.98" y="2258.41" width="32.79" height="30.72" fill="#e4e22c"/>
<rect x="3083.17" y="2258.41" width="32.79" height="30.72" fill="#dade2f"/>
<rect x="3115.36" y="2258.41" width="32.79" height="30.72" fill="#ccd834"/>
<rect x="3147.55" y="2258.41" width="32.79" height="30.72" fill="#c9d736"/>
<rect x="3179.74" y="2258.41" width="32.79" height="30.72" fill="#bdd33c"/>
<rect x="3211.94" y="2258.41" width="64.98" height="30.72" fill="#b1cf44"/>
<rect x="3276.32" y="2258.41" width="32.79" height="30.72" fill="#bad23d"/>
<rect x="3308.51" y="2258.41" width="32.79" height="30.72" fill="#dade2f"/>
<rect x="3340.7" y="2258.41" width="32.79" height="30.72" fill="#f5e72c"/>
<rect x="3372.9" y="2258.41" width="32.79" height="30.72" fill="#f8e82c"/>
<rect x="3405.09" y="2258.41" width="32.79" height="30.72" fill="#fcc42a"/>
<rect x="3437.28" y="2258.41" width="32.79" height="30.72" fill="#faac2a"/>
<rect x="3469.47" y="2258.41" width="97.18" height="30.72" fill="#f8a42a"/>
<rect x="3566.05" y="2258.41" width="32.79" height="30.72" fill="#faac2a"/>
<rect x="3598.24" y="2258.41" width="32.79" height="30.72" fill="#fcce29"/>
<rect x="3630.43" y="2258.41" width="129.37" height="30.72" fill="#fcd828"/>
<rect x="2954.4" y="2288.53" width="32.79" height="33.42" fill="#fcb82a"/>
<rect x="2986.59" y="2288.53" width="32.79" height="33.42" fill="#fcc42a"/>
<rect x="3018.78" y="2288.53" width="32.79" height="33.42" fill="#f8e82c"/>
<rect x="3050.98" y="2288.53" width="32.79" height="33.42" fill="#e4e22c"/>
<rect x="3083.17" y="2288.53" width="32.79" height="33.42" fill="#dade2f"/>
<rect x="3115.36" y="2288.53" width="32.79" height="33.42" fill="#ccd834"/>
<rect x="3147.55" y="2288.53" width="32.79" height="33.42" fill="#c9d736"/>
<rect x="3179.74" y="2288.53" width="32.79" height="33.42" fill="#bdd33c"/>
<rect x="3211.94" y="2288.53" width="64.98" height="33.42" fill="#b1cf44"/>
<rect x="3276.32" y="2288.53" width="32.79" height="33.42" fill="#bad23d"/>
<rect x="3308.51" y="2288.53" width="32.79" height="33.42" fill="#dade2f"/>
<rect x="3340.7" y="2288.53" width="32.79" height="33.42" fill="#f5e72c"/>
<rect x="3372.9" y="2288.53" width="32.79" height="33.42" fill="#f8e82c"/>
<rect x="3405.09" y="2288.53" width="32.79" height="33.42" fill="#fcd828"/>
<rect x="3437.28" y="2288.53" width="32.79" height="33.42" fill="#faac2a"/>
<rect x="3469.47" y="2288.53" width="32.79" height="33.42" fill="#f9a82a"/>
<rect x="3501.66" y="2288.53" width="32.79" height="33.42" fill="#f7a02a"/>
<rect x="3533.86" y="2288.53" width="32.79" height="33.42" fill="#faac2a"/>
<rect x="3566.05" y="2288.53" width="32.79" height="33.42" fill="#fcc42a"/>
<rect x="3598.24" y="2288.53" width="32.79" height="33.42" fill="#fcce29"/>
<rect x="3630.43" y="2288.53" width="32.79" height="33.42" fill="#fcd828"/>
<rect x="3662.62" y="2288.53" width="97.18" height="33.42" fill="#fcc42a"/>
<rect x="2954.4" y="2321.36" width="32.79" height="38.25" fill="#fcb82a"/>
<rect x="2986.59" y="2321.36" width="32.79" height="38.25" fill="#fcc42a"/>
<rect x="3018.78" y="2321.36" width="32.79" height="38.25" fill="#f8e82c"/>
<rect x="3050.98" y="2321.36" width="32.79" height="38.25" fill="#e4e22c"/>
<rect x="3083.17" y="2321.36" width="32.79" height="38.25" fill="#dade2f"/>
<rect x="3115.36" y="2321.36" width="32.79" height="38.25" fill="#ccd834"/>
<rect x="3147.55" y="2321.36" width="32.79" height="38.25" fill="#c9d736"/>
<rect x="3179.74" y="2321.36" width="64.98" height="38.25" fill="#bdd33c"/>
<rect x="3244.13" y="2321.36" width="32.79" height="38.25" fill="#b1cf44"/>
<rect x="3276.32" y="2321.36" width="32.79" height="38.25" fill="#c9d736"/>
<rect x="3308.51" y="2321.36" width="32.79" height="38.25" fill="#dade2f"/>
<rect x="3340.7" y="2321.36" width="32.79" height="38.25" fill="#f5e72c"/>
<rect x="3372.9" y="2321.36" width="32.79" height="38.25" fill="#f8e82c"/>
<rect x="3405.09" y="2321.36" width="32.79" height="38.25" fill="#fcd828"/>
<rect x="3437.28" y="2321.36" width="32.79" height="38.25" fill="#fcc42a"/>
<rect x="3469.47" y="2321.36" width="64.98" height="38.25" fill="#faac2a"/>
<rect x="3533.86" y="2321.36" width="32.79" height="38.25" fill="#fcc02a"/>
<rect x="3566.05" y="2321.36" width="32.79" height="38.25" fill="#fcc42a"/>
<rect x="3598.24" y="2321.36" width="32.79" height="38.25" fill="#f8e82c"/>
<rect x="3630.43" y="2321.36" width="32.79" height="38.25" fill="#fcd828"/>
<rect x="3662.62" y="2321.36" width="97.18" height="38.25" fill="#fcc42a"/>
<rect x="2954.4" y="2359.01" width="32.79" height="44.15" fill="#fcb82a"/>
<rect x="2986.59" y="2359.01" width="32.79" height="44.15" fill="#fcc42a"/>
<rect x="3018.78" y="2359.01" width="32.79" height="44.15" fill="#f8e82c"/>
<rect x="3050.98" y="2359.01" width="32.79" height="44.15" fill="#e4e22c"/>
<rect x="3083.17" y="2359.01" width="32.79" height="44.15" fill="#dade2f"/>
<rect x="3115.36" y="2359.01" width="32.79" height="44.15" fill="#ccd834"/>
<rect x="3147.55" y="2359.01" width="32.79" height="44.15" fill="#c9d736"/>
<rect x="3179.74" y="2359.01" width="64.98" height="44.15" fill="#bdd33c"/>
<rect x="3244.13" y="2359.01" width="32.79" height="44.15" fill="#b1cf44"/>
<rect x="3276.32" y="2359.01" width="32.79" height="44.15" fill="#c9d736"/>
<rect x="3308.51" y="2359.01" width="32.79" height="44.15" fill="#dade2f"/>
<rect x="3340.7" y="2359.01" width="32.79" height="44.15" fill="#f5e72c"/>
<rect x="3372.9" y="2359.01" width="32.79" height="44.15" fill="#f8e82c"/>
<rect x="3405.09" y="2359.01" width="64.98" height="44.15" fill="#fcd828"/>
<rect x="3469.47" y="2359.01" width="97.18" height="44.15" fill="#fcc42a"/>
<rect x="3566.05" y="2359.01" width="32.79" height="44.15" fill="#fcd828"/>
<rect x="3598.24" y="2359.01" width="32.79" height="44.15" fill="#f8e82c"/>
<rect x="3630.43" y="2359.01" width="32.79" height="44.15" fill="#fcd828"/>
<rect x="3662.62" y="2359.01" width="97.18" height="44.15" fill="#fcc42a"/>
<rect x="2954.4" y="2402.56" width="32.79" height="52.36" fill="#fcb82a"/>
<rect x="2986.59" y="2402.56" width="32.79" height="52.36" fill="#fcc42a"/>
<rect x="3018.78" y="2402.56" width="32.79" height="52.36" fill="#f8e82c"/>
<rect x="3050.98" y="2402.56" width="32.79" height="52.36" fill="#e4e22c"/>
<rect x="3083.17" y="2402.56" width="32.79" height="52.36" fill="#dade2f"/>
<rect x="3115.36" y="2402.56" width="32.79" height="52.36" fill="#ccd834"/>
<rect x="3147.55" y="2402.56" width="32.79" height="52.36" fill="#c9d736"/>
<rect x="3179.74" y="2402.56" width="97.18" height="52.36" fill="#bdd33c"/>
<rect x="3276.32" y="2402.56" width="64.98" height="52.36" fill="#e4e22c"/>
<rect x="3340.7" y="2402.56" width="32.79" height="52.36" fill="#f5e72c"/>
<rect x="3372.9" y="2402.56" width="97.18" height="52.36" fill="#f8e82c"/>
<rect x="3469.47" y="2402.56" width="32.79" height="52.36" fill="#fcd828"/>
<rect x="3501.66" y="2402.56" width="32.79" height="52.36" fill="#fcc02a"/>
<rect x="3533.86" y="2402.56" width="32.79" height="52.36" fill="#fcd328"/>
<rect x="3566.05" y="2402.56" width="32.79" height="52.36" fill="#fae22a"/>
<rect x="3598.24" y="2402.56" width="64.98" height="52.36" fill="#f8e82c"/>
<rect x="3662.62" y="2402.56" width="32.79" height="52.36" fill="#fcd828"/>
<rect x="3694.82" y="2402.56" width="64.98" height="52.36" fill="#fcc42a"/>
<rect x="2954.4" y="2454.32" width="32.79" height="64.22" fill="#fcb82a"/>
<rect x="2986.59" y="2454.32" width="32.79" height="64.22" fill="#fcc42a"/>
<rect x="3018.78" y="2454.32" width="32.79" height="64.22" fill="#f8e82c"/>
<rect x="3050.98" y="2454.32" width="32.79" height="64.22" fill="#e4e22c"/>
<rect x="3083.17" y="2454.32" width="32.79" height="64.22" fill="#c9d736"/>
<rect x="3115.36" y="2454.32" width="64.98" height="64.22" fill="#c0d43a"/>
<rect x="3179.74" y="2454.32" width="97.18" height="64.22" fill="#bdd33c"/>
<rect x="3276.32" y="2454.32" width="64.98" height="64.22" fill="#e4e22c"/>
<rect x="3340.7" y="2454.32" width="32.79" height="64.22" fill="#f5e72c"/>
<rect x="3372.9" y="2454.32" width="225.94" height="64.22" fill="#f8e82c"/>
<rect x="3598.24" y="2454.32" width="32.79" height="64.22" fill="#e1e12d"/>
<rect x="3630.43" y="2454.32" width="32.79" height="64.22" fill="#eee52c"/>
<rect x="3662.62" y="2454.32" width="64.98" height="64.22" fill="#f8e82c"/>
<rect x="3727.01" y="2454.32" width="32.79" height="64.22" fill="#fbdb29"/>
<rect x="2954.4" y="2517.94" width="32.79" height="34.66" fill="#fcd828"/>
<rect x="2986.59" y="2517.94" width="32.79" height="34.66" fill="#fcc42a"/>
<rect x="3018.78" y="2517.94" width="32.79" height="34.66" fill="#f8e82c"/>
<rect x="3050.98" y="2517.94" width="32.79" height="34.66" fill="#e4e22c"/>
<rect x="3083.17" y="2517.94" width="32.79" height="34.66" fill="#ccd834"/>
<rect x="3115.36" y="2517.94" width="64.98" height="34.66" fill="#c0d43a"/>
<rect x="3179.74" y="2517.94" width="64.98" height="34.66" fill="#b1cf44"/>
<rect x="3244.13" y="2517.94" width="32.79" height="34.66" fill="#bdd33c"/>
<rect x="3276.32" y="2517.94" width="32.79" height="34.66" fill="#ccd834"/>
<rect x="3308.51" y="2517.94" width="32.79" height="34.66" fill="#f8e82c"/>
<rect x="3340.7" y="2517.94" width="32.79" height="34.66" fill="#f5e72c"/>
<rect x="3372.9" y="2517.94" width="225.94" height="34.66" fill="#f8e82c"/>
<rect x="3598.24" y="2517.94" width="32.79" height="34.66" fill="#e7e32c"/>
<rect x="3630.43" y="2517.94" width="64.98" height="34.66" fill="#e4e22c"/>
<rect x="3694.82" y="2517.94" width="32.79" height="34.66" fill="#f5e72c"/>
<rect x="3727.01" y="2517.94" width="32.79" height="34.66" fill="#f8e82c"/>
</g>
<path d="M2986.59 1990V2552M3018.78 1990V2552M3050.98 1990V2552M3083.17 1990V2552M3115.36 1990V2552M3147.55 1990V2552M3179.74 1990V2552M3211.94 1990V2552M3244.13 1990V2552M3276.32 1990V2552M3308.51 1990V2552M3340.7 1990V2552M3372.9 1990V2552M3405.09 1990V2552M3437.28 1990V2552M3469.47 1990V2552M3501.66 1990V2552M3533.86 1990V2552M3566.05 1990V2552M3598.24 1990V2552M3630.43 1990V2552M3662.62 1990V2552M3694.82 1990V2552M3727.01 1990V2552M2954.4 2012.82H3759.2M2954.4 2036.7H3759.2M2954.4 2059.91H3759.2M2954.4 2083.29H3759.2M2954.4 2106.5H3759.2M2954.4 2129.88H3759.2M2954.4 2154.61H3759.2M2954.4 2179.23H3759.2M2954.4 2204.23H3759.2M2954.4 2230.87H3759.2M2954.4 2258.41H3759.2M2954.4 2288.53H3759.2M2954.4 2321.36H3759.2M2954.4 2359.01H3759.2M2954.4 2402.56H3759.2M2954.4 2454.32H3759.2M2954.4 2517.94H3759.2" stroke="#ffffff" stroke-opacity="0.075" stroke-width="1" fill="none"/>
</g>
<rect x="2954.4" y="1986.1" width="804.8" height="561.9" fill="none" stroke="#161314" stroke-width="4.2"/>
<text x="2932.3" y="2109.07" font-size="39" text-anchor="end" fill="#2c2623">50</text>
<text x="2932.3" y="2224.16" font-size="39" text-anchor="end" fill="#2c2623">100</text>
<text x="2932.3" y="2339.26" font-size="39" text-anchor="end" fill="#2c2623">150</text>
<text x="2932.3" y="2454.37" font-size="39" text-anchor="end" fill="#2c2623">200</text>
<text x="2932.3" y="2569.47" font-size="39" text-anchor="end" fill="#2c2623">250</text>
<text x="3081.5" y="2609" font-size="39" text-anchor="middle" fill="#2c2623">5</text>
<text x="3242.4" y="2609" font-size="39" text-anchor="middle" fill="#2c2623">10</text>
<text x="3403.3" y="2609" font-size="39" text-anchor="middle" fill="#2c2623">15</text>
<text x="3564.2" y="2609" font-size="39" text-anchor="middle" fill="#2c2623">20</text>
<text x="3725.1" y="2609" font-size="39" text-anchor="middle" fill="#2c2623">25</text>
<text x="3219.6" y="2666.4" font-size="44" fill="#2c2623" textLength="212.9" lengthAdjust="spacingAndGlyphs">Cup number</text>
<text x="2807" y="2391.8" font-size="44.5" fill="#2c2623" textLength="222.8" lengthAdjust="spacingAndGlyphs" transform="rotate(-90 2807 2391.8)">Depth (in m)</text>
<rect x="3720.9" y="2059" width="230.7" height="446.2" fill="#ffffff" stroke="#0f0d0d" stroke-width="3.8" rx="48"/>
<g shape-rendering="crispEdges">
<rect x="3766.6" y="2475.35" width="54.8" height="6.75" fill="#412b70"/>
<rect x="3766.6" y="2469.19" width="54.8" height="6.75" fill="#422e75"/>
<rect x="3766.6" y="2463.04" width="54.8" height="6.75" fill="#433179"/>
<rect x="3766.6" y="2456.88" width="54.8" height="6.75" fill="#45337d"/>
<rect x="3766.6" y="2450.73" width="54.8" height="6.75" fill="#463782"/>
<rect x="3766.6" y="2444.57" width="54.8" height="6.75" fill="#473d87"/>
<rect x="3766.6" y="2438.42" width="54.8" height="6.75" fill="#49428b"/>
<rect x="3766.6" y="2432.26" width="54.8" height="6.75" fill="#4a4790"/>
<rect x="3766.6" y="2426.11" width="54.8" height="6.75" fill="#4d4c93"/>
<rect x="3766.6" y="2419.95" width="54.8" height="6.75" fill="#504f96"/>
<rect x="3766.6" y="2413.8" width="54.8" height="6.75" fill="#525399"/>
<rect x="3766.6" y="2407.64" width="54.8" height="6.75" fill="#54579c"/>
<rect x="3766.6" y="2401.49" width="54.8" height="6.75" fill="#565b9f"/>
<rect x="3766.6" y="2395.33" width="54.8" height="6.75" fill="#5861a3"/>
<rect x="3766.6" y="2389.18" width="54.8" height="6.75" fill="#5b68a8"/>
<rect x="3766.6" y="2383.03" width="54.8" height="6.75" fill="#5c6fad"/>
<rect x="3766.6" y="2376.87" width="54.8" height="6.75" fill="#5f79b4"/>
<rect x="3766.6" y="2370.72" width="54.8" height="6.75" fill="#6486bd"/>
<rect x="3766.6" y="2364.56" width="54.8" height="6.75" fill="#6794c7"/>
<rect x="3766.6" y="2358.41" width="54.8" height="6.75" fill="#68a4d3"/>
<rect x="3766.6" y="2352.25" width="54.8" height="6.75" fill="#68b2de"/>
<rect x="3766.6" y="2346.1" width="54.8" height="6.75" fill="#66bde6"/>
<rect x="3766.6" y="2339.94" width="54.8" height="6.75" fill="#71c1de"/>
<rect x="3766.6" y="2333.79" width="54.8" height="6.75" fill="#7bc4d6"/>
<rect x="3766.6" y="2327.63" width="54.8" height="6.75" fill="#81c6cd"/>
<rect x="3766.6" y="2321.48" width="54.8" height="6.75" fill="#84c6c1"/>
<rect x="3766.6" y="2315.32" width="54.8" height="6.75" fill="#84c4b1"/>
<rect x="3766.6" y="2309.17" width="54.8" height="6.75" fill="#86c5a3"/>
<rect x="3766.6" y="2303.01" width="54.8" height="6.75" fill="#89c595"/>
<rect x="3766.6" y="2296.86" width="54.8" height="6.75" fill="#8fc684"/>
<rect x="3766.6" y="2290.7" width="54.8" height="6.75" fill="#97c872"/>
<rect x="3766.6" y="2284.55" width="54.8" height="6.75" fill="#9fc961"/>
<rect x="3766.6" y="2278.4" width="54.8" height="6.75" fill="#a8cb52"/>
<rect x="3766.6" y="2272.24" width="54.8" height="6.75" fill="#b0cf46"/>
<rect x="3766.6" y="2266.09" width="54.8" height="6.75" fill="#b9d23e"/>
<rect x="3766.6" y="2259.93" width="54.8" height="6.75" fill="#c2d539"/>
<rect x="3766.6" y="2253.78" width="54.8" height="6.75" fill="#ccd834"/>
<rect x="3766.6" y="2247.62" width="54.8" height="6.75" fill="#d6dc31"/>
<rect x="3766.6" y="2241.47" width="54.8" height="6.75" fill="#e1e12d"/>
<rect x="3766.6" y="2235.31" width="54.8" height="6.75" fill="#ebe42c"/>
<rect x="3766.6" y="2229.16" width="54.8" height="6.75" fill="#f6e72c"/>
<rect x="3766.6" y="2223" width="54.8" height="6.75" fill="#fbdc29"/>
<rect x="3766.6" y="2216.85" width="54.8" height="6.75" fill="#fcc02a"/>
<rect x="3766.6" y="2210.69" width="54.8" height="6.75" fill="#fbb02a"/>
<rect x="3766.6" y="2204.54" width="54.8" height="6.75" fill="#f8a42a"/>
<rect x="3766.6" y="2198.38" width="54.8" height="6.75" fill="#f5992b"/>
<rect x="3766.6" y="2192.23" width="54.8" height="6.75" fill="#f38e2c"/>
<rect x="3766.6" y="2186.07" width="54.8" height="6.75" fill="#f1822c"/>
<rect x="3766.6" y="2179.92" width="54.8" height="6.75" fill="#ef752c"/>
<rect x="3766.6" y="2173.77" width="54.8" height="6.75" fill="#ed682c"/>
<rect x="3766.6" y="2167.61" width="54.8" height="6.75" fill="#eb5c2c"/>
<rect x="3766.6" y="2161.46" width="54.8" height="6.75" fill="#ea522c"/>
<rect x="3766.6" y="2155.3" width="54.8" height="6.75" fill="#e9482b"/>
<rect x="3766.6" y="2149.15" width="54.8" height="6.75" fill="#e83d2a"/>
<rect x="3766.6" y="2142.99" width="54.8" height="6.75" fill="#e73a2a"/>
<rect x="3766.6" y="2136.84" width="54.8" height="6.75" fill="#e7372a"/>
<rect x="3766.6" y="2130.68" width="54.8" height="6.75" fill="#e6352a"/>
<rect x="3766.6" y="2124.53" width="54.8" height="6.75" fill="#de322a"/>
<rect x="3766.6" y="2118.37" width="54.8" height="6.75" fill="#c92f29"/>
<rect x="3766.6" y="2112.22" width="54.8" height="6.75" fill="#b92e28"/>
<rect x="3766.6" y="2106.06" width="54.8" height="6.75" fill="#a62d28"/>
<rect x="3766.6" y="2099.91" width="54.8" height="6.75" fill="#952c28"/>
<rect x="3766.6" y="2093.75" width="54.8" height="6.75" fill="#892b26"/>
<rect x="3766.6" y="2087.6" width="54.8" height="6.75" fill="#7f2a25"/>
</g>
<rect x="3766.6" y="2087.6" width="54.8" height="393.9" fill="none" stroke="#332c29" stroke-width="2.8"/>
<line x1="3814.9" y1="2481.6" x2="3821.4" y2="2481.6" stroke="#1d1a18" stroke-width="2.8"/>
<text x="3832.5" y="2491.94" font-size="24" fill="#2c2623">35</text>
<line x1="3814.9" y1="2402.9" x2="3821.4" y2="2402.9" stroke="#1d1a18" stroke-width="2.8"/>
<text x="3832.5" y="2413.24" font-size="24" fill="#2c2623">35.2</text>
<line x1="3814.9" y1="2324.2" x2="3821.4" y2="2324.2" stroke="#1d1a18" stroke-width="2.8"/>
<text x="3832.5" y="2334.54" font-size="24" fill="#2c2623">35.4</text>
<line x1="3814.9" y1="2245.5" x2="3821.4" y2="2245.5" stroke="#1d1a18" stroke-width="2.8"/>
<text x="3832.5" y="2255.84" font-size="24" fill="#2c2623">35.6</text>
<line x1="3814.9" y1="2166.8" x2="3821.4" y2="2166.8" stroke="#1d1a18" stroke-width="2.8"/>
<text x="3832.5" y="2177.14" font-size="24" fill="#2c2623">35.8</text>
<line x1="3814.9" y1="2088.1" x2="3821.4" y2="2088.1" stroke="#1d1a18" stroke-width="2.8"/>
<text x="3832.5" y="2098.44" font-size="24" fill="#2c2623">36</text>
<text x="3925.5" y="2339" font-size="39" fill="#2c2623" textLength="113" lengthAdjust="spacingAndGlyphs" transform="rotate(-90 3925.5 2339)">Salinity</text>
</svg></body></html>
